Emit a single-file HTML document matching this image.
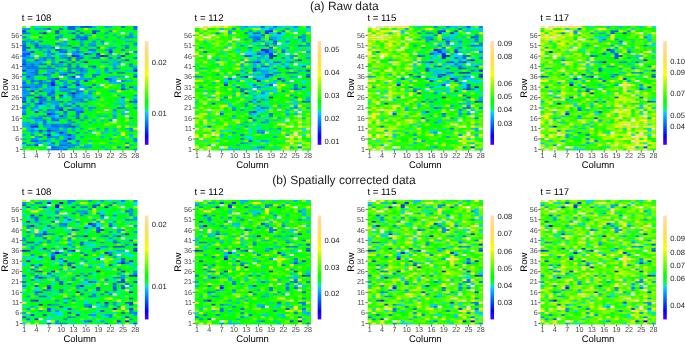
<!DOCTYPE html><html><head><meta charset="utf-8"><style>
html,body{margin:0;padding:0;background:#fff;width:685px;height:345px;overflow:hidden}
svg{display:block;font-family:"Liberation Sans",sans-serif;will-change:transform;text-rendering:geometricPrecision}
.tk{font-size:7.2px;fill:#4d4d4d}
.cl{font-size:7.6px;fill:#1a1a1a}
.at{font-size:9.5px;fill:#000}
.tt{font-size:9.6px;fill:#000}
.hd{font-size:12px;fill:#1a1a1a}
</style></head><body>
<svg width="685" height="345" viewBox="0 0 685 345">
<defs><linearGradient id="cb" x1="0" y1="1" x2="0" y2="0">
<stop offset="0.0000" stop-color="#4c00ff"/><stop offset="0.0083" stop-color="#4500ff"/><stop offset="0.0167" stop-color="#3d00ff"/><stop offset="0.0250" stop-color="#3600ff"/><stop offset="0.0333" stop-color="#2e00ff"/><stop offset="0.0417" stop-color="#2600ff"/><stop offset="0.0500" stop-color="#1f00ff"/><stop offset="0.0583" stop-color="#1700ff"/><stop offset="0.0667" stop-color="#0f00ff"/><stop offset="0.0750" stop-color="#0800ff"/><stop offset="0.0833" stop-color="#0000ff"/><stop offset="0.0917" stop-color="#0008ff"/><stop offset="0.1000" stop-color="#000fff"/><stop offset="0.1083" stop-color="#0017ff"/><stop offset="0.1167" stop-color="#001fff"/><stop offset="0.1250" stop-color="#0026ff"/><stop offset="0.1333" stop-color="#002eff"/><stop offset="0.1417" stop-color="#0036ff"/><stop offset="0.1500" stop-color="#003dff"/><stop offset="0.1583" stop-color="#0045ff"/><stop offset="0.1667" stop-color="#004cff"/><stop offset="0.1750" stop-color="#0054ff"/><stop offset="0.1833" stop-color="#005cff"/><stop offset="0.1917" stop-color="#0063ff"/><stop offset="0.2000" stop-color="#006bff"/><stop offset="0.2083" stop-color="#0073ff"/><stop offset="0.2167" stop-color="#007aff"/><stop offset="0.2250" stop-color="#0082ff"/><stop offset="0.2333" stop-color="#008aff"/><stop offset="0.2417" stop-color="#0091ff"/><stop offset="0.2500" stop-color="#0099ff"/><stop offset="0.2583" stop-color="#00a1ff"/><stop offset="0.2667" stop-color="#00a8ff"/><stop offset="0.2750" stop-color="#00b0ff"/><stop offset="0.2833" stop-color="#00b8ff"/><stop offset="0.2917" stop-color="#00bfff"/><stop offset="0.3000" stop-color="#00c7ff"/><stop offset="0.3083" stop-color="#00cfff"/><stop offset="0.3167" stop-color="#00d6ff"/><stop offset="0.3250" stop-color="#00deff"/><stop offset="0.3333" stop-color="#00ff4d"/><stop offset="0.3417" stop-color="#00ff45"/><stop offset="0.3500" stop-color="#00ff3d"/><stop offset="0.3583" stop-color="#00ff36"/><stop offset="0.3667" stop-color="#00ff2e"/><stop offset="0.3750" stop-color="#00ff26"/><stop offset="0.3833" stop-color="#00ff1f"/><stop offset="0.3917" stop-color="#00ff17"/><stop offset="0.4000" stop-color="#00ff0f"/><stop offset="0.4083" stop-color="#00ff08"/><stop offset="0.4167" stop-color="#00ff00"/><stop offset="0.4250" stop-color="#08ff00"/><stop offset="0.4333" stop-color="#0fff00"/><stop offset="0.4417" stop-color="#17ff00"/><stop offset="0.4500" stop-color="#1fff00"/><stop offset="0.4583" stop-color="#26ff00"/><stop offset="0.4667" stop-color="#2eff00"/><stop offset="0.4750" stop-color="#36ff00"/><stop offset="0.4833" stop-color="#3dff00"/><stop offset="0.4917" stop-color="#45ff00"/><stop offset="0.5000" stop-color="#4dff00"/><stop offset="0.5083" stop-color="#54ff00"/><stop offset="0.5167" stop-color="#5cff00"/><stop offset="0.5250" stop-color="#63ff00"/><stop offset="0.5333" stop-color="#6bff00"/><stop offset="0.5417" stop-color="#73ff00"/><stop offset="0.5500" stop-color="#7aff00"/><stop offset="0.5583" stop-color="#82ff00"/><stop offset="0.5667" stop-color="#8aff00"/><stop offset="0.5750" stop-color="#91ff00"/><stop offset="0.5833" stop-color="#99ff00"/><stop offset="0.5917" stop-color="#a1ff00"/><stop offset="0.6000" stop-color="#a8ff00"/><stop offset="0.6083" stop-color="#b0ff00"/><stop offset="0.6167" stop-color="#b8ff00"/><stop offset="0.6250" stop-color="#bfff00"/><stop offset="0.6333" stop-color="#c7ff00"/><stop offset="0.6417" stop-color="#cfff00"/><stop offset="0.6500" stop-color="#d6ff00"/><stop offset="0.6583" stop-color="#deff00"/><stop offset="0.6667" stop-color="#ffff00"/><stop offset="0.6750" stop-color="#fffc04"/><stop offset="0.6833" stop-color="#fffa09"/><stop offset="0.6917" stop-color="#fff80d"/><stop offset="0.7000" stop-color="#fff612"/><stop offset="0.7083" stop-color="#fff316"/><stop offset="0.7167" stop-color="#fff11b"/><stop offset="0.7250" stop-color="#ffef1f"/><stop offset="0.7333" stop-color="#ffed24"/><stop offset="0.7417" stop-color="#ffec28"/><stop offset="0.7500" stop-color="#ffea2d"/><stop offset="0.7583" stop-color="#ffe831"/><stop offset="0.7667" stop-color="#ffe736"/><stop offset="0.7750" stop-color="#ffe53a"/><stop offset="0.7833" stop-color="#ffe43e"/><stop offset="0.7917" stop-color="#ffe343"/><stop offset="0.8000" stop-color="#ffe247"/><stop offset="0.8083" stop-color="#ffe14c"/><stop offset="0.8167" stop-color="#ffe050"/><stop offset="0.8250" stop-color="#ffdf55"/><stop offset="0.8333" stop-color="#ffde59"/><stop offset="0.8417" stop-color="#ffdd5e"/><stop offset="0.8500" stop-color="#ffdc62"/><stop offset="0.8583" stop-color="#ffdc67"/><stop offset="0.8667" stop-color="#ffdc6b"/><stop offset="0.8750" stop-color="#ffdb70"/><stop offset="0.8833" stop-color="#ffdb74"/><stop offset="0.8917" stop-color="#ffdb78"/><stop offset="0.9000" stop-color="#ffdb7d"/><stop offset="0.9083" stop-color="#ffdb81"/><stop offset="0.9167" stop-color="#ffdb86"/><stop offset="0.9250" stop-color="#ffdb8a"/><stop offset="0.9333" stop-color="#ffdb8f"/><stop offset="0.9417" stop-color="#ffdb93"/><stop offset="0.9500" stop-color="#ffdc98"/><stop offset="0.9583" stop-color="#ffdc9c"/><stop offset="0.9667" stop-color="#ffdda1"/><stop offset="0.9750" stop-color="#ffdea5"/><stop offset="0.9833" stop-color="#ffdfaa"/><stop offset="0.9917" stop-color="#ffdfae"/><stop offset="1.0000" stop-color="#ffe0b2"/>
</linearGradient></defs>
<text class="hd" x="344.3" y="9.6" text-anchor="middle">(a) Raw data</text>
<svg x="22.15" y="26.0" width="115.2" height="124.45" viewBox="0 0 28 60" preserveAspectRatio="none"><rect width="28" height="60" fill="#00ff41"/><path fill="#3600ff" d="M7 28h1v1H7z"/><path fill="#1f00ff" d="M12 32h1v1H12zM4 37h1v1H4zM3 48h1v1H3z"/><path fill="#1300ff" d="M5 3h1v1H5zM15 17h1v1H15zM27 21h1v1H27zM12 24h1v1H12z"/><path fill="#000fff" d="M3 34h1v1H3z"/><path fill="#001bff" d="M12 6h1v1H12zM1 13h1v1H1zM12 14h1v1H12zM9 17h1v1H9zM1 24h1v1H1zM9 33h1v1H9zM4 34h1v1H4zM0 36h1v1H0zM9 40h1v1H9zM3 41h1v1H3zM6 42h1v1H6zM6 50h1v1H6zM9 51h1v1H9zM11 54h1v1H11z"/><path fill="#0026ff" d="M0 2h1v1H0zM8 2h1v1H8zM17 3h1v1H17zM1 10h1v1H1zM2 12h1v1H2zM21 12h1v1H21zM15 13h1v1H15zM18 13h1v1H18zM19 14h1v1H19zM24 14h1v1H24zM0 21h1v1H0zM5 23h1v1H5zM7 27h1v1H7zM13 28h1v1H13zM1 29h1v1H1zM10 29h1v1H10zM2 31h1v1H2zM9 43h1v1H9zM2 48h1v1H2zM12 48h1v1H12zM4 50h1v1H4zM6 52h1v1H6zM3 57h1v1H3z"/><path fill="#0032ff" d="M17 2h1v1H17zM12 3h1v1H12zM3 9h1v1H3zM13 14h1v1H13zM20 14h1v1H20zM0 18h1v1H0zM17 19h1v1H17zM10 23h1v1H10zM8 25h1v1H8zM20 25h1v1H20zM15 26h1v1H15zM24 30h1v1H24zM4 31h1v1H4zM7 34h1v1H7zM14 41h1v1H14zM13 44h1v1H13zM11 52h1v1H11z"/><path fill="#003dff" d="M8 3h1v1H8zM25 16h1v1H25zM26 29h1v1H26zM24 34h1v1H24zM27 36h1v1H27z"/><path fill="#0049ff" d="M27 24h1v1H27zM26 36h1v1H26zM25 58h1v1H25z"/><path fill="#0054ff" d="M15 0h1v1H15zM14 3h1v1H14zM15 5h1v1H15zM15 6h1v1H15zM7 10h1v1H7zM10 12h1v1H10zM11 15h1v1H11zM3 16h1v1H3zM12 17h1v1H12zM11 18h1v1H11zM2 19h1v1H2zM1 20h1v1H1zM3 21h1v1H3zM12 22h1v1H12zM3 23h1v1H3zM0 29h1v1H0zM3 29h1v1H3zM5 35h1v1H5zM2 36h1v1H2zM4 36h1v1H4zM9 36h1v1H9zM8 45h1v1H8zM11 45h1v1H11zM11 48h1v1H11zM10 55h1v1H10zM7 56h1v1H7zM7 58h1v1H7zM10 59h1v1H10z"/><path fill="#0060ff" d="M11 0h2v1H11zM14 0h1v1H14zM16 0h1v1H16zM11 1h2v1H11zM13 2h1v1H13zM18 2h1v1H18zM0 3h1v1H0zM13 4h1v1H13zM8 5h1v1H8zM14 6h1v1H14zM0 7h1v1H0zM2 7h1v1H2zM4 7h1v1H4zM0 9h1v1H0zM11 9h1v1H11zM0 10h1v1H0zM4 10h1v1H4zM25 10h1v1H25zM0 11h1v1H0zM8 11h1v1H8zM9 12h1v1H9zM13 12h1v1H13zM0 13h1v1H0zM0 14h1v1H0zM5 15h1v1H5zM11 16h1v1H11zM13 16h1v1H13zM7 18h1v1H7zM6 19h1v1H6zM5 20h1v1H5zM14 20h1v1H14zM3 22h1v1H3zM7 22h1v1H7zM11 22h1v1H11zM14 23h1v1H14zM17 23h1v1H17zM2 26h1v1H2zM7 26h1v1H7zM0 27h1v1H0zM16 29h1v1H16zM13 31h1v1H13zM12 33h1v1H12zM0 34h1v1H0zM12 34h1v1H12zM0 35h1v1H0zM4 35h1v1H4zM11 38h1v1H11zM13 38h1v1H13zM11 40h2v1H11zM10 41h1v1H10zM0 42h1v1H0zM7 42h1v1H7zM13 42h1v1H13zM3 44h2v1H3zM7 44h1v1H7zM5 45h1v1H5zM7 45h1v1H7zM5 46h1v1H5zM11 47h1v1H11zM8 48h1v1H8zM10 48h1v1H10zM13 51h1v1H13zM3 55h1v1H3zM13 55h1v1H13zM11 56h1v1H11zM9 57h1v1H9zM12 57h1v1H12zM8 58h1v1H8z"/><path fill="#006bff" d="M24 0h1v1H24zM27 0h1v1H27zM6 1h1v1H6zM9 1h1v1H9zM21 2h1v1H21zM13 5h2v1H13zM25 5h1v1H25zM19 7h1v1H19zM3 8h1v1H3zM8 8h1v1H8zM27 8h1v1H27zM17 9h1v1H17zM3 10h1v1H3zM12 10h2v1H12zM18 10h1v1H18zM9 11h1v1H9zM16 11h2v1H16zM21 11h1v1H21zM6 12h1v1H6zM7 13h1v1H7zM25 13h1v1H25zM7 15h1v1H7zM13 15h2v1H13zM17 15h1v1H17zM23 15h1v1H23zM0 16h1v1H0zM5 16h1v1H5zM0 17h1v1H0zM20 17h1v1H20zM2 18h1v1H2zM4 18h2v1H4zM1 19h1v1H1zM3 19h1v1H3zM8 19h1v1H8zM11 19h1v1H11zM13 19h1v1H13zM2 20h3v1H2zM6 20h2v1H6zM12 20h1v1H12zM11 21h1v1H11zM14 21h1v1H14zM2 22h1v1H2zM24 22h1v1H24zM0 23h1v1H0zM9 23h1v1H9zM13 23h1v1H13zM7 25h1v1H7zM4 26h1v1H4zM4 27h1v1H4zM6 27h1v1H6zM4 28h1v1H4zM17 28h1v1H17zM9 29h1v1H9zM11 30h1v1H11zM7 31h1v1H7zM6 32h2v1H6zM11 32h1v1H11zM16 32h1v1H16zM1 33h2v1H1zM6 33h1v1H6zM7 35h1v1H7zM14 35h1v1H14zM11 36h1v1H11zM3 37h1v1H3zM12 37h1v1H12zM8 38h1v1H8zM0 39h1v1H0zM8 39h2v1H8zM6 40h1v1H6zM13 41h1v1H13zM5 43h1v1H5zM13 43h1v1H13zM12 46h1v1H12zM2 47h1v1H2zM5 47h1v1H5zM7 47h2v1H7zM10 47h1v1H10zM7 48h1v1H7zM6 49h1v1H6zM7 50h1v1H7zM6 53h1v1H6zM2 55h1v1H2zM5 55h1v1H5zM1 57h1v1H1zM10 57h1v1H10zM11 58h1v1H11zM7 59h2v1H7z"/><path fill="#0077ff" d="M27 1h1v1H27zM1 3h1v1H1zM4 3h1v1H4zM0 5h1v1H0zM4 5h1v1H4zM17 7h1v1H17zM0 8h1v1H0zM24 11h1v1H24zM27 12h1v1H27zM18 14h1v1H18zM18 15h1v1H18zM21 15h1v1H21zM26 18h1v1H26zM0 19h1v1H0zM16 19h1v1H16zM11 20h1v1H11zM13 20h1v1H13zM22 20h1v1H22zM20 21h1v1H20zM23 22h1v1H23zM18 23h1v1H18zM11 24h1v1H11zM17 24h1v1H17zM21 25h1v1H21zM13 26h1v1H13zM24 26h1v1H24zM12 27h2v1H12zM12 30h1v1H12zM10 31h1v1H10zM14 31h1v1H14zM13 32h1v1H13zM5 34h1v1H5zM15 34h1v1H15zM18 34h1v1H18zM13 35h1v1H13zM14 36h2v1H14zM16 39h1v1H16zM23 39h1v1H23zM22 43h1v1H22zM15 44h1v1H15zM14 45h1v1H14zM3 47h1v1H3zM2 50h1v1H2zM4 53h1v1H4zM0 56h1v1H0zM23 58h1v1H23z"/><path fill="#0082ff" d="M20 3h1v1H20zM26 4h1v1H26zM26 5h1v1H26zM25 9h1v1H25zM22 10h1v1H22zM27 15h1v1H27zM23 17h1v1H23zM26 19h1v1H26zM20 20h1v1H20zM27 20h1v1H27zM21 22h1v1H21zM21 26h1v1H21zM24 28h1v1H24zM24 29h1v1H24zM16 35h1v1H16zM22 40h1v1H22zM21 45h1v1H21zM25 56h1v1H25z"/><path fill="#008eff" d="M15 4h1v1H15zM14 8h1v1H14zM14 9h1v1H14zM5 10h1v1H5zM10 11h1v1H10zM12 13h1v1H12zM16 13h1v1H16zM2 15h1v1H2zM10 15h1v1H10zM1 18h1v1H1zM10 19h1v1H10zM8 21h1v1H8zM13 21h1v1H13zM10 22h1v1H10zM6 23h1v1H6zM27 23h1v1H27zM6 24h1v1H6zM2 25h1v1H2zM3 26h1v1H3zM9 26h1v1H9zM5 27h1v1H5zM0 28h1v1H0zM3 28h1v1H3zM6 28h1v1H6zM11 28h1v1H11zM0 30h1v1H0zM7 30h1v1H7zM13 30h1v1H13zM0 31h2v1H0zM9 31h1v1H9zM0 32h1v1H0zM4 33h1v1H4zM27 33h1v1H27zM9 34h1v1H9zM2 35h1v1H2zM12 35h1v1H12zM27 35h1v1H27zM5 36h2v1H5zM8 36h1v1H8zM0 38h1v1H0zM3 38h1v1H3zM10 38h1v1H10zM24 39h1v1H24zM27 39h1v1H27zM4 40h1v1H4zM7 40h1v1H7zM0 41h1v1H0zM7 41h1v1H7zM10 42h1v1H10zM4 43h1v1H4zM6 43h1v1H6zM2 44h1v1H2zM26 44h1v1H26zM3 45h1v1H3zM9 47h1v1H9zM9 48h1v1H9zM8 49h1v1H8zM20 49h1v1H20zM26 49h1v1H26zM8 50h1v1H8zM26 50h1v1H26zM4 51h1v1H4zM6 51h1v1H6zM10 51h1v1H10zM2 52h1v1H2zM5 52h1v1H5zM7 53h2v1H7zM27 54h1v1H27zM27 55h1v1H27zM11 57h1v1H11zM9 58h1v1H9zM6 59h1v1H6zM9 59h1v1H9zM27 59h1v1H27z"/><path fill="#0099ff" d="M20 0h1v1H20zM0 1h1v1H0zM1 7h1v1H1zM10 7h1v1H10zM14 7h1v1H14zM16 8h1v1H16zM5 9h1v1H5zM16 9h1v1H16zM6 10h1v1H6zM15 10h1v1H15zM4 11h1v1H4zM13 11h1v1H13zM0 12h1v1H0zM12 12h1v1H12zM1 14h1v1H1zM6 14h1v1H6zM9 14h2v1H9zM1 15h1v1H1zM4 15h1v1H4zM6 15h1v1H6zM9 15h1v1H9zM4 16h1v1H4zM7 16h1v1H7zM1 17h1v1H1zM3 17h1v1H3zM10 17h1v1H10zM14 17h1v1H14zM19 17h1v1H19zM8 18h1v1H8zM13 18h1v1H13zM9 19h1v1H9zM0 20h1v1H0zM15 21h1v1H15zM1 22h1v1H1zM9 22h1v1H9zM14 22h1v1H14zM1 23h2v1H1zM2 24h1v1H2zM14 24h1v1H14zM6 25h1v1H6zM12 25h1v1H12zM15 25h2v1H15zM2 27h1v1H2zM10 27h1v1H10zM2 28h1v1H2zM10 28h1v1H10zM2 29h1v1H2zM4 29h1v1H4zM6 29h1v1H6zM15 29h1v1H15zM3 30h1v1H3zM5 30h1v1H5zM11 31h1v1H11zM1 32h1v1H1zM3 32h1v1H3zM0 33h1v1H0zM7 33h1v1H7zM13 34h1v1H13zM8 37h1v1H8zM2 39h1v1H2zM14 39h1v1H14zM8 40h1v1H8zM13 40h2v1H13zM10 43h1v1H10zM1 44h1v1H1zM4 45h1v1H4zM1 46h1v1H1zM5 48h2v1H5zM2 49h1v1H2zM7 49h1v1H7zM10 49h1v1H10zM14 49h1v1H14zM12 50h1v1H12zM10 52h1v1H10zM3 53h1v1H3zM11 53h2v1H11zM14 53h1v1H14zM2 54h2v1H2zM12 54h1v1H12zM9 55h1v1H9zM9 56h2v1H9zM2 57h1v1H2zM12 58h1v1H12zM15 58h1v1H15z"/><path fill="#00a4ff" d="M13 0h1v1H13zM17 0h1v1H17zM1 1h1v1H1zM3 1h1v1H3zM5 1h1v1H5zM26 3h1v1H26zM9 4h1v1H9zM22 4h1v1H22zM9 5h1v1H9zM23 5h1v1H23zM8 6h1v1H8zM13 6h1v1H13zM18 6h1v1H18zM2 8h1v1H2zM9 8h1v1H9zM17 8h1v1H17zM19 8h1v1H19zM4 9h1v1H4zM6 9h1v1H6zM9 9h2v1H9zM21 10h1v1H21zM6 11h1v1H6zM20 11h1v1H20zM1 12h1v1H1zM5 12h1v1H5zM14 12h1v1H14zM6 13h1v1H6zM13 13h1v1H13zM21 13h1v1H21zM14 14h1v1H14zM0 15h1v1H0zM16 15h1v1H16zM24 16h1v1H24zM2 17h1v1H2zM4 17h1v1H4zM7 17h1v1H7zM3 18h1v1H3zM9 18h1v1H9zM22 18h1v1H22zM22 19h1v1H22zM17 20h1v1H17zM23 20h1v1H23zM1 21h2v1H1zM6 21h2v1H6zM6 22h1v1H6zM15 22h1v1H15zM4 23h1v1H4zM23 24h2v1H23zM1 25h1v1H1zM11 25h1v1H11zM13 25h2v1H13zM0 26h1v1H0zM5 26h1v1H5zM10 26h1v1H10zM22 26h1v1H22zM1 28h1v1H1zM8 28h1v1H8zM7 29h1v1H7zM2 30h1v1H2zM6 30h1v1H6zM9 30h2v1H9zM5 31h2v1H5zM16 31h2v1H16zM14 32h1v1H14zM11 33h1v1H11zM13 33h1v1H13zM15 33h1v1H15zM14 34h1v1H14zM7 36h1v1H7zM12 36h2v1H12zM1 37h1v1H1zM5 37h1v1H5zM7 37h1v1H7zM10 37h1v1H10zM1 38h1v1H1zM6 38h1v1H6zM3 39h1v1H3zM12 39h2v1H12zM17 39h1v1H17zM2 40h1v1H2zM5 41h2v1H5zM8 42h1v1H8zM7 43h1v1H7zM12 43h1v1H12zM15 43h1v1H15zM8 44h3v1H8zM17 45h1v1H17zM11 46h1v1H11zM16 46h1v1H16zM0 47h2v1H0zM6 47h1v1H6zM1 48h1v1H1zM13 48h1v1H13zM12 49h1v1H12zM18 49h1v1H18zM1 50h1v1H1zM3 50h1v1H3zM5 50h1v1H5zM9 50h2v1H9zM16 50h1v1H16zM2 51h1v1H2zM8 51h1v1H8zM0 52h1v1H0zM9 52h1v1H9zM12 52h1v1H12zM10 53h1v1H10zM6 54h1v1H6zM8 54h1v1H8zM10 54h1v1H10zM4 55h1v1H4zM6 55h1v1H6zM3 56h2v1H3zM13 56h1v1H13zM6 57h2v1H6zM13 57h1v1H13zM10 58h1v1H10zM14 58h1v1H14z"/><path fill="#00b0ff" d="M21 0h1v1H21zM4 1h1v1H4zM11 3h1v1H11zM16 4h1v1H16zM20 5h1v1H20zM27 5h1v1H27zM1 6h1v1H1zM25 7h2v1H25zM10 8h1v1H10zM24 9h1v1H24zM27 9h1v1H27zM17 12h1v1H17zM23 14h1v1H23zM22 16h1v1H22zM21 18h1v1H21zM23 18h1v1H23zM27 19h1v1H27zM15 20h1v1H15zM18 21h1v1H18zM20 22h1v1H20zM22 24h1v1H22zM25 26h1v1H25zM23 27h1v1H23zM14 28h1v1H14zM13 29h2v1H13zM15 30h1v1H15zM25 30h1v1H25zM27 30h1v1H27zM21 31h2v1H21zM14 33h1v1H14zM23 33h1v1H23zM16 34h1v1H16zM15 38h1v1H15zM0 40h1v1H0zM16 40h1v1H16zM22 41h1v1H22zM24 42h1v1H24zM2 43h1v1H2zM19 43h2v1H19zM22 44h1v1H22zM0 46h1v1H0zM3 46h1v1H3zM13 47h1v1H13zM0 48h1v1H0zM1 49h1v1H1zM25 49h1v1H25zM20 50h1v1H20zM22 50h1v1H22zM15 51h1v1H15zM26 52h1v1H26zM19 53h1v1H19zM0 54h1v1H0zM21 54h1v1H21zM15 57h2v1H15zM26 57h1v1H26zM16 58h1v1H16zM19 58h1v1H19zM20 59h1v1H20z"/><path fill="#00bbff" d="M24 6h1v1H24zM22 7h1v1H22zM21 16h1v1H21zM22 17h1v1H22zM22 21h1v1H22zM25 21h2v1H25zM18 22h1v1H18zM21 24h1v1H21zM22 25h1v1H22zM26 26h1v1H26zM21 27h2v1H21zM18 29h1v1H18zM27 29h1v1H27zM16 33h1v1H16zM17 35h1v1H17zM23 37h2v1H23zM27 37h1v1H27zM24 38h1v1H24zM25 40h1v1H25zM22 42h1v1H22zM18 43h1v1H18zM19 45h1v1H19zM22 49h1v1H22zM19 51h1v1H19zM22 52h1v1H22zM16 55h1v1H16zM21 56h1v1H21z"/><path fill="#00c7ff" d="M27 34h1v1H27zM23 35h2v1H23zM24 36h1v1H24zM22 37h1v1H22zM24 41h1v1H24zM26 47h1v1H26zM20 51h1v1H20zM23 51h1v1H23zM26 53h1v1H26zM24 54h1v1H24z"/><path fill="#00d2ff" d="M5 38h1v1H5z"/><path fill="#00deff" d="M3 0h1v1H3zM10 0h1v1H10zM1 4h1v1H1zM3 7h1v1H3zM2 11h1v1H2zM11 11h1v1H11zM16 12h1v1H16zM5 13h1v1H5zM8 13h2v1H8zM2 14h1v1H2zM9 21h1v1H9zM5 22h1v1H5zM0 24h1v1H0zM8 30h1v1H8zM10 33h1v1H10zM10 34h1v1H10zM1 35h1v1H1zM3 36h1v1H3zM11 37h1v1H11zM4 38h1v1H4zM7 38h1v1H7zM3 40h1v1H3zM8 43h1v1H8zM2 45h1v1H2zM4 46h1v1H4zM6 46h1v1H6zM8 46h1v1H8zM3 49h1v1H3zM8 52h1v1H8zM6 56h1v1H6zM0 57h1v1H0z"/><path fill="#00ff49" d="M2 2h1v1H2zM10 2h1v1H10zM12 2h1v1H12zM23 2h1v1H23zM26 2h1v1H26zM23 3h1v1H23zM7 4h1v1H7zM1 5h1v1H1zM11 5h1v1H11zM21 6h1v1H21zM6 7h1v1H6zM1 8h1v1H1zM21 8h1v1H21zM13 9h1v1H13zM2 10h1v1H2zM26 11h1v1H26zM7 12h1v1H7zM11 12h1v1H11zM15 12h1v1H15zM24 12h1v1H24zM2 13h1v1H2zM14 13h1v1H14zM8 14h1v1H8zM27 14h1v1H27zM9 16h1v1H9zM5 17h1v1H5zM8 17h1v1H8zM14 18h1v1H14zM5 19h1v1H5zM24 19h1v1H24zM16 20h1v1H16zM16 23h1v1H16zM4 24h1v1H4zM7 24h1v1H7zM9 27h1v1H9zM9 35h1v1H9zM14 37h1v1H14zM4 39h1v1H4zM11 39h1v1H11zM2 41h1v1H2zM8 41h1v1H8zM2 42h1v1H2zM1 43h1v1H1zM14 43h1v1H14zM0 44h1v1H0zM6 44h1v1H6zM10 46h1v1H10zM4 47h1v1H4zM1 52h1v1H1zM1 55h1v1H1zM7 55h1v1H7zM11 55h1v1H11zM12 56h1v1H12zM13 58h1v1H13zM0 59h1v1H0z"/><path fill="#00ff3d" d="M4 0h1v1H4zM18 0h1v1H18zM22 0h1v1H22zM10 1h1v1H10zM13 1h1v1H13zM16 1h1v1H16zM3 2h1v1H3zM14 4h1v1H14zM10 5h1v1H10zM21 7h1v1H21zM19 9h1v1H19zM22 9h1v1H22zM3 11h1v1H3zM12 11h1v1H12zM3 13h1v1H3zM27 13h1v1H27zM22 14h1v1H22zM25 15h1v1H25zM15 18h1v1H15zM19 18h1v1H19zM25 18h1v1H25zM14 19h1v1H14zM21 19h1v1H21zM18 20h1v1H18zM21 20h1v1H21zM25 20h1v1H25zM12 21h1v1H12zM19 21h1v1H19zM21 21h1v1H21zM27 22h1v1H27zM12 23h1v1H12zM3 24h1v1H3zM10 24h1v1H10zM18 24h1v1H18zM10 25h1v1H10zM8 26h1v1H8zM14 27h1v1H14zM9 28h1v1H9zM18 28h1v1H18zM5 29h1v1H5zM11 29h1v1H11zM15 32h1v1H15zM6 34h1v1H6zM11 34h1v1H11zM17 34h1v1H17zM11 35h1v1H11zM15 35h1v1H15zM17 36h1v1H17zM9 38h1v1H9zM5 39h1v1H5zM4 42h1v1H4zM11 42h1v1H11zM18 44h1v1H18zM14 46h1v1H14zM16 47h1v1H16zM15 48h1v1H15zM4 49h1v1H4zM11 49h1v1H11zM13 50h1v1H13zM17 50h1v1H17zM7 51h1v1H7zM13 53h1v1H13zM18 53h1v1H18zM4 54h1v1H4zM13 54h1v1H13zM14 55h1v1H14zM8 57h1v1H8zM5 59h1v1H5z"/><path fill="#00ff32" d="M18 1h2v1H18zM25 2h1v1H25zM3 3h1v1H3zM6 3h1v1H6zM10 3h1v1H10zM13 3h1v1H13zM19 3h1v1H19zM22 3h1v1H22zM2 4h1v1H2zM11 4h2v1H11zM18 4h1v1H18zM21 4h1v1H21zM18 5h1v1H18zM2 6h1v1H2zM5 6h1v1H5zM25 6h1v1H25zM5 7h1v1H5zM11 7h1v1H11zM15 7h1v1H15zM18 7h1v1H18zM24 7h1v1H24zM7 8h1v1H7zM18 8h1v1H18zM25 8h1v1H25zM8 9h1v1H8zM23 9h1v1H23zM17 10h1v1H17zM26 10h2v1H26zM7 11h1v1H7zM22 11h1v1H22zM18 12h1v1H18zM20 12h1v1H20zM7 14h1v1H7zM15 14h1v1H15zM26 15h1v1H26zM2 16h1v1H2zM8 16h1v1H8zM15 16h1v1H15zM17 16h1v1H17zM17 18h2v1H17zM4 19h1v1H4zM19 20h1v1H19zM8 22h1v1H8zM16 22h2v1H16zM26 22h1v1H26zM15 24h1v1H15zM3 25h1v1H3zM12 26h1v1H12zM27 26h1v1H27zM12 29h1v1H12zM8 31h1v1H8zM8 32h1v1H8zM22 32h2v1H22zM5 33h1v1H5zM24 33h1v1H24zM20 34h1v1H20zM10 35h1v1H10zM16 38h2v1H16zM7 39h1v1H7zM18 39h1v1H18zM22 39h1v1H22zM10 40h1v1H10zM11 41h1v1H11zM27 41h1v1H27zM14 42h1v1H14zM20 42h1v1H20zM24 44h1v1H24zM6 45h1v1H6zM13 46h1v1H13zM27 46h1v1H27zM21 48h1v1H21zM13 49h1v1H13zM21 50h1v1H21zM3 51h1v1H3zM14 51h1v1H14zM21 51h1v1H21zM7 52h1v1H7zM16 52h1v1H16zM0 53h2v1H0zM20 53h1v1H20zM23 54h1v1H23zM12 55h1v1H12zM1 56h1v1H1zM14 56h1v1H14zM27 56h1v1H27zM2 58h1v1H2zM5 58h1v1H5zM11 59h1v1H11zM13 59h1v1H13z"/><path fill="#00ff26" d="M7 0h2v1H7zM8 1h1v1H8zM20 1h1v1H20zM24 2h1v1H24zM21 3h1v1H21zM24 4h1v1H24zM27 4h1v1H27zM12 5h1v1H12zM22 5h1v1H22zM0 6h1v1H0zM17 6h1v1H17zM13 7h1v1H13zM22 8h1v1H22zM23 10h1v1H23zM6 16h1v1H6zM19 16h1v1H19zM18 17h1v1H18zM24 17h1v1H24zM26 17h1v1H26zM6 18h1v1H6zM20 18h1v1H20zM18 19h1v1H18zM20 19h1v1H20zM26 20h1v1H26zM17 21h1v1H17zM24 21h1v1H24zM19 23h1v1H19zM25 25h1v1H25zM14 26h1v1H14zM18 26h3v1H18zM25 27h1v1H25zM5 28h1v1H5zM23 29h1v1H23zM19 30h1v1H19zM4 32h1v1H4zM21 32h1v1H21zM18 33h2v1H18zM25 33h1v1H25zM20 35h1v1H20zM1 36h1v1H1zM18 36h1v1H18zM20 36h1v1H20zM2 37h1v1H2zM26 37h1v1H26zM19 39h1v1H19zM9 41h1v1H9zM1 42h1v1H1zM3 42h1v1H3zM17 42h1v1H17zM26 42h1v1H26zM16 44h2v1H16zM0 45h1v1H0zM20 45h1v1H20zM7 46h1v1H7zM17 46h1v1H17zM18 47h1v1H18zM24 47h1v1H24zM27 47h1v1H27zM4 48h1v1H4zM18 50h1v1H18zM1 51h1v1H1zM16 51h1v1H16zM25 51h1v1H25zM3 52h1v1H3zM14 52h1v1H14zM17 52h1v1H17zM19 52h1v1H19zM25 52h1v1H25zM7 54h1v1H7zM26 54h1v1H26zM24 55h2v1H24zM5 56h1v1H5zM5 57h1v1H5zM18 57h1v1H18zM3 58h1v1H3zM21 58h1v1H21zM22 59h1v1H22z"/><path fill="#00ff1b" d="M5 0h1v1H5zM2 1h1v1H2zM7 1h1v1H7zM17 1h1v1H17zM25 1h2v1H25zM20 2h1v1H20zM27 3h1v1H27zM20 4h1v1H20zM6 6h1v1H6zM9 7h1v1H9zM16 7h1v1H16zM23 8h1v1H23zM1 9h1v1H1zM18 9h1v1H18zM3 12h1v1H3zM8 12h1v1H8zM19 12h1v1H19zM22 12h1v1H22zM8 15h1v1H8zM15 15h1v1H15zM20 15h1v1H20zM10 16h1v1H10zM16 16h1v1H16zM20 16h1v1H20zM26 16h1v1H26zM17 17h1v1H17zM8 20h1v1H8zM11 23h1v1H11zM20 24h1v1H20zM1 27h1v1H1zM19 27h1v1H19zM26 28h1v1H26zM8 29h1v1H8zM17 30h1v1H17zM23 30h1v1H23zM3 31h1v1H3zM5 32h1v1H5zM25 32h1v1H25zM17 33h1v1H17zM1 34h2v1H1zM6 35h1v1H6zM8 35h1v1H8zM22 36h1v1H22zM25 37h1v1H25zM20 38h2v1H20zM10 39h1v1H10zM5 40h1v1H5zM1 41h1v1H1zM4 41h1v1H4zM9 42h1v1H9zM21 42h1v1H21zM16 43h1v1H16zM12 44h1v1H12zM13 45h1v1H13zM18 46h1v1H18zM26 46h1v1H26zM25 47h1v1H25zM16 48h1v1H16zM18 48h1v1H18zM5 49h1v1H5zM21 49h1v1H21zM24 49h1v1H24zM0 50h1v1H0zM5 51h1v1H5zM12 51h1v1H12zM22 51h1v1H22zM15 53h1v1H15zM21 53h1v1H21zM8 55h1v1H8zM8 56h1v1H8zM17 57h1v1H17zM20 57h1v1H20zM23 57h1v1H23zM0 58h1v1H0zM18 58h1v1H18zM20 58h1v1H20zM24 59h1v1H24z"/><path fill="#00ff0f" d="M21 1h1v1H21zM4 2h2v1H4zM9 2h1v1H9zM27 2h1v1H27zM9 3h1v1H9zM16 3h1v1H16zM18 3h1v1H18zM8 4h1v1H8zM25 4h1v1H25zM4 6h1v1H4zM7 6h1v1H7zM20 6h1v1H20zM23 7h1v1H23zM5 8h2v1H5zM2 9h1v1H2zM7 9h1v1H7zM9 10h2v1H9zM20 10h1v1H20zM5 11h1v1H5zM19 11h1v1H19zM17 13h1v1H17zM4 14h1v1H4zM14 16h1v1H14zM16 18h1v1H16zM9 20h1v1H9zM4 21h1v1H4zM19 22h1v1H19zM25 22h1v1H25zM15 23h1v1H15zM0 25h1v1H0zM24 25h1v1H24zM16 26h1v1H16zM8 27h1v1H8zM11 27h1v1H11zM16 27h1v1H16zM12 28h1v1H12zM25 28h1v1H25zM1 30h1v1H1zM12 31h1v1H12zM19 32h2v1H19zM25 34h1v1H25zM26 35h1v1H26zM10 36h1v1H10zM23 36h1v1H23zM6 37h1v1H6zM9 37h1v1H9zM13 37h1v1H13zM19 37h1v1H19zM21 37h1v1H21zM12 38h1v1H12zM1 39h1v1H1zM25 39h1v1H25zM15 40h1v1H15zM12 42h1v1H12zM16 42h1v1H16zM25 42h1v1H25zM3 43h1v1H3zM27 43h1v1H27zM11 44h1v1H11zM14 44h1v1H14zM10 45h1v1H10zM20 46h1v1H20zM12 47h1v1H12zM14 47h2v1H14zM19 47h1v1H19zM22 48h1v1H22zM14 50h1v1H14zM24 50h1v1H24zM11 51h1v1H11zM13 52h1v1H13zM20 52h1v1H20zM23 52h1v1H23zM16 53h1v1H16zM24 53h1v1H24zM1 54h1v1H1zM9 54h1v1H9zM19 54h1v1H19zM17 55h1v1H17zM27 57h1v1H27zM4 59h1v1H4zM12 59h1v1H12zM26 59h1v1H26z"/><path fill="#00ff04" d="M2 0h1v1H2zM6 0h1v1H6zM14 1h1v1H14zM22 1h1v1H22zM2 3h1v1H2zM10 4h1v1H10zM19 4h1v1H19zM6 5h1v1H6zM3 6h1v1H3zM7 7h1v1H7zM12 7h1v1H12zM20 7h1v1H20zM27 7h1v1H27zM12 8h1v1H12zM15 8h1v1H15zM15 9h1v1H15zM15 11h1v1H15zM18 11h1v1H18zM10 13h1v1H10zM5 14h1v1H5zM16 14h1v1H16zM22 15h1v1H22zM1 16h1v1H1zM11 17h1v1H11zM16 17h1v1H16zM21 17h1v1H21zM12 18h1v1H12zM5 21h1v1H5zM10 21h1v1H10zM23 21h1v1H23zM13 22h1v1H13zM23 23h1v1H23zM8 24h1v1H8zM26 25h1v1H26zM17 27h1v1H17zM24 27h1v1H24zM15 28h1v1H15zM27 28h1v1H27zM19 29h1v1H19zM16 30h1v1H16zM22 30h1v1H22zM9 32h1v1H9zM26 32h1v1H26zM20 33h2v1H20zM22 34h1v1H22zM26 34h1v1H26zM21 35h1v1H21zM21 36h1v1H21zM0 37h1v1H0zM22 38h1v1H22zM26 39h1v1H26zM26 40h1v1H26zM12 41h1v1H12zM15 41h2v1H15zM23 41h1v1H23zM15 42h1v1H15zM18 42h1v1H18zM5 44h1v1H5zM12 45h1v1H12zM24 45h1v1H24zM27 45h1v1H27zM25 46h1v1H25zM17 47h1v1H17zM24 48h1v1H24zM27 50h1v1H27zM0 51h1v1H0zM15 52h1v1H15zM5 53h1v1H5zM9 53h1v1H9zM5 54h1v1H5zM15 55h1v1H15zM26 55h1v1H26zM22 56h1v1H22zM19 57h1v1H19zM17 59h1v1H17z"/><path fill="#08ff00" d="M9 0h1v1H9zM25 0h1v1H25zM14 2h1v1H14zM7 3h1v1H7zM15 3h1v1H15zM3 4h1v1H3zM6 4h1v1H6zM21 5h1v1H21zM16 6h1v1H16zM23 6h1v1H23zM11 8h1v1H11zM13 8h1v1H13zM12 9h1v1H12zM20 9h2v1H20zM14 10h1v1H14zM16 10h1v1H16zM4 12h1v1H4zM4 13h1v1H4zM20 13h1v1H20zM23 13h1v1H23zM26 13h1v1H26zM17 14h1v1H17zM26 14h1v1H26zM12 15h1v1H12zM18 16h1v1H18zM23 16h1v1H23zM10 18h1v1H10zM7 19h1v1H7zM25 19h1v1H25zM16 21h1v1H16zM0 22h1v1H0zM20 23h1v1H20zM25 23h1v1H25zM5 24h1v1H5zM19 24h1v1H19zM4 25h1v1H4zM17 25h2v1H17zM1 26h1v1H1zM6 26h1v1H6zM3 27h1v1H3zM16 28h1v1H16zM21 29h1v1H21zM18 30h1v1H18zM20 30h1v1H20zM19 31h2v1H19zM27 31h1v1H27zM10 32h1v1H10zM17 32h1v1H17zM26 33h1v1H26zM3 35h1v1H3zM22 35h1v1H22zM16 36h1v1H16zM15 37h2v1H15zM18 38h1v1H18zM27 38h1v1H27zM6 39h1v1H6zM20 39h1v1H20zM17 40h2v1H17zM17 41h1v1H17zM26 41h1v1H26zM5 42h1v1H5zM19 42h1v1H19zM0 43h1v1H0zM11 43h1v1H11zM21 44h1v1H21zM27 44h1v1H27zM1 45h1v1H1zM15 45h1v1H15zM2 46h1v1H2zM9 46h1v1H9zM19 46h1v1H19zM14 48h1v1H14zM15 49h1v1H15zM11 50h1v1H11zM26 51h1v1H26zM17 53h1v1H17zM0 55h1v1H0zM18 55h1v1H18zM22 57h1v1H22zM15 59h1v1H15zM21 59h1v1H21z"/><path fill="#13ff00" d="M19 0h1v1H19zM26 0h1v1H26zM24 1h1v1H24zM1 2h1v1H1zM7 2h1v1H7zM11 2h1v1H11zM15 2h2v1H15zM5 4h1v1H5zM16 5h1v1H16zM19 5h1v1H19zM24 5h1v1H24zM11 6h1v1H11zM19 6h1v1H19zM22 6h1v1H22zM26 6h2v1H26zM4 8h1v1H4zM24 8h1v1H24zM26 8h1v1H26zM26 9h1v1H26zM11 10h1v1H11zM24 10h1v1H24zM1 11h1v1H1zM14 11h1v1H14zM23 11h1v1H23zM25 11h1v1H25zM23 12h1v1H23zM25 12h1v1H25zM11 14h1v1H11zM21 14h1v1H21zM25 14h1v1H25zM13 17h1v1H13zM12 19h1v1H12zM4 22h1v1H4zM7 23h2v1H7zM21 23h1v1H21zM5 25h1v1H5zM9 25h1v1H9zM19 25h1v1H19zM11 26h1v1H11zM15 27h1v1H15zM26 27h1v1H26zM23 28h1v1H23zM25 29h1v1H25zM4 30h1v1H4zM21 30h1v1H21zM25 31h1v1H25zM24 32h1v1H24zM3 33h1v1H3zM8 33h1v1H8zM21 34h1v1H21zM23 34h1v1H23zM19 36h1v1H19zM25 36h1v1H25zM2 38h1v1H2zM14 38h1v1H14zM26 38h1v1H26zM15 39h1v1H15zM1 40h1v1H1zM23 40h1v1H23zM27 40h1v1H27zM27 42h1v1H27zM24 43h1v1H24zM26 43h1v1H26zM9 45h1v1H9zM26 45h1v1H26zM24 46h1v1H24zM22 47h1v1H22zM17 48h1v1H17zM20 48h1v1H20zM27 48h1v1H27zM9 49h1v1H9zM23 49h1v1H23zM25 50h1v1H25zM14 54h2v1H14zM22 54h1v1H22zM19 55h3v1H19zM2 56h1v1H2zM15 56h1v1H15zM1 58h1v1H1zM4 58h1v1H4zM17 58h1v1H17zM2 59h1v1H2zM18 59h1v1H18z"/><path fill="#1fff00" d="M23 0h1v1H23zM0 4h1v1H0zM23 4h1v1H23zM5 5h1v1H5zM7 5h1v1H7zM27 11h1v1H27zM25 17h1v1H25zM27 17h1v1H27zM27 18h1v1H27zM24 20h1v1H24zM22 22h1v1H22zM22 23h1v1H22zM24 23h1v1H24zM16 24h1v1H16zM26 24h1v1H26zM18 27h1v1H18zM26 30h1v1H26zM18 31h1v1H18zM24 31h1v1H24zM18 35h1v1H18zM21 39h1v1H21zM24 40h1v1H24zM21 43h1v1H21zM23 43h1v1H23zM20 44h1v1H20zM23 44h1v1H23zM15 46h1v1H15zM23 46h1v1H23zM23 47h1v1H23zM19 48h1v1H19zM15 50h1v1H15zM27 51h1v1H27zM21 52h1v1H21zM16 54h3v1H16zM20 54h1v1H20zM18 56h1v1H18zM20 56h1v1H20zM23 56h1v1H23zM21 57h1v1H21zM24 57h1v1H24zM24 58h1v1H24zM26 58h2v1H26zM14 59h1v1H14zM16 59h1v1H16zM23 59h1v1H23zM25 59h1v1H25z"/><path fill="#2aff00" d="M23 1h1v1H23zM25 3h1v1H25zM27 16h1v1H27zM23 19h1v1H23zM26 23h1v1H26zM23 25h1v1H23zM27 25h1v1H27zM20 27h1v1H20zM27 27h1v1H27zM20 28h1v1H20zM22 28h1v1H22zM17 29h1v1H17zM22 29h1v1H22zM19 34h1v1H19zM17 37h1v1H17zM20 37h1v1H20zM23 38h1v1H23zM19 40h1v1H19zM21 40h1v1H21zM19 41h1v1H19zM21 41h1v1H21zM23 42h1v1H23zM17 43h1v1H17zM16 45h1v1H16zM23 45h1v1H23zM17 49h1v1H17zM19 49h1v1H19zM19 50h1v1H19zM23 50h1v1H23zM27 52h1v1H27zM25 54h1v1H25zM23 55h1v1H23zM17 56h1v1H17zM24 56h1v1H24zM26 56h1v1H26zM19 59h1v1H19z"/><path fill="#36ff00" d="M26 31h1v1H26zM27 32h1v1H27zM20 41h1v1H20zM25 44h1v1H25zM18 45h1v1H18zM21 47h1v1H21zM26 48h1v1H26zM23 53h1v1H23zM27 53h1v1H27z"/><path fill="#4dff00" d="M19 2h1v1H19zM4 4h1v1H4zM4 52h1v1H4zM14 57h1v1H14z"/><path fill="#58ff00" d="M17 5h1v1H17zM24 15h1v1H24zM12 16h1v1H12zM10 20h1v1H10zM15 31h1v1H15zM2 32h1v1H2z"/><path fill="#63ff00" d="M8 7h1v1H8zM3 15h1v1H3zM19 15h1v1H19zM15 19h1v1H15zM17 26h1v1H17zM8 34h1v1H8zM22 55h1v1H22zM16 56h1v1H16zM3 59h1v1H3z"/><path fill="#6fff00" d="M2 5h1v1H2zM19 35h1v1H19zM18 37h1v1H18zM21 46h1v1H21zM0 49h1v1H0zM22 53h1v1H22zM25 53h1v1H25z"/><path fill="#7aff00" d="M0 0h1v1H0zM17 4h1v1H17zM3 5h1v1H3zM24 13h1v1H24zM6 17h1v1H6zM19 44h1v1H19zM16 49h1v1H16zM2 53h1v1H2zM19 56h1v1H19zM1 59h1v1H1z"/><path fill="#86ff00" d="M21 28h1v1H21zM19 38h1v1H19z"/><path fill="#91ff00" d="M25 38h1v1H25zM18 41h1v1H18zM18 51h1v1H18zM18 52h1v1H18zM22 58h1v1H22z"/><path fill="#9dff00" d="M22 33h1v1H22zM25 35h1v1H25z"/><path fill="#b4ff00" d="M15 1h1v1H15zM9 6h1v1H9z"/><path fill="#bfff00" d="M19 13h1v1H19zM19 19h1v1H19z"/><path fill="#cbff00" d="M25 45h1v1H25z"/><path fill="#d6ff00" d="M19 10h1v1H19zM18 32h1v1H18zM20 47h1v1H20z"/><path fill="#e2ff00" d="M22 2h1v1H22zM20 29h1v1H20zM22 46h1v1H22zM25 48h1v1H25zM24 51h1v1H24zM25 57h1v1H25z"/><path fill="#fffc04" d="M23 31h1v1H23zM24 52h1v1H24z"/><path fill="#ffe833" d="M27 49h1v1H27z"/><path fill="#ffe341" d="M23 48h1v1H23z"/><path fill="#ffffff" d="M1 0h1v1H1zM6 2h1v1H6zM24 3h1v1H24zM10 6h1v1H10zM20 8h1v1H20zM8 10h1v1H8zM26 12h1v1H26zM11 13h1v1H11zM22 13h1v1H22zM3 14h1v1H3zM24 18h1v1H24zM9 24h1v1H9zM13 24h1v1H13zM25 24h1v1H25zM23 26h1v1H23zM19 28h1v1H19zM14 30h1v1H14zM20 40h1v1H20zM25 41h1v1H25zM25 43h1v1H25zM22 45h1v1H22zM17 51h1v1H17zM4 57h1v1H4zM6 58h1v1H6z"/></svg>
<text class="tt" x="21.849999999999998" y="21.1">t = 108</text>
<text class="tk" x="19.35" y="151.86" text-anchor="end">1</text>
<text class="tk" x="19.35" y="141.49" text-anchor="end">6</text>
<text class="tk" x="19.35" y="131.12" text-anchor="end">11</text>
<text class="tk" x="19.35" y="120.75" text-anchor="end">16</text>
<text class="tk" x="19.35" y="110.38" text-anchor="end">21</text>
<text class="tk" x="19.35" y="100.01" text-anchor="end">26</text>
<text class="tk" x="19.35" y="89.64" text-anchor="end">31</text>
<text class="tk" x="19.35" y="79.27" text-anchor="end">36</text>
<text class="tk" x="19.35" y="68.90" text-anchor="end">41</text>
<text class="tk" x="19.35" y="58.53" text-anchor="end">46</text>
<text class="tk" x="19.35" y="48.15" text-anchor="end">51</text>
<text class="tk" x="19.35" y="37.78" text-anchor="end">56</text>
<text class="tk" x="24.21" y="157.80" text-anchor="middle">1</text>
<text class="tk" x="36.55" y="157.80" text-anchor="middle">4</text>
<text class="tk" x="48.89" y="157.80" text-anchor="middle">7</text>
<text class="tk" x="61.24" y="157.80" text-anchor="middle">10</text>
<text class="tk" x="73.58" y="157.80" text-anchor="middle">13</text>
<text class="tk" x="85.92" y="157.80" text-anchor="middle">16</text>
<text class="tk" x="98.26" y="157.80" text-anchor="middle">19</text>
<text class="tk" x="110.61" y="157.80" text-anchor="middle">22</text>
<text class="tk" x="122.95" y="157.80" text-anchor="middle">25</text>
<text class="tk" x="135.29" y="157.80" text-anchor="middle">28</text>
<path d="M19.95 149.41H22.15M19.95 139.04H22.15M19.95 128.67H22.15M19.95 118.30H22.15M19.95 107.93H22.15M19.95 97.56H22.15M19.95 87.19H22.15M19.95 76.82H22.15M19.95 66.45H22.15M19.95 56.08H22.15M19.95 45.70H22.15M19.95 35.33H22.15M24.21 150.45V152.65M36.55 150.45V152.65M48.89 150.45V152.65M61.24 150.45V152.65M73.58 150.45V152.65M85.92 150.45V152.65M98.26 150.45V152.65M110.61 150.45V152.65M122.95 150.45V152.65M135.29 150.45V152.65" stroke="#333" stroke-width="0.75" fill="none"/>
<text class="at" x="79.75" y="167.50" text-anchor="middle">Column</text>
<text class="at" x="0" y="0" text-anchor="middle" transform="translate(8.25,88.22) rotate(-90)">Row</text>
<rect x="144.90" y="40.90" width="3.6" height="103.90" fill="url(#cb)"/>
<text class="cl" x="151.85" y="65.45">0.02</text>
<text class="cl" x="151.85" y="116.00">0.01</text>
<svg x="194.92" y="26.0" width="115.2" height="124.45" viewBox="0 0 28 60" preserveAspectRatio="none"><rect width="28" height="60" fill="#00ff13"/><path fill="#4c00ff" d="M15 17h1v1H15z"/><path fill="#0004ff" d="M16 11h1v1H16z"/><path fill="#000fff" d="M12 24h1v1H12z"/><path fill="#001bff" d="M18 2h1v1H18zM20 3h1v1H20zM12 32h1v1H12zM18 34h1v1H18z"/><path fill="#0026ff" d="M17 2h1v1H17zM17 3h1v1H17zM17 12h1v1H17zM25 16h1v1H25zM20 25h1v1H20zM15 26h1v1H15zM7 28h1v1H7zM14 41h1v1H14z"/><path fill="#0032ff" d="M15 6h1v1H15zM19 7h1v1H19zM18 13h1v1H18zM18 14h1v1H18zM18 15h1v1H18zM14 21h1v1H14zM27 21h1v1H27zM18 23h1v1H18zM27 24h1v1H27zM26 29h1v1H26zM13 44h1v1H13z"/><path fill="#003dff" d="M15 13h1v1H15zM19 14h1v1H19zM14 20h1v1H14zM17 24h1v1H17zM24 30h1v1H24zM11 31h1v1H11z"/><path fill="#0049ff" d="M18 6h1v1H18zM17 11h1v1H17zM24 34h1v1H24zM13 36h1v1H13zM15 36h1v1H15zM26 36h1v1H26zM4 37h1v1H4z"/><path fill="#0054ff" d="M15 3h1v1H15zM16 4h1v1H16zM21 12h1v1H21zM12 14h2v1H12zM17 19h1v1H17zM26 19h1v1H26zM10 23h1v1H10zM18 28h1v1H18zM10 29h1v1H10zM6 42h1v1H6zM13 55h1v1H13z"/><path fill="#0060ff" d="M21 2h1v1H21zM12 3h1v1H12zM14 3h1v1H14zM25 5h1v1H25zM14 7h1v1H14zM17 9h1v1H17zM25 9h1v1H25zM18 10h1v1H18zM2 12h1v1H2zM14 17h1v1H14zM19 17h2v1H19zM23 17h1v1H23zM16 19h1v1H16zM22 20h1v1H22zM17 23h1v1H17zM27 23h1v1H27zM8 25h1v1H8zM14 25h1v1H14zM15 29h1v1H15zM11 30h1v1H11zM27 36h1v1H27zM16 39h1v1H16zM14 45h1v1H14z"/><path fill="#006bff" d="M16 0h1v1H16zM14 5h2v1H14zM19 8h1v1H19zM19 20h1v1H19zM24 22h1v1H24zM21 26h1v1H21zM14 28h1v1H14zM7 34h1v1H7zM18 42h1v1H18zM16 46h1v1H16zM3 48h1v1H3zM16 51h1v1H16zM11 52h1v1H11zM16 58h1v1H16z"/><path fill="#0077ff" d="M19 0h1v1H19zM13 2h1v1H13zM5 3h1v1H5zM12 6h1v1H12zM14 6h1v1H14zM13 10h1v1H13zM22 22h2v1H22zM11 24h1v1H11zM24 28h1v1H24zM21 31h1v1H21zM16 32h1v1H16zM18 43h1v1H18zM20 49h1v1H20zM11 54h1v1H11zM25 58h1v1H25z"/><path fill="#0082ff" d="M24 0h1v1H24zM13 5h1v1H13zM26 6h1v1H26zM22 7h1v1H22zM11 9h1v1H11zM21 11h1v1H21zM21 15h1v1H21zM13 17h1v1H13zM19 22h2v1H19zM0 24h1v1H0zM24 29h1v1H24zM12 30h1v1H12zM14 35h1v1H14zM16 35h1v1H16zM13 41h1v1H13zM15 43h1v1H15zM11 56h1v1H11z"/><path fill="#008eff" d="M9 1h1v1H9zM22 1h1v1H22zM26 4h1v1H26zM26 7h1v1H26zM27 8h1v1H27zM27 12h1v1H27zM27 15h1v1H27zM5 16h1v1H5zM12 22h1v1H12zM5 23h1v1H5zM1 24h1v1H1zM1 29h1v1H1zM23 33h1v1H23zM12 38h1v1H12zM15 38h1v1H15zM17 39h1v1H17zM9 40h1v1H9zM9 51h1v1H9zM15 51h1v1H15zM15 58h1v1H15z"/><path fill="#0099ff" d="M12 0h1v1H12zM27 0h1v1H27zM18 1h1v1H18zM26 5h1v1H26zM16 7h1v1H16zM26 9h2v1H26zM22 10h1v1H22zM18 11h1v1H18zM16 12h1v1H16zM18 12h1v1H18zM16 13h1v1H16zM23 14h2v1H23zM15 15h1v1H15zM23 15h1v1H23zM24 16h1v1H24zM12 17h1v1H12zM22 17h1v1H22zM21 18h1v1H21zM22 19h1v1H22zM12 20h1v1H12zM15 20h1v1H15zM23 20h1v1H23zM25 21h1v1H25zM7 27h1v1H7zM25 30h1v1H25zM12 37h1v1H12zM24 38h1v1H24zM9 39h1v1H9zM24 39h1v1H24zM13 42h1v1H13zM17 45h1v1H17zM12 46h1v1H12zM17 46h1v1H17zM12 48h1v1H12zM15 50h2v1H15zM19 53h1v1H19z"/><path fill="#00a4ff" d="M8 2h1v1H8zM8 3h1v1H8zM18 5h2v1H18zM19 6h1v1H19zM17 8h1v1H17zM1 10h1v1H1zM15 12h1v1H15zM17 13h1v1H17zM16 14h1v1H16zM11 16h1v1H11zM11 18h1v1H11zM11 21h1v1H11zM15 21h3v1H15zM16 22h1v1H16zM15 23h1v1H15zM23 24h1v1H23zM14 33h1v1H14zM27 35h1v1H27zM27 39h1v1H27zM11 40h1v1H11zM22 42h1v1H22zM9 43h1v1H9zM20 44h1v1H20zM11 47h1v1H11zM16 55h1v1H16zM12 56h1v1H12zM10 57h1v1H10z"/><path fill="#00b0ff" d="M15 2h1v1H15zM14 4h1v1H14zM16 5h1v1H16zM15 7h1v1H15zM15 9h2v1H15zM19 9h1v1H19zM19 12h1v1H19zM15 16h1v1H15zM17 16h1v1H17zM14 18h1v1H14zM16 18h1v1H16zM18 18h1v1H18zM11 19h1v1H11zM14 19h1v1H14zM1 20h1v1H1zM17 22h1v1H17zM16 23h1v1H16zM24 24h1v1H24zM15 25h1v1H15zM21 25h1v1H21zM10 26h1v1H10zM17 28h1v1H17zM14 29h1v1H14zM23 30h1v1H23zM4 31h1v1H4zM9 31h1v1H9zM14 31h1v1H14zM16 31h1v1H16zM27 34h1v1H27zM6 35h1v1H6zM20 38h1v1H20zM23 39h1v1H23zM22 40h1v1H22zM24 42h1v1H24zM26 44h1v1H26zM4 50h1v1H4zM22 52h1v1H22zM17 55h1v1H17zM3 57h1v1H3zM23 58h1v1H23z"/><path fill="#00bbff" d="M11 0h1v1H11zM6 1h1v1H6zM11 1h1v1H11zM18 3h1v1H18zM15 4h1v1H15zM18 8h1v1H18zM13 11h1v1H13zM16 15h1v1H16zM17 17h1v1H17zM5 18h1v1H5zM2 20h1v1H2zM18 21h1v1H18zM13 23h2v1H13zM19 23h1v1H19zM18 24h1v1H18zM16 25h1v1H16zM19 26h1v1H19zM4 27h1v1H4zM16 27h1v1H16zM22 27h1v1H22zM16 29h1v1H16zM13 30h1v1H13zM15 30h1v1H15zM17 31h2v1H17zM13 32h1v1H13zM9 33h1v1H9zM3 34h1v1H3zM23 35h1v1H23zM14 37h1v1H14zM14 39h1v1H14zM15 40h1v1H15zM19 45h1v1H19zM10 49h1v1H10zM18 49h1v1H18zM6 52h1v1H6zM9 59h2v1H9z"/><path fill="#00c7ff" d="M20 0h1v1H20zM13 4h1v1H13zM20 5h1v1H20zM20 6h1v1H20zM24 6h1v1H24zM2 7h1v1H2zM13 8h1v1H13zM7 10h1v1H7zM10 11h1v1H10zM14 13h1v1H14zM20 13h1v1H20zM5 15h1v1H5zM14 16h1v1H14zM27 18h1v1H27zM13 19h1v1H13zM18 19h1v1H18zM20 19h1v1H20zM25 19h1v1H25zM26 21h1v1H26zM15 24h2v1H15zM9 25h1v1H9zM18 27h2v1H18zM9 28h1v1H9zM17 29h1v1H17zM19 30h1v1H19zM2 31h1v1H2zM19 32h1v1H19zM4 34h1v1H4zM12 34h1v1H12zM14 34h1v1H14zM16 34h1v1H16zM17 35h1v1H17zM0 36h1v1H0zM24 36h1v1H24zM17 38h1v1H17zM15 39h1v1H15zM6 41h1v1H6zM14 42h1v1H14zM22 43h1v1H22zM9 44h1v1H9zM10 47h1v1H10zM6 53h1v1H6zM13 54h1v1H13zM14 58h1v1H14zM6 59h1v1H6zM8 59h1v1H8z"/><path fill="#00d2ff" d="M14 0h2v1H14zM18 0h1v1H18zM21 0h1v1H21zM23 0h1v1H23zM16 1h1v1H16zM19 1h1v1H19zM24 1h1v1H24zM27 1h1v1H27zM23 2h1v1H23zM13 3h1v1H13zM19 3h1v1H19zM20 4h1v1H20zM23 5h1v1H23zM21 6h1v1H21zM17 7h1v1H17zM8 8h1v1H8zM10 8h1v1H10zM22 8h1v1H22zM24 9h1v1H24zM21 10h1v1H21zM25 11h1v1H25zM27 11h1v1H27zM6 12h1v1H6zM13 12h1v1H13zM14 14h1v1H14zM27 14h1v1H27zM17 15h1v1H17zM22 16h1v1H22zM9 17h1v1H9zM19 18h1v1H19zM17 20h1v1H17zM24 20h1v1H24zM14 22h1v1H14zM7 23h1v1H7zM7 25h1v1H7zM17 25h1v1H17zM7 26h1v1H7zM13 27h1v1H13zM19 31h1v1H19zM2 33h1v1H2zM11 33h1v1H11zM7 36h1v1H7zM14 36h1v1H14zM17 36h1v1H17zM8 37h1v1H8zM22 37h3v1H22zM8 38h1v1H8zM16 40h1v1H16zM16 41h1v1H16zM22 41h1v1H22zM3 44h1v1H3zM16 44h1v1H16zM8 48h1v1H8zM15 48h1v1H15zM15 49h1v1H15zM6 50h1v1H6zM8 53h1v1H8zM5 55h1v1H5zM8 58h1v1H8zM19 58h1v1H19zM12 59h1v1H12zM14 59h2v1H14z"/><path fill="#00deff" d="M13 0h1v1H13zM17 1h1v1H17zM24 2h1v1H24zM27 2h1v1H27zM21 3h1v1H21zM19 4h1v1H19zM21 4h1v1H21zM22 6h1v1H22zM25 7h1v1H25zM14 8h1v1H14zM21 8h1v1H21zM12 9h1v1H12zM20 9h1v1H20zM10 12h1v1H10zM12 12h1v1H12zM22 12h1v1H22zM24 12h1v1H24zM7 13h1v1H7zM12 13h2v1H12zM13 15h1v1H13zM22 15h1v1H22zM7 16h1v1H7zM20 16h1v1H20zM18 17h1v1H18zM15 18h1v1H15zM22 18h1v1H22zM25 18h2v1H25zM21 19h1v1H21zM6 20h1v1H6zM16 20h1v1H16zM19 21h1v1H19zM11 22h1v1H11zM11 25h1v1H11zM12 26h1v1H12zM26 26h1v1H26zM26 27h1v1H26zM13 28h1v1H13zM19 29h1v1H19zM26 30h1v1H26zM17 32h1v1H17zM27 32h1v1H27zM15 33h3v1H15zM15 34h1v1H15zM18 39h1v1H18zM25 40h1v1H25zM3 41h1v1H3zM15 41h1v1H15zM24 41h1v1H24zM14 43h1v1H14zM17 43h1v1H17zM21 45h1v1H21zM4 46h1v1H4zM14 46h1v1H14zM13 47h1v1H13zM2 48h1v1H2zM13 49h1v1H13zM26 49h1v1H26zM7 50h2v1H7zM13 50h1v1H13zM20 50h1v1H20zM26 50h1v1H26zM13 51h1v1H13zM19 51h1v1H19zM26 52h1v1H26zM12 53h2v1H12zM2 55h1v1H2zM15 55h1v1H15zM17 56h1v1H17zM25 56h1v1H25zM13 57h1v1H13zM20 59h1v1H20z"/><path fill="#00ff49" d="M17 0h1v1H17zM20 1h1v1H20zM25 1h2v1H25zM14 2h1v1H14zM18 7h1v1H18zM3 8h1v1H3zM25 8h1v1H25zM3 9h1v1H3zM22 9h1v1H22zM14 10h1v1H14zM26 10h2v1H26zM9 11h1v1H9zM14 11h1v1H14zM21 13h1v1H21zM15 14h1v1H15zM21 14h2v1H21zM11 15h1v1H11zM25 15h1v1H25zM6 16h1v1H6zM16 16h1v1H16zM23 16h1v1H23zM3 17h2v1H3zM21 17h1v1H21zM20 18h1v1H20zM6 19h1v1H6zM8 19h1v1H8zM23 19h1v1H23zM4 20h1v1H4zM11 20h1v1H11zM21 21h1v1H21zM12 23h1v1H12zM24 23h1v1H24zM6 24h1v1H6zM20 24h3v1H20zM23 25h1v1H23zM25 25h1v1H25zM2 26h1v1H2zM25 26h1v1H25zM27 26h1v1H27zM12 28h1v1H12zM15 28h1v1H15zM16 30h1v1H16zM13 31h1v1H13zM26 31h1v1H26zM3 32h1v1H3zM14 32h1v1H14zM13 33h1v1H13zM20 33h1v1H20zM10 34h2v1H10zM13 34h1v1H13zM11 36h1v1H11zM15 37h1v1H15zM17 37h1v1H17zM0 39h1v1H0zM12 39h1v1H12zM17 40h1v1H17zM5 43h1v1H5zM4 44h1v1H4zM11 44h1v1H11zM17 44h1v1H17zM5 46h1v1H5zM18 46h1v1H18zM15 47h1v1H15zM26 47h1v1H26zM13 48h1v1H13zM14 49h1v1H14zM25 49h1v1H25zM20 51h1v1H20zM16 52h1v1H16zM14 54h1v1H14zM17 54h1v1H17zM24 54h1v1H24zM0 56h1v1H0zM15 56h1v1H15zM1 57h1v1H1zM15 57h1v1H15zM11 58h1v1H11z"/><path fill="#00ff3d" d="M12 1h1v1H12zM16 2h1v1H16zM23 4h1v1H23zM4 7h1v1H4zM11 8h1v1H11zM20 10h1v1H20zM25 10h1v1H25zM23 11h1v1H23zM9 12h1v1H9zM20 15h1v1H20zM3 16h2v1H3zM18 16h1v1H18zM1 17h1v1H1zM16 17h1v1H16zM24 17h1v1H24zM27 17h1v1H27zM13 18h1v1H13zM0 19h1v1H0zM18 20h1v1H18zM0 21h1v1H0zM3 21h1v1H3zM2 22h1v1H2zM15 22h1v1H15zM18 22h1v1H18zM2 23h1v1H2zM20 23h1v1H20zM14 24h1v1H14zM12 25h2v1H12zM18 25h1v1H18zM24 25h1v1H24zM16 26h1v1H16zM11 27h1v1H11zM17 27h1v1H17zM23 27h1v1H23zM27 28h1v1H27zM23 29h1v1H23zM21 33h1v1H21zM27 33h1v1H27zM17 34h1v1H17zM3 36h1v1H3zM19 36h1v1H19zM3 37h1v1H3zM5 37h1v1H5zM10 37h1v1H10zM26 41h1v1H26zM15 42h1v1H15zM17 42h1v1H17zM15 45h2v1H15zM16 47h1v1H16zM14 48h1v1H14zM16 48h2v1H16zM17 50h2v1H17zM11 51h1v1H11zM18 51h1v1H18zM13 52h1v1H13zM14 53h1v1H14zM18 53h1v1H18zM20 55h1v1H20zM16 57h1v1H16zM13 59h1v1H13zM17 59h1v1H17zM27 59h1v1H27z"/><path fill="#00ff32" d="M25 0h1v1H25zM11 2h1v1H11zM26 2h1v1H26zM16 3h1v1H16zM25 3h1v1H25zM9 4h1v1H9zM18 4h1v1H18zM25 4h1v1H25zM11 6h1v1H11zM16 6h1v1H16zM23 6h1v1H23zM25 6h1v1H25zM15 8h1v1H15zM14 9h1v1H14zM11 10h1v1H11zM16 10h1v1H16zM22 11h1v1H22zM1 12h1v1H1zM1 13h1v1H1zM1 15h1v1H1zM14 15h1v1H14zM13 16h1v1H13zM19 16h1v1H19zM26 16h1v1H26zM0 18h1v1H0zM13 21h1v1H13zM26 23h1v1H26zM18 26h1v1H18zM10 27h1v1H10zM14 27h1v1H14zM23 28h1v1H23zM9 29h1v1H9zM13 29h1v1H13zM18 29h1v1H18zM22 29h1v1H22zM9 30h1v1H9zM10 31h1v1H10zM22 31h1v1H22zM24 31h2v1H24zM15 32h1v1H15zM26 34h1v1H26zM24 35h1v1H24zM26 35h1v1H26zM25 36h1v1H25zM16 37h1v1H16zM19 37h1v1H19zM21 37h1v1H21zM10 38h1v1H10zM13 38h1v1H13zM13 40h1v1H13zM0 41h1v1H0zM10 42h1v1H10zM6 43h1v1H6zM15 46h1v1H15zM10 48h1v1H10zM17 49h1v1H17zM22 49h1v1H22zM23 51h1v1H23zM10 52h1v1H10zM9 54h1v1H9zM9 55h1v1H9zM14 55h1v1H14zM21 55h1v1H21zM21 56h1v1H21zM11 57h2v1H11zM18 58h1v1H18z"/><path fill="#00ff26" d="M22 0h1v1H22zM23 1h1v1H23zM0 2h1v1H0zM1 3h1v1H1zM22 3h1v1H22zM8 5h1v1H8zM27 5h1v1H27zM8 6h1v1H8zM13 6h1v1H13zM27 6h1v1H27zM27 7h1v1H27zM6 8h1v1H6zM23 8h1v1H23zM3 10h1v1H3zM15 10h1v1H15zM4 11h1v1H4zM23 12h1v1H23zM26 13h1v1H26zM26 14h1v1H26zM27 16h1v1H27zM13 20h1v1H13zM8 21h1v1H8zM9 22h1v1H9zM26 22h1v1H26zM25 23h1v1H25zM8 24h1v1H8zM10 24h1v1H10zM22 26h1v1H22zM24 26h1v1H24zM12 27h1v1H12zM15 27h1v1H15zM25 27h1v1H25zM11 28h1v1H11zM8 29h1v1H8zM11 29h2v1H11zM22 32h1v1H22zM24 32h1v1H24zM2 35h1v1H2zM8 35h2v1H8zM12 35h1v1H12zM12 36h1v1H12zM2 38h1v1H2zM22 38h1v1H22zM10 39h1v1H10zM20 39h1v1H20zM10 40h1v1H10zM12 40h1v1H12zM11 41h1v1H11zM11 42h1v1H11zM12 44h1v1H12zM14 44h2v1H14zM17 47h1v1H17zM14 50h1v1H14zM22 50h1v1H22zM8 54h1v1H8zM27 54h1v1H27zM8 55h1v1H8zM18 55h2v1H18zM14 56h1v1H14zM17 58h1v1H17zM11 59h1v1H11z"/><path fill="#00ff1b" d="M13 1h1v1H13zM20 7h2v1H20zM23 7h1v1H23zM12 8h1v1H12zM23 9h1v1H23zM10 10h1v1H10zM24 10h1v1H24zM19 11h1v1H19zM24 11h1v1H24zM10 13h1v1H10zM23 13h1v1H23zM25 13h1v1H25zM10 14h2v1H10zM26 15h1v1H26zM21 16h1v1H21zM8 18h1v1H8zM12 19h1v1H12zM21 22h1v1H21zM9 23h1v1H9zM26 24h1v1H26zM13 26h1v1H13zM16 28h1v1H16zM17 30h1v1H17zM27 30h1v1H27zM26 32h1v1H26zM15 35h1v1H15zM16 36h1v1H16zM18 36h1v1H18zM21 36h1v1H21zM25 37h1v1H25zM19 39h1v1H19zM20 42h1v1H20zM8 44h1v1H8zM3 45h1v1H3zM18 45h1v1H18zM1 46h1v1H1zM13 46h1v1H13zM9 49h1v1H9zM19 49h1v1H19zM1 52h1v1H1zM9 52h1v1H9zM12 52h1v1H12zM4 53h1v1H4zM9 53h2v1H9zM15 53h2v1H15zM26 53h1v1H26zM18 54h1v1H18zM26 54h1v1H26zM11 55h1v1H11zM13 56h1v1H13zM9 57h1v1H9zM19 57h1v1H19zM12 58h1v1H12z"/><path fill="#00ff0f" d="M4 1h1v1H4zM21 1h1v1H21zM20 2h1v1H20zM26 3h1v1H26zM12 5h1v1H12zM22 5h1v1H22zM2 8h1v1H2zM24 8h1v1H24zM10 9h1v1H10zM21 9h1v1H21zM8 12h1v1H8zM27 13h1v1H27zM20 14h1v1H20zM10 17h1v1H10zM25 17h2v1H25zM12 21h1v1H12zM25 22h1v1H25zM27 22h1v1H27zM4 23h1v1H4zM4 24h1v1H4zM6 26h1v1H6zM8 27h1v1H8zM21 27h1v1H21zM21 29h1v1H21zM27 29h1v1H27zM7 30h1v1H7zM18 30h1v1H18zM21 30h1v1H21zM7 31h1v1H7zM18 33h1v1H18zM26 33h1v1H26zM21 34h2v1H21zM10 35h1v1H10zM13 35h1v1H13zM9 36h1v1H9zM20 37h1v1H20zM16 38h1v1H16zM26 38h1v1H26zM7 39h1v1H7zM13 39h1v1H13zM7 40h1v1H7zM14 40h1v1H14zM19 40h1v1H19zM19 42h1v1H19zM13 43h1v1H13zM21 44h1v1H21zM12 45h1v1H12zM20 45h1v1H20zM18 47h1v1H18zM11 49h1v1H11zM16 49h1v1H16zM2 51h1v1H2zM10 51h1v1H10zM7 52h1v1H7zM18 52h1v1H18zM0 54h1v1H0zM15 54h2v1H15zM27 55h1v1H27zM9 56h1v1H9zM19 56h1v1H19zM17 57h1v1H17zM26 57h1v1H26zM13 58h1v1H13z"/><path fill="#00ff04" d="M3 1h1v1H3zM25 2h1v1H25zM4 3h1v1H4zM11 4h2v1H11zM27 4h1v1H27zM10 5h1v1H10zM21 5h1v1H21zM9 7h1v1H9zM24 7h1v1H24zM12 10h1v1H12zM26 11h1v1H26zM2 15h1v1H2zM4 15h1v1H4zM8 17h1v1H8zM4 19h1v1H4zM8 20h1v1H8zM20 20h1v1H20zM25 20h2v1H25zM20 21h1v1H20zM24 21h1v1H24zM7 22h1v1H7zM22 23h1v1H22zM5 25h1v1H5zM26 25h1v1H26zM20 26h1v1H20zM0 27h1v1H0zM2 27h1v1H2zM6 27h1v1H6zM24 27h1v1H24zM3 28h2v1H3zM25 29h1v1H25zM0 30h1v1H0zM3 31h1v1H3zM9 32h1v1H9zM7 33h1v1H7zM24 33h1v1H24zM7 35h1v1H7zM18 35h1v1H18zM4 36h1v1H4zM6 36h1v1H6zM6 37h1v1H6zM11 37h1v1H11zM18 37h1v1H18zM9 38h1v1H9zM21 38h1v1H21zM23 40h1v1H23zM12 41h1v1H12zM17 41h1v1H17zM16 42h1v1H16zM7 43h1v1H7zM10 44h1v1H10zM12 47h1v1H12zM20 48h1v1H20zM11 50h2v1H11zM11 53h1v1H11zM17 53h1v1H17zM7 54h1v1H7zM7 56h2v1H7zM20 56h1v1H20zM7 57h2v1H7zM7 59h1v1H7zM18 59h2v1H18z"/><path fill="#08ff00" d="M10 0h1v1H10zM0 1h1v1H0zM10 3h1v1H10zM22 4h1v1H22zM24 4h1v1H24zM12 7h1v1H12zM8 9h1v1H8zM3 12h1v1H3zM5 13h2v1H5zM5 14h1v1H5zM8 14h1v1H8zM4 18h1v1H4zM23 18h1v1H23zM3 19h1v1H3zM5 19h1v1H5zM10 19h1v1H10zM24 19h1v1H24zM3 20h1v1H3zM21 20h1v1H21zM27 20h1v1H27zM6 21h1v1H6zM10 21h1v1H10zM22 21h1v1H22zM1 22h1v1H1zM4 22h2v1H4zM11 23h1v1H11zM27 25h1v1H27zM8 26h1v1H8zM1 27h1v1H1zM1 28h1v1H1zM5 28h1v1H5zM6 29h2v1H6zM22 30h1v1H22zM0 31h1v1H0zM27 31h1v1H27zM11 32h1v1H11zM20 32h1v1H20zM6 33h1v1H6zM19 33h1v1H19zM25 33h1v1H25zM1 34h1v1H1zM9 34h1v1H9zM19 34h1v1H19zM22 35h1v1H22zM4 39h1v1H4zM21 39h1v1H21zM10 41h1v1H10zM20 41h1v1H20zM23 42h1v1H23zM12 43h1v1H12zM23 44h1v1H23zM7 45h1v1H7zM6 47h1v1H6zM18 48h1v1H18zM19 50h1v1H19zM8 51h1v1H8zM14 51h1v1H14zM17 52h1v1H17zM20 53h1v1H20zM6 56h1v1H6zM6 57h1v1H6zM10 58h1v1H10z"/><path fill="#13ff00" d="M2 2h1v1H2zM9 2h2v1H9zM8 4h1v1H8zM0 11h1v1H0zM11 11h2v1H11zM7 15h1v1H7zM9 15h1v1H9zM7 19h1v1H7zM7 21h1v1H7zM0 23h1v1H0zM3 23h1v1H3zM23 23h1v1H23zM10 25h1v1H10zM27 27h1v1H27zM25 28h2v1H25zM3 30h2v1H3zM1 31h1v1H1zM6 31h1v1H6zM4 32h1v1H4zM8 32h1v1H8zM1 33h1v1H1zM25 34h1v1H25zM20 35h1v1H20zM5 36h1v1H5zM8 36h1v1H8zM0 37h1v1H0zM7 37h1v1H7zM3 38h1v1H3zM11 38h1v1H11zM18 38h1v1H18zM7 41h1v1H7zM21 41h1v1H21zM27 41h1v1H27zM26 42h1v1H26zM3 43h1v1H3zM20 43h1v1H20zM23 43h1v1H23zM5 45h1v1H5zM8 45h1v1H8zM6 46h1v1H6zM11 46h1v1H11zM24 46h1v1H24zM7 48h1v1H7zM9 48h1v1H9zM11 48h1v1H11zM10 50h1v1H10zM19 52h1v1H19zM7 53h1v1H7zM10 54h1v1H10zM12 54h1v1H12zM10 55h1v1H10zM5 58h1v1H5zM20 58h1v1H20zM16 59h1v1H16z"/><path fill="#1fff00" d="M12 2h1v1H12zM6 6h1v1H6zM7 7h1v1H7zM4 9h1v1H4zM7 9h1v1H7zM2 10h1v1H2zM5 10h2v1H5zM4 12h2v1H4zM14 12h1v1H14zM2 14h1v1H2zM6 15h1v1H6zM10 15h1v1H10zM19 15h1v1H19zM8 16h1v1H8zM10 16h1v1H10zM2 18h1v1H2zM9 19h1v1H9zM9 21h1v1H9zM10 22h1v1H10zM2 24h1v1H2zM22 25h1v1H22zM3 26h1v1H3zM9 26h1v1H9zM3 27h1v1H3zM9 27h1v1H9zM2 29h1v1H2zM4 29h1v1H4zM1 30h1v1H1zM8 31h1v1H8zM23 32h1v1H23zM20 34h1v1H20zM23 34h1v1H23zM21 35h1v1H21zM20 36h1v1H20zM27 37h1v1H27zM27 38h1v1H27zM5 39h1v1H5zM1 40h1v1H1zM8 41h1v1H8zM19 41h1v1H19zM3 42h1v1H3zM21 43h1v1H21zM18 44h1v1H18zM23 45h1v1H23zM22 46h1v1H22zM19 47h1v1H19zM22 47h1v1H22zM0 48h1v1H0zM4 48h1v1H4zM23 49h1v1H23zM9 50h1v1H9zM3 51h1v1H3zM20 52h1v1H20zM21 53h1v1H21zM6 54h1v1H6zM19 54h1v1H19zM6 55h1v1H6zM10 56h1v1H10zM18 56h1v1H18zM24 56h1v1H24zM9 58h1v1H9z"/><path fill="#2aff00" d="M7 1h2v1H7zM6 3h1v1H6zM11 3h1v1H11zM6 5h1v1H6zM11 5h1v1H11zM0 7h1v1H0zM13 7h1v1H13zM1 8h1v1H1zM18 9h1v1H18zM6 11h1v1H6zM20 11h1v1H20zM7 12h1v1H7zM11 12h1v1H11zM2 13h1v1H2zM17 14h1v1H17zM2 16h1v1H2zM1 18h1v1H1zM9 18h1v1H9zM15 19h1v1H15zM0 20h1v1H0zM7 20h1v1H7zM8 23h1v1H8zM5 24h1v1H5zM19 24h1v1H19zM4 25h1v1H4zM6 25h1v1H6zM22 28h1v1H22zM6 30h1v1H6zM10 30h1v1H10zM21 32h1v1H21zM6 34h1v1H6zM0 35h1v1H0zM1 37h1v1H1zM2 39h1v1H2zM25 39h1v1H25zM0 42h1v1H0zM9 42h1v1H9zM26 43h2v1H26zM0 44h1v1H0zM2 44h1v1H2zM24 44h1v1H24zM11 45h1v1H11zM9 46h1v1H9zM19 46h1v1H19zM5 47h1v1H5zM8 47h1v1H8zM24 47h1v1H24zM8 49h1v1H8zM21 50h1v1H21zM0 51h1v1H0zM25 51h1v1H25zM22 54h1v1H22zM1 55h1v1H1zM3 55h1v1H3zM1 58h1v1H1zM4 58h1v1H4zM0 59h1v1H0zM23 59h1v1H23z"/><path fill="#36ff00" d="M9 0h1v1H9zM2 4h1v1H2zM5 4h1v1H5zM5 6h1v1H5zM7 6h1v1H7zM0 9h3v1H0zM17 10h1v1H17zM3 11h1v1H3zM7 14h1v1H7zM8 15h1v1H8zM0 16h1v1H0zM3 18h1v1H3zM0 25h1v1H0zM2 25h1v1H2zM5 27h1v1H5zM5 30h1v1H5zM0 33h1v1H0zM3 33h1v1H3zM23 36h1v1H23zM0 38h2v1H0zM22 39h1v1H22zM8 40h1v1H8zM21 40h1v1H21zM27 40h1v1H27zM2 41h1v1H2zM9 41h1v1H9zM2 43h1v1H2zM4 43h1v1H4zM8 43h1v1H8zM10 43h1v1H10zM19 43h1v1H19zM26 45h1v1H26zM8 46h1v1H8zM1 47h1v1H1zM1 49h1v1H1zM24 49h1v1H24zM1 50h1v1H1zM6 51h1v1H6zM22 51h1v1H22zM14 52h1v1H14zM1 53h1v1H1zM3 54h1v1H3zM21 54h1v1H21zM0 55h1v1H0zM4 55h1v1H4zM1 56h1v1H1zM3 56h1v1H3zM22 56h1v1H22zM2 57h1v1H2zM24 58h1v1H24zM26 59h1v1H26z"/><path fill="#41ff00" d="M5 1h1v1H5zM7 5h1v1H7zM11 7h1v1H11zM15 11h1v1H15zM0 15h1v1H0zM7 18h1v1H7zM19 19h1v1H19zM3 22h1v1H3zM6 23h1v1H6zM14 26h1v1H14zM8 28h1v1H8zM2 30h1v1H2zM1 32h1v1H1zM7 32h1v1H7zM8 33h1v1H8zM14 38h1v1H14zM8 39h1v1H8zM1 41h1v1H1zM7 42h1v1H7zM1 45h1v1H1zM20 46h2v1H20zM9 47h1v1H9zM24 48h1v1H24zM1 51h1v1H1zM26 51h2v1H26zM2 54h1v1H2zM5 57h1v1H5zM4 59h2v1H4z"/><path fill="#4dff00" d="M0 4h1v1H0zM6 4h1v1H6zM0 6h1v1H0zM1 7h1v1H1zM10 7h1v1H10zM26 8h1v1H26zM25 14h1v1H25zM0 17h1v1H0zM2 19h1v1H2zM1 21h2v1H1zM1 23h1v1H1zM19 25h1v1H19zM19 35h1v1H19zM13 37h1v1H13zM26 37h1v1H26zM3 39h1v1H3zM23 41h1v1H23zM4 42h1v1H4zM7 44h1v1H7zM3 46h1v1H3zM0 47h1v1H0zM3 47h1v1H3zM19 48h1v1H19zM7 49h1v1H7zM20 54h1v1H20zM14 57h1v1H14zM21 57h2v1H21zM24 59h1v1H24z"/><path fill="#58ff00" d="M26 0h1v1H26zM10 1h1v1H10zM3 3h1v1H3zM10 4h1v1H10zM4 5h1v1H4zM6 9h1v1H6zM9 9h1v1H9zM2 11h1v1H2zM20 12h1v1H20zM25 12h1v1H25zM9 13h1v1H9zM0 14h1v1H0zM4 14h1v1H4zM9 14h1v1H9zM12 15h1v1H12zM1 19h1v1H1zM5 20h1v1H5zM21 23h1v1H21zM3 24h1v1H3zM1 25h1v1H1zM3 25h1v1H3zM20 27h1v1H20zM0 28h1v1H0zM3 29h1v1H3zM0 32h1v1H0zM1 35h1v1H1zM4 38h2v1H4zM4 41h1v1H4zM8 42h1v1H8zM21 42h1v1H21zM5 44h2v1H5zM25 44h1v1H25zM1 48h1v1H1zM21 49h1v1H21zM0 50h1v1H0zM27 50h1v1H27zM7 51h1v1H7zM12 51h1v1H12zM8 52h1v1H8zM25 52h1v1H25zM7 55h1v1H7zM26 55h1v1H26zM2 56h1v1H2z"/><path fill="#63ff00" d="M1 2h1v1H1zM23 3h1v1H23zM24 5h1v1H24zM2 6h1v1H2zM9 10h1v1H9zM23 10h1v1H23zM1 16h1v1H1zM7 17h1v1H7zM6 22h1v1H6zM4 26h1v1H4zM6 28h1v1H6zM10 28h1v1H10zM20 30h1v1H20zM6 32h1v1H6zM25 32h1v1H25zM2 34h1v1H2zM4 35h1v1H4zM26 40h1v1H26zM18 41h1v1H18zM12 42h1v1H12zM25 42h1v1H25zM23 46h1v1H23zM26 46h1v1H26zM14 47h1v1H14zM23 47h1v1H23zM27 47h1v1H27zM5 48h1v1H5zM21 48h1v1H21zM4 49h1v1H4zM21 52h1v1H21zM4 54h1v1H4zM12 55h1v1H12zM16 56h1v1H16zM20 57h1v1H20zM21 58h1v1H21z"/><path fill="#6fff00" d="M17 6h1v1H17zM3 7h1v1H3zM6 7h1v1H6zM7 8h1v1H7zM9 8h1v1H9zM5 11h1v1H5zM8 11h1v1H8zM3 13h1v1H3zM8 13h1v1H8zM6 14h1v1H6zM4 21h1v1H4zM23 21h1v1H23zM20 28h1v1H20zM5 31h1v1H5zM12 31h1v1H12zM20 31h1v1H20zM5 33h1v1H5zM12 33h1v1H12zM26 39h1v1H26zM5 40h2v1H5zM16 43h1v1H16zM6 45h1v1H6zM27 45h1v1H27zM27 46h1v1H27zM25 47h1v1H25zM23 50h1v1H23zM15 52h1v1H15zM5 53h1v1H5zM2 59h1v1H2z"/><path fill="#7aff00" d="M17 4h1v1H17zM17 5h1v1H17zM0 8h1v1H0zM0 10h1v1H0zM0 12h1v1H0zM4 13h1v1H4zM2 28h1v1H2zM0 34h1v1H0zM5 34h1v1H5zM1 36h1v1H1zM10 36h1v1H10zM6 39h1v1H6zM11 39h1v1H11zM18 40h1v1H18zM22 44h1v1H22zM7 46h1v1H7zM24 50h1v1H24zM0 57h1v1H0z"/><path fill="#86ff00" d="M8 0h1v1H8zM1 1h1v1H1zM4 6h1v1H4zM5 7h1v1H5zM16 8h1v1H16zM5 9h1v1H5zM4 10h1v1H4zM19 13h1v1H19zM0 29h1v1H0zM9 37h1v1H9zM0 40h1v1H0zM27 42h1v1H27zM11 43h1v1H11zM19 44h1v1H19zM4 47h1v1H4zM6 48h1v1H6zM12 49h1v1H12zM5 50h1v1H5zM3 52h1v1H3zM3 53h1v1H3zM24 53h1v1H24zM5 54h1v1H5zM4 56h2v1H4zM23 57h1v1H23zM27 57h1v1H27zM2 58h1v1H2z"/><path fill="#91ff00" d="M3 2h3v1H3zM2 3h1v1H2zM1 5h1v1H1zM9 5h1v1H9zM3 6h1v1H3zM1 11h1v1H1zM17 18h1v1H17zM13 22h1v1H13zM17 26h1v1H17zM15 31h1v1H15zM2 36h1v1H2zM4 40h1v1H4zM5 41h1v1H5zM0 45h1v1H0zM10 45h1v1H10zM24 45h1v1H24zM2 47h1v1H2zM27 48h1v1H27zM5 49h2v1H5zM3 50h1v1H3zM5 51h1v1H5zM23 52h1v1H23zM25 54h1v1H25zM18 57h1v1H18z"/><path fill="#9dff00" d="M14 1h2v1H14zM7 4h1v1H7zM5 8h1v1H5zM13 9h1v1H13zM9 16h1v1H9zM9 20h1v1H9zM18 32h1v1H18zM22 36h1v1H22zM2 40h1v1H2zM24 43h1v1H24zM25 45h1v1H25zM2 49h1v1H2zM2 50h1v1H2zM24 57h1v1H24zM26 58h2v1H26zM21 59h1v1H21z"/><path fill="#a8ff00" d="M19 2h1v1H19zM7 3h1v1H7zM4 8h1v1H4zM12 18h1v1H12zM1 39h1v1H1zM1 42h1v1H1zM9 45h1v1H9zM26 48h1v1H26zM27 53h1v1H27zM23 55h2v1H23z"/><path fill="#b4ff00" d="M6 0h1v1H6zM24 15h1v1H24zM27 19h1v1H27zM8 22h1v1H8zM8 30h1v1H8zM23 38h1v1H23zM1 43h1v1H1zM1 44h1v1H1zM27 44h1v1H27zM4 45h1v1H4zM0 46h1v1H0zM25 55h1v1H25zM27 56h1v1H27z"/><path fill="#bfff00" d="M22 2h1v1H22zM3 4h1v1H3zM0 5h1v1H0zM11 26h1v1H11zM20 29h1v1H20zM11 35h1v1H11zM24 40h1v1H24zM13 45h1v1H13zM3 49h1v1H3zM0 52h1v1H0zM2 53h1v1H2zM23 54h1v1H23zM26 56h1v1H26zM22 59h1v1H22z"/><path fill="#cbff00" d="M24 13h1v1H24zM5 17h2v1H5zM0 26h1v1H0zM10 32h1v1H10zM10 33h1v1H10zM25 50h1v1H25z"/><path fill="#d6ff00" d="M4 0h1v1H4zM27 3h1v1H27zM5 5h1v1H5zM11 17h1v1H11zM5 29h1v1H5z"/><path fill="#e2ff00" d="M6 18h1v1H6zM1 26h1v1H1zM22 33h1v1H22zM3 35h1v1H3zM19 38h1v1H19z"/><path fill="#fffc04" d="M0 3h1v1H0zM1 6h1v1H1zM2 17h1v1H2zM21 28h1v1H21zM23 31h1v1H23zM5 32h1v1H5zM25 35h1v1H25zM6 38h2v1H6zM10 46h1v1H10zM7 47h1v1H7z"/><path fill="#fff90b" d="M10 20h1v1H10zM22 48h1v1H22z"/><path fill="#fff612" d="M10 18h1v1H10z"/><path fill="#fff219" d="M19 10h1v1H19zM7 11h1v1H7zM8 34h1v1H8z"/><path fill="#ffef1f" d="M8 7h1v1H8z"/><path fill="#ffed26" d="M7 0h1v1H7zM7 2h1v1H7zM0 13h1v1H0zM2 45h1v1H2zM21 51h1v1H21zM5 52h1v1H5zM3 58h1v1H3z"/><path fill="#ffea2d" d="M12 16h1v1H12zM7 24h1v1H7zM5 26h1v1H5zM25 38h1v1H25z"/><path fill="#ffe833" d="M2 42h1v1H2zM25 48h1v1H25zM27 52h1v1H27zM0 53h1v1H0z"/><path fill="#ffe53a" d="M2 37h1v1H2zM4 51h1v1H4zM7 58h1v1H7z"/><path fill="#ffe341" d="M2 0h1v1H2zM5 0h1v1H5zM5 21h1v1H5zM2 46h1v1H2zM20 47h1v1H20zM22 58h1v1H22z"/><path fill="#ffe247" d="M0 22h1v1H0zM25 46h1v1H25z"/><path fill="#ffe04e" d="M22 55h1v1H22z"/><path fill="#ffdf55" d="M5 35h1v1H5zM0 43h1v1H0zM23 56h1v1H23zM0 58h1v1H0z"/><path fill="#ffdd5b" d="M2 52h1v1H2z"/><path fill="#ffdc62" d="M4 33h1v1H4zM23 53h1v1H23z"/><path fill="#ffdc69" d="M1 14h1v1H1zM2 32h1v1H2zM5 42h1v1H5z"/><path fill="#ffdb70" d="M2 1h1v1H2zM9 3h1v1H9z"/><path fill="#ffdb84" d="M3 40h1v1H3z"/><path fill="#ffdb8a" d="M3 59h1v1H3z"/><path fill="#ffdc98" d="M1 4h1v1H1z"/><path fill="#ffdea5" d="M22 53h1v1H22zM25 53h1v1H25z"/><path fill="#ffdfac" d="M0 0h1v1H0zM3 0h1v1H3zM4 4h1v1H4zM2 5h2v1H2zM9 6h1v1H9zM3 15h1v1H3zM21 47h1v1H21zM23 48h1v1H23zM0 49h1v1H0zM27 49h1v1H27zM24 51h1v1H24zM4 52h1v1H4zM24 52h1v1H24zM1 54h1v1H1zM25 57h1v1H25zM1 59h1v1H1zM25 59h1v1H25z"/><path fill="#ffffff" d="M1 0h1v1H1zM6 2h1v1H6zM24 3h1v1H24zM10 6h1v1H10zM20 8h1v1H20zM8 10h1v1H8zM26 12h1v1H26zM11 13h1v1H11zM22 13h1v1H22zM3 14h1v1H3zM24 18h1v1H24zM9 24h1v1H9zM13 24h1v1H13zM25 24h1v1H25zM23 26h1v1H23zM19 28h1v1H19zM14 30h1v1H14zM20 40h1v1H20zM25 41h1v1H25zM25 43h1v1H25zM22 45h1v1H22zM17 51h1v1H17zM4 57h1v1H4zM6 58h1v1H6z"/></svg>
<text class="tt" x="194.61999999999998" y="21.1">t = 112</text>
<text class="tk" x="192.12" y="151.86" text-anchor="end">1</text>
<text class="tk" x="192.12" y="141.49" text-anchor="end">6</text>
<text class="tk" x="192.12" y="131.12" text-anchor="end">11</text>
<text class="tk" x="192.12" y="120.75" text-anchor="end">16</text>
<text class="tk" x="192.12" y="110.38" text-anchor="end">21</text>
<text class="tk" x="192.12" y="100.01" text-anchor="end">26</text>
<text class="tk" x="192.12" y="89.64" text-anchor="end">31</text>
<text class="tk" x="192.12" y="79.27" text-anchor="end">36</text>
<text class="tk" x="192.12" y="68.90" text-anchor="end">41</text>
<text class="tk" x="192.12" y="58.53" text-anchor="end">46</text>
<text class="tk" x="192.12" y="48.15" text-anchor="end">51</text>
<text class="tk" x="192.12" y="37.78" text-anchor="end">56</text>
<text class="tk" x="196.98" y="157.80" text-anchor="middle">1</text>
<text class="tk" x="209.32" y="157.80" text-anchor="middle">4</text>
<text class="tk" x="221.66" y="157.80" text-anchor="middle">7</text>
<text class="tk" x="234.01" y="157.80" text-anchor="middle">10</text>
<text class="tk" x="246.35" y="157.80" text-anchor="middle">13</text>
<text class="tk" x="258.69" y="157.80" text-anchor="middle">16</text>
<text class="tk" x="271.03" y="157.80" text-anchor="middle">19</text>
<text class="tk" x="283.38" y="157.80" text-anchor="middle">22</text>
<text class="tk" x="295.72" y="157.80" text-anchor="middle">25</text>
<text class="tk" x="308.06" y="157.80" text-anchor="middle">28</text>
<path d="M192.72 149.41H194.92M192.72 139.04H194.92M192.72 128.67H194.92M192.72 118.30H194.92M192.72 107.93H194.92M192.72 97.56H194.92M192.72 87.19H194.92M192.72 76.82H194.92M192.72 66.45H194.92M192.72 56.08H194.92M192.72 45.70H194.92M192.72 35.33H194.92M196.98 150.45V152.65M209.32 150.45V152.65M221.66 150.45V152.65M234.01 150.45V152.65M246.35 150.45V152.65M258.69 150.45V152.65M271.03 150.45V152.65M283.38 150.45V152.65M295.72 150.45V152.65M308.06 150.45V152.65" stroke="#333" stroke-width="0.75" fill="none"/>
<text class="at" x="252.52" y="167.50" text-anchor="middle">Column</text>
<text class="at" x="0" y="0" text-anchor="middle" transform="translate(181.02,88.22) rotate(-90)">Row</text>
<rect x="317.67" y="40.90" width="3.6" height="103.90" fill="url(#cb)"/>
<text class="cl" x="324.62" y="52.15">0.05</text>
<text class="cl" x="324.62" y="75.15">0.04</text>
<text class="cl" x="324.62" y="97.95">0.03</text>
<text class="cl" x="324.62" y="120.95">0.02</text>
<text class="cl" x="324.62" y="143.95">0.01</text>
<svg x="367.69" y="26.0" width="115.2" height="124.45" viewBox="0 0 28 60" preserveAspectRatio="none"><rect width="28" height="60" fill="#14ff00"/><path fill="#4c00ff" d="M15 17h1v1H15z"/><path fill="#1f00ff" d="M20 25h1v1H20z"/><path fill="#0800ff" d="M25 16h1v1H25zM27 24h1v1H27z"/><path fill="#0004ff" d="M20 3h1v1H20zM16 11h1v1H16zM27 21h1v1H27zM26 29h1v1H26zM24 30h1v1H24zM18 34h1v1H18z"/><path fill="#001bff" d="M18 23h1v1H18zM24 34h1v1H24z"/><path fill="#0026ff" d="M18 2h1v1H18zM19 7h1v1H19zM17 12h1v1H17zM21 12h1v1H21zM18 13h1v1H18zM18 14h2v1H18zM18 15h1v1H18zM23 17h1v1H23zM22 20h1v1H22zM12 24h1v1H12zM12 32h1v1H12zM26 36h1v1H26z"/><path fill="#0032ff" d="M20 17h1v1H20zM26 19h1v1H26zM22 22h1v1H22zM24 22h1v1H24zM27 23h1v1H27zM21 26h1v1H21zM7 28h1v1H7z"/><path fill="#003dff" d="M17 2h1v1H17zM21 2h1v1H21zM17 3h1v1H17zM25 5h1v1H25zM25 9h1v1H25zM14 21h1v1H14zM23 22h1v1H23zM17 24h1v1H17zM15 26h1v1H15zM21 31h1v1H21zM25 58h1v1H25z"/><path fill="#0049ff" d="M15 6h1v1H15zM15 13h1v1H15zM14 20h1v1H14zM18 28h1v1H18zM24 28h1v1H24zM27 36h1v1H27zM4 37h1v1H4zM14 41h1v1H14zM6 42h1v1H6z"/><path fill="#0054ff" d="M21 11h1v1H21zM21 15h1v1H21zM19 17h1v1H19zM17 19h1v1H17zM19 20h1v1H19zM24 29h1v1H24zM13 44h1v1H13z"/><path fill="#0060ff" d="M24 0h1v1H24zM18 6h1v1H18zM22 7h1v1H22zM17 11h1v1H17zM22 17h1v1H22zM22 19h1v1H22zM23 20h1v1H23zM20 22h1v1H20zM10 23h1v1H10zM17 23h1v1H17zM11 31h1v1H11zM23 33h1v1H23zM15 36h1v1H15zM3 48h1v1H3z"/><path fill="#006bff" d="M22 1h1v1H22zM26 6h1v1H26zM19 8h1v1H19zM18 10h1v1H18zM22 10h1v1H22zM27 12h1v1H27zM12 14h2v1H12zM23 14h1v1H23zM23 15h1v1H23zM21 18h1v1H21zM16 19h1v1H16zM25 21h1v1H25zM19 22h1v1H19zM8 25h1v1H8zM10 29h1v1H10zM13 36h1v1H13zM20 49h1v1H20z"/><path fill="#0077ff" d="M16 4h1v1H16zM26 4h1v1H26zM26 5h1v1H26zM26 7h1v1H26zM27 8h1v1H27zM17 9h1v1H17zM26 9h1v1H26zM24 14h1v1H24zM27 15h1v1H27zM24 16h1v1H24zM14 17h1v1H14zM23 24h1v1H23zM21 25h1v1H21zM7 34h1v1H7zM24 38h1v1H24zM16 39h1v1H16zM24 39h1v1H24zM18 42h1v1H18zM26 44h1v1H26z"/><path fill="#0082ff" d="M19 0h1v1H19zM27 0h1v1H27zM14 3h2v1H14zM27 9h1v1H27zM2 12h1v1H2zM24 24h1v1H24zM14 25h1v1H14zM22 27h1v1H22zM15 29h1v1H15zM11 30h1v1H11zM23 30h1v1H23zM25 30h1v1H25zM18 43h1v1H18z"/><path fill="#008eff" d="M16 0h1v1H16zM12 3h1v1H12zM14 7h1v1H14zM11 24h1v1H11zM16 32h1v1H16zM23 39h1v1H23zM27 39h1v1H27zM22 40h1v1H22zM22 42h1v1H22zM24 42h1v1H24zM16 51h1v1H16zM22 52h1v1H22zM23 58h1v1H23z"/><path fill="#0099ff" d="M14 5h2v1H14zM14 6h1v1H14zM11 9h1v1H11zM13 17h1v1H13zM0 24h1v1H0zM14 28h1v1H14zM1 29h1v1H1zM16 35h1v1H16zM23 35h1v1H23zM27 35h1v1H27zM20 38h1v1H20zM20 44h1v1H20zM14 45h1v1H14zM16 46h1v1H16zM11 52h1v1H11zM13 55h1v1H13zM16 58h1v1H16z"/><path fill="#00a4ff" d="M13 2h1v1H13zM12 6h1v1H12zM13 10h1v1H13zM22 16h1v1H22zM12 30h1v1H12zM27 34h1v1H27zM17 39h1v1H17zM19 53h1v1H19zM11 54h1v1H11z"/><path fill="#00b0ff" d="M9 1h1v1H9zM5 3h1v1H5zM13 5h1v1H13zM19 5h1v1H19zM19 6h1v1H19zM18 11h1v1H18zM16 12h1v1H16zM18 12h2v1H18zM16 13h1v1H16zM5 16h1v1H5zM20 19h2v1H20zM25 19h1v1H25zM24 20h1v1H24zM12 22h1v1H12zM5 23h1v1H5zM19 23h1v1H19zM1 24h1v1H1zM19 26h1v1H19zM14 35h1v1H14zM24 36h1v1H24zM22 37h1v1H22zM9 40h1v1H9zM15 43h1v1H15zM22 43h1v1H22zM26 49h1v1H26zM4 50h1v1H4zM26 50h1v1H26zM9 51h1v1H9zM11 56h1v1H11zM3 57h1v1H3z"/><path fill="#00bbff" d="M21 0h1v1H21zM23 0h1v1H23zM18 1h1v1H18zM24 1h1v1H24zM23 5h1v1H23zM24 6h1v1H24zM22 8h1v1H22zM19 9h1v1H19zM24 9h1v1H24zM21 10h1v1H21zM22 12h1v1H22zM20 13h1v1H20zM15 15h1v1H15zM22 15h1v1H22zM12 17h1v1H12zM18 18h1v1H18zM22 18h1v1H22zM27 18h1v1H27zM12 20h1v1H12zM15 20h1v1H15zM16 21h2v1H16zM26 21h1v1H26zM16 22h1v1H16zM21 24h2v1H21zM23 25h1v1H23zM7 27h1v1H7zM23 37h2v1H23zM12 38h1v1H12zM15 38h1v1H15zM9 39h1v1H9zM13 41h1v1H13zM22 41h1v1H22zM26 47h1v1H26zM26 52h1v1H26zM25 56h1v1H25z"/><path fill="#00c7ff" d="M12 0h1v1H12zM20 0h1v1H20zM27 1h1v1H27zM8 2h1v1H8zM23 2h2v1H23zM27 2h1v1H27zM18 5h1v1H18zM20 5h1v1H20zM20 6h3v1H20zM16 7h1v1H16zM25 7h1v1H25zM17 8h1v1H17zM25 11h1v1H25zM27 11h1v1H27zM15 12h1v1H15zM24 12h1v1H24zM17 13h1v1H17zM16 14h1v1H16zM27 14h1v1H27zM11 16h1v1H11zM17 16h1v1H17zM21 17h1v1H21zM11 18h1v1H11zM23 19h1v1H23zM11 21h1v1H11zM15 21h1v1H15zM18 21h1v1H18zM21 21h1v1H21zM17 22h1v1H17zM15 23h2v1H15zM18 24h1v1H18zM18 27h2v1H18zM17 28h1v1H17zM19 30h1v1H19zM16 31h1v1H16zM18 31h1v1H18zM19 32h1v1H19zM12 37h1v1H12zM25 40h1v1H25zM24 41h1v1H24zM9 43h1v1H9zM17 45h1v1H17zM17 46h1v1H17zM12 48h1v1H12zM25 49h1v1H25zM16 50h1v1H16zM15 51h1v1H15zM6 52h1v1H6zM24 54h1v1H24zM15 58h1v1H15zM27 59h1v1H27z"/><path fill="#00d2ff" d="M8 3h1v1H8zM21 3h1v1H21zM20 4h2v1H20zM21 8h1v1H21zM20 9h1v1H20zM22 9h1v1H22zM21 13h1v1H21zM21 14h2v1H21zM20 16h1v1H20zM23 16h1v1H23zM16 18h1v1H16zM19 18h1v1H19zM25 18h2v1H25zM11 19h1v1H11zM18 19h1v1H18zM19 21h1v1H19zM24 23h1v1H24zM20 24h1v1H20zM24 25h2v1H24zM10 26h1v1H10zM25 26h2v1H25zM4 27h1v1H4zM23 27h1v1H23zM26 27h1v1H26zM22 29h2v1H22zM26 30h1v1H26zM4 31h1v1H4zM19 31h1v1H19zM3 34h1v1H3zM6 35h1v1H6zM11 40h1v1H11zM6 41h1v1H6zM13 42h1v1H13zM19 45h1v1H19zM21 45h1v1H21zM12 46h1v1H12zM11 47h1v1H11zM15 50h1v1H15zM6 53h1v1H6zM5 55h1v1H5zM10 57h1v1H10zM6 59h1v1H6z"/><path fill="#00deff" d="M25 1h2v1H25zM18 3h1v1H18zM18 8h1v1H18zM25 8h1v1H25zM15 9h2v1H15zM1 10h1v1H1zM26 10h2v1H26zM23 11h1v1H23zM16 15h1v1H16zM20 15h1v1H20zM25 15h1v1H25zM15 16h1v1H15zM17 17h1v1H17zM24 17h1v1H24zM14 18h1v1H14zM20 18h1v1H20zM14 19h1v1H14zM1 20h1v1H1zM20 23h1v1H20zM15 25h2v1H15zM27 26h1v1H27zM16 27h1v1H16zM23 28h1v1H23zM16 29h2v1H16zM19 29h1v1H19zM2 31h1v1H2zM9 31h1v1H9zM14 31h1v1H14zM17 31h1v1H17zM22 31h1v1H22zM26 31h1v1H26zM27 32h1v1H27zM14 33h1v1H14zM20 33h2v1H20zM4 34h1v1H4zM0 36h1v1H0zM26 41h1v1H26zM3 44h1v1H3zM10 49h1v1H10zM18 49h1v1H18zM6 50h1v1H6zM2 55h1v1H2z"/><path fill="#00ff49" d="M11 1h1v1H11zM19 1h2v1H19zM15 2h1v1H15zM19 3h1v1H19zM14 4h1v1H14zM23 4h1v1H23zM16 5h1v1H16zM15 7h1v1H15zM25 10h1v1H25zM10 11h1v1H10zM13 11h1v1H13zM22 11h1v1H22zM17 15h1v1H17zM27 17h1v1H27zM5 18h1v1H5zM2 20h1v1H2zM17 20h1v1H17zM14 23h1v1H14zM16 24h1v1H16zM9 25h1v1H9zM17 25h1v1H17zM22 26h1v1H22zM9 28h1v1H9zM14 29h1v1H14zM15 30h1v1H15zM22 32h1v1H22zM2 33h1v1H2zM9 33h1v1H9zM17 35h1v1H17zM17 38h1v1H17zM3 41h1v1H3zM9 44h1v1H9zM4 46h1v1H4zM2 48h1v1H2zM20 50h1v1H20zM23 51h1v1H23zM16 55h2v1H16zM0 56h1v1H0zM12 56h1v1H12zM1 57h1v1H1zM19 58h1v1H19zM8 59h3v1H8zM20 59h1v1H20z"/><path fill="#00ff3d" d="M11 0h1v1H11zM18 0h1v1H18zM22 0h1v1H22zM25 0h1v1H25zM6 1h1v1H6zM22 3h1v1H22zM25 3h1v1H25zM15 4h1v1H15zM19 4h1v1H19zM25 4h1v1H25zM23 6h1v1H23zM17 7h1v1H17zM20 10h1v1H20zM23 12h1v1H23zM14 13h1v1H14zM14 16h1v1H14zM21 16h1v1H21zM26 16h1v1H26zM9 17h1v1H9zM18 17h1v1H18zM13 19h1v1H13zM21 22h1v1H21zM13 23h1v1H13zM25 23h2v1H25zM15 24h1v1H15zM24 26h1v1H24zM25 27h1v1H25zM27 28h1v1H27zM13 30h1v1H13zM24 31h2v1H24zM13 32h1v1H13zM17 32h1v1H17zM17 33h1v1H17zM27 33h1v1H27zM16 34h1v1H16zM24 35h1v1H24zM7 36h1v1H7zM17 36h1v1H17zM25 36h1v1H25zM14 37h1v1H14zM21 37h1v1H21zM8 38h1v1H8zM22 38h1v1H22zM0 39h1v1H0zM14 39h1v1H14zM18 39h1v1H18zM15 40h1v1H15zM5 43h1v1H5zM4 44h1v1H4zM5 46h1v1H5zM10 47h1v1H10zM8 48h1v1H8zM22 49h1v1H22zM19 51h2v1H19zM8 53h1v1H8zM26 53h1v1H26zM27 54h1v1H27zM21 55h1v1H21zM21 56h1v1H21z"/><path fill="#00ff32" d="M23 1h1v1H23zM26 2h1v1H26zM25 6h1v1H25zM10 8h1v1H10zM13 8h1v1H13zM23 8h1v1H23zM23 9h1v1H23zM7 10h1v1H7zM10 12h1v1H10zM13 12h1v1H13zM23 13h1v1H23zM14 14h1v1H14zM26 14h1v1H26zM5 15h1v1H5zM18 16h2v1H18zM27 16h1v1H27zM15 18h1v1H15zM16 20h1v1H16zM18 20h1v1H18zM14 22h1v1H14zM18 22h1v1H18zM26 22h1v1H26zM7 23h1v1H7zM26 24h1v1H26zM7 25h1v1H7zM18 25h1v1H18zM7 26h1v1H7zM21 27h1v1H21zM24 32h1v1H24zM12 34h1v1H12zM14 34h1v1H14zM26 34h1v1H26zM19 36h1v1H19zM8 37h1v1H8zM15 39h1v1H15zM16 41h1v1H16zM7 50h2v1H7zM22 50h1v1H22zM26 54h1v1H26zM20 55h1v1H20zM8 58h1v1H8z"/><path fill="#00ff26" d="M15 0h1v1H15zM16 1h2v1H16zM13 4h1v1H13zM27 5h1v1H27zM27 6h1v1H27zM2 7h1v1H2zM18 7h1v1H18zM21 7h1v1H21zM23 7h1v1H23zM27 7h1v1H27zM8 8h1v1H8zM24 10h1v1H24zM9 11h1v1H9zM24 11h1v1H24zM6 12h1v1H6zM12 13h2v1H12zM25 13h2v1H25zM26 15h1v1H26zM16 16h1v1H16zM8 19h1v1H8zM6 20h1v1H6zM25 22h1v1H25zM27 22h1v1H27zM22 23h1v1H22zM2 26h1v1H2zM18 26h1v1H18zM13 27h1v1H13zM17 27h1v1H17zM21 29h1v1H21zM16 30h1v1H16zM21 30h1v1H21zM3 32h1v1H3zM11 33h1v1H11zM15 33h2v1H15zM15 34h1v1H15zM21 34h2v1H21zM26 35h1v1H26zM3 36h1v1H3zM14 36h1v1H14zM21 36h1v1H21zM3 37h1v1H3zM5 37h1v1H5zM17 37h1v1H17zM19 37h1v1H19zM16 40h1v1H16zM14 42h1v1H14zM17 43h1v1H17zM16 44h1v1H16zM27 55h1v1H27zM26 57h1v1H26z"/><path fill="#00ff1b" d="M14 0h1v1H14zM17 0h1v1H17zM21 1h1v1H21zM13 3h1v1H13zM22 5h1v1H22zM20 7h1v1H20zM14 8h1v1H14zM24 8h1v1H24zM12 9h1v1H12zM21 9h1v1H21zM19 11h1v1H19zM12 12h1v1H12zM7 13h1v1H7zM27 13h1v1H27zM15 14h1v1H15zM20 14h1v1H20zM11 15h1v1H11zM13 15h1v1H13zM7 16h1v1H7zM16 17h1v1H16zM25 17h2v1H25zM4 20h1v1H4zM11 20h1v1H11zM20 20h2v1H20zM25 20h1v1H25zM20 21h1v1H20zM22 21h1v1H22zM24 21h1v1H24zM11 22h1v1H11zM6 24h1v1H6zM11 25h1v1H11zM12 26h1v1H12zM16 26h1v1H16zM20 26h1v1H20zM24 27h1v1H24zM15 28h1v1H15zM18 29h1v1H18zM27 29h1v1H27zM27 30h1v1H27zM26 32h1v1H26zM17 34h1v1H17zM25 37h1v1H25zM20 39h1v1H20zM17 40h1v1H17zM0 41h1v1H0zM15 41h1v1H15zM18 46h1v1H18zM15 48h1v1H15zM15 49h1v1H15zM14 58h1v1H14zM15 59h1v1H15z"/><path fill="#00ff0f" d="M13 0h1v1H13zM20 2h1v1H20zM26 3h1v1H26zM18 4h1v1H18zM22 4h1v1H22zM21 5h1v1H21zM24 7h1v1H24zM3 9h1v1H3zM14 10h1v1H14zM14 11h1v1H14zM26 11h1v1H26zM9 12h1v1H9zM3 17h2v1H3zM13 18h1v1H13zM23 18h1v1H23zM6 19h1v1H6zM24 19h1v1H24zM26 20h1v1H26zM3 21h1v1H3zM15 22h1v1H15zM2 23h1v1H2zM12 23h1v1H12zM23 23h1v1H23zM14 24h1v1H14zM22 25h1v1H22zM26 25h1v1H26zM12 28h2v1H12zM22 30h1v1H22zM14 32h1v1H14zM13 33h1v1H13zM26 33h1v1H26zM10 34h2v1H10zM13 34h1v1H13zM11 36h1v1H11zM15 37h1v1H15zM20 37h1v1H20zM26 38h1v1H26zM12 39h1v1H12zM23 40h1v1H23zM17 42h1v1H17zM6 43h1v1H6zM11 44h1v1H11zM17 44h1v1H17zM21 44h1v1H21zM4 53h1v1H4zM12 53h1v1H12zM13 54h1v1H13zM17 54h1v1H17zM17 56h1v1H17zM12 59h1v1H12z"/><path fill="#00ff04" d="M12 1h1v1H12zM14 2h1v1H14zM16 2h1v1H16zM27 4h1v1H27zM16 6h1v1H16zM3 8h1v1H3zM11 8h1v1H11zM16 10h1v1H16zM14 15h1v1H14zM6 16h1v1H6zM13 16h1v1H13zM1 17h1v1H1zM0 19h1v1H0zM27 20h1v1H27zM0 21h1v1H0zM13 21h1v1H13zM2 22h1v1H2zM12 25h2v1H12zM27 25h1v1H27zM11 27h1v1H11zM15 27h1v1H15zM9 29h1v1H9zM25 29h1v1H25zM18 30h1v1H18zM13 31h1v1H13zM15 32h1v1H15zM20 32h1v1H20zM24 33h1v1H24zM2 35h1v1H2zM22 35h1v1H22zM18 36h1v1H18zM10 37h1v1H10zM16 37h1v1H16zM2 38h1v1H2zM21 38h1v1H21zM19 39h1v1H19zM20 42h1v1H20zM23 42h1v1H23zM14 43h1v1H14zM3 45h1v1H3zM1 46h1v1H1zM14 46h1v1H14zM13 47h1v1H13zM16 47h1v1H16zM16 48h2v1H16zM13 49h1v1H13zM18 50h1v1H18zM18 51h1v1H18zM1 52h1v1H1zM16 52h1v1H16zM13 53h1v1H13zM18 53h1v1H18zM15 55h1v1H15zM19 55h1v1H19zM11 58h1v1H11zM14 59h1v1H14z"/><path fill="#08ff00" d="M25 2h1v1H25zM16 3h1v1H16zM9 4h1v1H9zM24 4h1v1H24zM11 6h1v1H11zM4 7h1v1H4zM15 8h1v1H15zM11 10h1v1H11zM15 10h1v1H15zM1 12h1v1H1zM10 14h1v1H10zM1 15h1v1H1zM3 16h2v1H3zM0 18h1v1H0zM8 24h1v1H8zM10 27h1v1H10zM14 27h1v1H14zM16 28h1v1H16zM22 28h1v1H22zM9 30h1v1H9zM17 30h1v1H17zM10 31h1v1H10zM18 33h1v1H18zM25 33h1v1H25zM19 34h1v1H19zM21 39h1v1H21zM19 40h1v1H19zM27 41h1v1H27zM10 42h1v1H10zM15 42h1v1H15zM26 42h1v1H26zM23 43h1v1H23zM23 44h1v1H23zM16 45h1v1H16zM20 45h1v1H20zM24 46h1v1H24zM15 47h1v1H15zM10 48h1v1H10zM13 48h1v1H13zM14 49h1v1H14zM19 49h1v1H19zM13 50h1v1H13zM17 50h1v1H17zM2 51h1v1H2zM11 51h1v1H11zM13 51h1v1H13zM10 52h1v1H10zM0 54h1v1H0zM8 54h2v1H8zM14 54h1v1H14zM8 55h2v1H8zM15 56h1v1H15zM20 56h1v1H20zM13 57h1v1H13zM15 57h1v1H15zM18 58h1v1H18zM17 59h1v1H17z"/><path fill="#13ff00" d="M11 2h1v1H11zM8 5h1v1H8zM8 6h1v1H8zM14 9h1v1H14zM1 13h1v1H1zM13 20h1v1H13zM8 21h1v1H8zM9 22h1v1H9zM10 24h1v1H10zM27 27h1v1H27zM25 28h2v1H25zM8 29h1v1H8zM12 29h2v1H12zM27 31h1v1H27zM21 32h1v1H21zM23 32h1v1H23zM19 33h1v1H19zM8 35h2v1H8zM15 35h1v1H15zM18 35h1v1H18zM20 35h1v1H20zM16 36h1v1H16zM18 37h1v1H18zM10 38h1v1H10zM10 39h1v1H10zM10 40h1v1H10zM21 41h1v1H21zM19 42h1v1H19zM27 43h1v1H27zM8 44h1v1H8zM15 45h1v1H15zM15 46h1v1H15zM17 47h1v1H17zM14 48h1v1H14zM9 49h1v1H9zM17 49h1v1H17zM23 49h1v1H23zM25 51h1v1H25zM7 52h1v1H7zM13 52h1v1H13zM18 55h1v1H18zM19 56h1v1H19zM24 56h1v1H24zM16 57h1v1H16zM19 57h1v1H19z"/><path fill="#1fff00" d="M1 3h1v1H1zM6 8h1v1H6zM10 9h1v1H10zM10 10h1v1H10zM4 11h1v1H4zM10 13h1v1H10zM11 14h1v1H11zM19 15h1v1H19zM10 17h1v1H10zM8 18h1v1H8zM12 19h1v1H12zM9 23h1v1H9zM13 26h1v1H13zM12 27h1v1H12zM11 28h1v1H11zM11 29h1v1H11zM7 30h1v1H7zM20 34h1v1H20zM23 34h1v1H23zM25 34h1v1H25zM12 35h1v1H12zM21 35h1v1H21zM12 36h1v1H12zM20 36h1v1H20zM13 38h1v1H13zM27 38h1v1H27zM7 39h1v1H7zM25 39h1v1H25zM7 40h1v1H7zM12 40h2v1H12zM11 41h1v1H11zM20 41h1v1H20zM11 42h1v1H11zM7 43h1v1H7zM26 43h1v1H26zM12 44h1v1H12zM15 44h1v1H15zM18 45h1v1H18zM23 45h1v1H23zM26 45h1v1H26zM22 46h1v1H22zM18 47h1v1H18zM20 48h1v1H20zM9 52h1v1H9zM9 53h2v1H9zM14 53h1v1H14zM20 53h1v1H20zM18 54h1v1H18zM22 54h1v1H22zM7 56h1v1H7zM9 57h1v1H9zM11 57h2v1H11zM17 58h1v1H17zM11 59h1v1H11zM13 59h1v1H13zM19 59h1v1H19zM26 59h1v1H26z"/><path fill="#2aff00" d="M0 2h1v1H0zM13 6h1v1H13zM12 8h1v1H12zM3 10h1v1H3zM20 11h1v1H20zM12 21h1v1H12zM4 23h1v1H4zM4 24h1v1H4zM19 24h1v1H19zM8 27h1v1H8zM7 31h1v1H7zM1 34h1v1H1zM13 35h1v1H13zM4 36h1v1H4zM6 36h1v1H6zM9 36h1v1H9zM6 37h1v1H6zM27 37h1v1H27zM16 38h1v1H16zM4 39h1v1H4zM27 40h1v1H27zM17 41h1v1H17zM20 43h2v1H20zM14 44h1v1H14zM24 44h1v1H24zM7 45h1v1H7zM6 47h1v1H6zM22 47h1v1H22zM24 47h1v1H24zM19 50h1v1H19zM18 52h1v1H18zM21 53h1v1H21zM7 54h1v1H7zM14 55h1v1H14zM6 56h1v1H6zM8 56h1v1H8zM6 57h3v1H6zM20 58h1v1H20zM24 58h1v1H24zM7 59h1v1H7zM23 59h1v1H23z"/><path fill="#36ff00" d="M13 1h1v1H13zM8 12h1v1H8zM7 22h1v1H7zM21 23h1v1H21zM5 25h1v1H5zM6 26h1v1H6zM0 27h1v1H0zM2 27h1v1H2zM1 28h1v1H1zM3 28h2v1H3zM0 30h1v1H0zM0 31h1v1H0zM3 31h1v1H3zM7 33h1v1H7zM7 35h1v1H7zM23 36h1v1H23zM0 37h1v1H0zM9 38h1v1H9zM18 38h1v1H18zM22 39h1v1H22zM21 40h1v1H21zM3 43h1v1H3zM10 44h1v1H10zM5 45h1v1H5zM6 46h1v1H6zM4 48h1v1H4zM24 48h1v1H24zM16 49h1v1H16zM24 49h1v1H24zM14 50h1v1H14zM21 50h1v1H21zM3 51h1v1H3zM10 51h1v1H10zM22 51h1v1H22zM26 51h2v1H26zM19 52h2v1H19zM16 53h1v1H16zM11 55h1v1H11zM9 56h1v1H9zM14 56h1v1H14zM22 56h1v1H22zM17 57h1v1H17zM5 58h1v1H5zM18 59h1v1H18z"/><path fill="#41ff00" d="M4 1h1v1H4zM10 5h1v1H10zM12 5h1v1H12zM9 7h1v1H9zM2 8h1v1H2zM8 9h1v1H8zM12 10h1v1H12zM8 14h1v1H8zM25 14h1v1H25zM4 15h1v1H4zM8 17h1v1H8zM4 19h1v1H4zM19 19h1v1H19zM8 20h1v1H8zM1 22h1v1H1zM4 22h1v1H4zM1 27h1v1H1zM6 27h1v1H6zM7 29h1v1H7zM3 30h1v1H3zM1 31h1v1H1zM4 32h1v1H4zM9 32h1v1H9zM1 33h1v1H1zM6 33h1v1H6zM10 35h1v1H10zM5 36h1v1H5zM3 38h1v1H3zM13 39h1v1H13zM1 40h1v1H1zM14 40h1v1H14zM7 41h1v1H7zM19 41h1v1H19zM3 42h1v1H3zM16 42h1v1H16zM25 44h1v1H25zM12 45h1v1H12zM13 46h1v1H13zM0 48h1v1H0zM7 48h1v1H7zM18 48h1v1H18zM11 49h1v1H11zM0 51h1v1H0zM8 51h1v1H8zM12 52h1v1H12zM7 53h1v1H7zM15 53h1v1H15zM6 54h1v1H6zM16 54h1v1H16zM21 54h1v1H21zM1 55h1v1H1zM3 55h1v1H3zM6 55h1v1H6zM13 56h1v1H13zM1 58h1v1H1zM4 58h1v1H4zM12 58h1v1H12zM0 59h1v1H0zM24 59h1v1H24z"/><path fill="#4dff00" d="M10 0h1v1H10zM3 1h1v1H3zM4 3h1v1H4zM10 3h1v1H10zM11 4h2v1H11zM18 9h1v1H18zM20 12h1v1H20zM25 12h1v1H25zM6 13h1v1H6zM17 14h1v1H17zM2 15h1v1H2zM4 18h1v1H4zM3 19h1v1H3zM10 19h1v1H10zM15 19h1v1H15zM3 20h1v1H3zM6 21h1v1H6zM10 21h1v1H10zM23 21h1v1H23zM5 22h1v1H5zM11 23h1v1H11zM19 25h1v1H19zM8 26h1v1H8zM20 27h1v1H20zM5 28h1v1H5zM6 29h1v1H6zM4 30h1v1H4zM11 32h1v1H11zM0 35h1v1H0zM1 37h1v1H1zM7 37h1v1H7zM11 37h1v1H11zM5 39h1v1H5zM12 41h1v1H12zM23 41h1v1H23zM0 42h1v1H0zM13 43h1v1H13zM0 44h1v1H0zM2 44h1v1H2zM8 45h1v1H8zM26 46h1v1H26zM12 47h1v1H12zM19 47h1v1H19zM27 47h1v1H27zM11 50h1v1H11zM27 50h1v1H27zM17 52h1v1H17zM25 52h1v1H25zM1 53h1v1H1zM17 53h1v1H17zM15 54h1v1H15zM19 54h1v1H19zM0 55h1v1H0zM26 55h1v1H26zM1 56h1v1H1zM2 57h1v1H2zM21 57h2v1H21z"/><path fill="#58ff00" d="M0 1h1v1H0zM10 2h1v1H10zM8 4h1v1H8zM12 7h1v1H12zM26 8h1v1H26zM17 10h1v1H17zM23 10h1v1H23zM11 11h2v1H11zM3 12h1v1H3zM14 12h1v1H14zM5 14h1v1H5zM7 15h1v1H7zM9 15h1v1H9zM5 19h1v1H5zM0 23h1v1H0zM3 23h1v1H3zM2 29h1v1H2zM1 30h1v1H1zM6 31h1v1H6zM9 34h1v1H9zM8 36h1v1H8zM26 37h1v1H26zM2 39h1v1H2zM10 41h1v1H10zM25 42h1v1H25zM2 43h1v1H2zM4 43h1v1H4zM12 43h1v1H12zM18 44h1v1H18zM27 45h1v1H27zM19 46h1v1H19zM21 46h1v1H21zM23 46h1v1H23zM27 46h1v1H27zM1 47h1v1H1zM5 47h1v1H5zM25 47h1v1H25zM9 48h1v1H9zM1 49h1v1H1zM1 50h1v1H1zM10 50h1v1H10zM12 50h1v1H12zM11 53h1v1H11zM2 54h2v1H2zM4 55h1v1H4zM3 56h1v1H3zM10 58h1v1H10zM13 58h1v1H13z"/><path fill="#63ff00" d="M2 2h1v1H2zM9 2h1v1H9zM23 3h1v1H23zM24 5h1v1H24zM0 11h1v1H0zM5 13h1v1H5zM10 15h1v1H10zM10 16h1v1H10zM2 18h1v1H2zM7 19h1v1H7zM9 19h1v1H9zM7 21h1v1H7zM10 22h1v1H10zM10 25h1v1H10zM3 26h1v1H3zM9 26h1v1H9zM3 27h1v1H3zM9 27h1v1H9zM4 29h1v1H4zM20 30h1v1H20zM8 32h1v1H8zM0 33h1v1H0zM19 35h1v1H19zM0 38h2v1H0zM11 38h1v1H11zM26 40h1v1H26zM2 41h1v1H2zM8 41h1v1H8zM21 42h1v1H21zM19 43h1v1H19zM1 45h1v1H1zM20 46h1v1H20zM8 47h1v1H8zM23 47h1v1H23zM8 49h1v1H8zM21 49h1v1H21zM9 50h1v1H9zM1 51h1v1H1zM6 51h1v1H6zM14 51h1v1H14zM20 54h1v1H20zM10 55h1v1H10zM18 56h1v1H18zM9 58h1v1H9zM4 59h1v1H4z"/><path fill="#6fff00" d="M26 0h1v1H26zM7 7h1v1H7zM7 9h1v1H7zM2 10h1v1H2zM6 10h1v1H6zM15 11h1v1H15zM5 12h1v1H5zM11 12h1v1H11zM2 14h1v1H2zM8 16h1v1H8zM9 21h1v1H9zM2 24h1v1H2zM14 26h1v1H14zM20 28h1v1H20zM8 31h1v1H8zM20 31h1v1H20zM3 33h1v1H3zM6 34h1v1H6zM26 39h1v1H26zM1 41h1v1H1zM3 46h1v1H3zM8 46h1v1H8zM11 46h1v1H11zM11 48h1v1H11zM23 50h2v1H23zM21 52h1v1H21zM10 54h1v1H10zM12 54h1v1H12zM5 57h1v1H5zM21 58h1v1H21zM5 59h1v1H5zM16 59h1v1H16z"/><path fill="#7aff00" d="M12 2h1v1H12zM11 3h1v1H11zM6 6h1v1H6zM4 9h1v1H4zM5 10h1v1H5zM6 11h1v1H6zM4 12h1v1H4zM7 12h1v1H7zM2 13h1v1H2zM6 15h1v1H6zM1 18h1v1H1zM9 18h1v1H9zM0 20h1v1H0zM7 20h1v1H7zM8 23h1v1H8zM4 25h1v1H4zM6 25h1v1H6zM6 30h1v1H6zM10 30h1v1H10zM8 40h1v1H8zM4 42h1v1H4zM7 42h1v1H7zM9 42h1v1H9zM27 42h1v1H27zM8 43h1v1H8zM24 45h1v1H24zM9 46h1v1H9zM0 47h1v1H0zM3 47h1v1H3zM19 48h1v1H19zM21 48h1v1H21zM27 48h1v1H27zM0 50h1v1H0zM24 53h1v1H24zM2 56h1v1H2zM10 56h1v1H10zM27 57h1v1H27z"/><path fill="#86ff00" d="M7 1h2v1H7zM6 3h1v1H6zM6 5h1v1H6zM11 5h1v1H11zM0 7h1v1H0zM13 7h1v1H13zM1 8h1v1H1zM3 11h1v1H3zM2 16h1v1H2zM5 24h1v1H5zM0 25h1v1H0zM5 27h1v1H5zM2 30h1v1H2zM5 30h1v1H5zM1 32h1v1H1zM25 32h1v1H25zM14 38h1v1H14zM3 39h1v1H3zM9 41h1v1H9zM10 43h1v1H10zM22 44h1v1H22zM11 45h1v1H11zM25 45h1v1H25zM1 48h1v1H1zM26 48h1v1H26zM25 54h1v1H25zM20 57h1v1H20zM23 57h1v1H23zM26 58h2v1H26z"/><path fill="#91ff00" d="M5 6h1v1H5zM7 6h1v1H7zM0 9h3v1H0zM19 13h1v1H19zM7 14h1v1H7zM8 15h1v1H8zM3 18h1v1H3zM2 25h1v1H2zM1 35h1v1H1zM8 39h1v1H8zM4 41h1v1H4zM24 43h1v1H24zM5 44h3v1H5zM27 44h1v1H27zM9 47h1v1H9zM4 49h1v1H4zM7 49h1v1H7zM7 51h1v1H7zM23 52h1v1H23zM27 53h1v1H27zM4 54h1v1H4zM7 55h1v1H7zM24 57h1v1H24zM2 59h1v1H2z"/><path fill="#9dff00" d="M5 1h1v1H5zM2 4h1v1H2zM5 4h1v1H5zM7 5h1v1H7zM11 7h1v1H11zM0 15h1v1H0zM24 15h1v1H24zM0 16h1v1H0zM6 23h1v1H6zM8 28h1v1H8zM7 32h1v1H7zM8 33h1v1H8zM22 36h1v1H22zM13 37h1v1H13zM4 38h1v1H4zM18 41h1v1H18zM5 48h1v1H5zM8 52h1v1H8zM5 53h1v1H5zM24 55h1v1H24zM0 57h1v1H0z"/><path fill="#a8ff00" d="M0 4h1v1H0zM17 6h1v1H17zM1 7h1v1H1zM10 7h1v1H10zM12 15h1v1H12zM7 18h1v1H7zM17 18h1v1H17zM27 19h1v1H27zM3 22h1v1H3zM17 26h1v1H17zM0 28h1v1H0zM0 32h1v1H0zM2 34h1v1H2zM5 38h1v1H5zM8 42h1v1H8zM6 45h1v1H6zM14 52h1v1H14zM23 55h1v1H23zM25 55h1v1H25zM27 56h1v1H27zM21 59h1v1H21z"/><path fill="#b4ff00" d="M22 2h1v1H22zM6 4h1v1H6zM10 4h1v1H10zM17 4h1v1H17zM17 5h1v1H17zM0 6h1v1H0zM9 9h1v1H9zM9 14h1v1H9zM1 21h2v1H1zM1 23h1v1H1zM3 29h1v1H3zM18 32h1v1H18zM18 40h1v1H18zM4 47h1v1H4zM25 50h1v1H25zM3 52h1v1H3zM3 53h1v1H3zM4 56h2v1H4zM26 56h1v1H26zM2 58h1v1H2zM22 59h1v1H22z"/><path fill="#bfff00" d="M10 1h1v1H10zM1 2h1v1H1zM19 2h1v1H19zM3 3h1v1H3zM4 5h1v1H4zM16 8h1v1H16zM6 9h1v1H6zM2 11h1v1H2zM9 13h1v1H9zM24 13h1v1H24zM0 17h1v1H0zM2 19h1v1H2zM3 24h1v1H3zM1 25h1v1H1zM3 25h1v1H3zM10 28h1v1H10zM20 29h1v1H20zM12 31h1v1H12zM15 31h1v1H15zM12 33h1v1H12zM4 35h1v1H4zM5 40h2v1H5zM24 40h1v1H24zM16 43h1v1H16zM19 44h1v1H19zM7 46h1v1H7zM6 48h1v1H6zM5 50h1v1H5zM5 54h1v1H5zM23 54h1v1H23z"/><path fill="#cbff00" d="M9 10h1v1H9zM0 14h1v1H0zM5 20h1v1H5zM13 22h1v1H13zM6 28h1v1H6zM6 32h1v1H6zM5 33h1v1H5zM0 34h1v1H0zM1 36h1v1H1zM23 38h1v1H23zM0 40h1v1H0zM12 42h1v1H12zM0 45h1v1H0zM2 47h1v1H2zM5 49h1v1H5zM3 50h1v1H3zM5 51h1v1H5zM12 51h1v1H12zM14 57h1v1H14z"/><path fill="#d6ff00" d="M2 6h1v1H2zM3 7h1v1H3zM6 7h1v1H6zM9 8h1v1H9zM8 13h1v1H8zM4 14h1v1H4zM1 19h1v1H1zM6 22h1v1H6zM4 26h1v1H4zM21 28h1v1H21zM5 31h1v1H5zM6 39h1v1H6zM14 47h1v1H14zM6 49h1v1H6zM2 50h1v1H2zM12 55h1v1H12zM16 56h1v1H16z"/><path fill="#e2ff00" d="M7 8h1v1H7zM5 11h1v1H5zM8 11h1v1H8zM7 17h1v1H7zM2 28h1v1H2zM5 34h1v1H5zM10 36h1v1H10zM4 40h1v1H4zM5 41h1v1H5zM2 49h1v1H2zM15 52h1v1H15z"/><path fill="#fffc04" d="M1 1h1v1H1zM0 8h1v1H0zM3 13h1v1H3zM1 16h1v1H1zM4 21h1v1H4zM0 29h1v1H0zM2 36h1v1H2zM11 39h1v1H11zM2 40h1v1H2zM18 57h1v1H18z"/><path fill="#fff90b" d="M15 1h1v1H15zM27 3h1v1H27zM4 6h1v1H4zM5 7h1v1H5zM13 9h1v1H13zM0 10h1v1H0zM0 12h1v1H0zM6 14h1v1H6zM22 33h1v1H22zM9 37h1v1H9zM1 39h1v1H1zM1 42h1v1H1zM11 43h1v1H11zM4 45h1v1H4zM12 49h1v1H12zM0 52h1v1H0zM2 53h1v1H2z"/><path fill="#fff612" d="M14 1h1v1H14zM3 2h3v1H3zM2 3h1v1H2zM1 5h1v1H1zM9 5h1v1H9zM3 6h1v1H3zM5 9h1v1H5zM4 10h1v1H4zM4 13h1v1H4zM12 18h1v1H12zM23 31h1v1H23zM1 43h1v1H1zM1 44h1v1H1zM10 45h1v1H10zM0 46h1v1H0zM22 48h1v1H22zM3 49h1v1H3z"/><path fill="#fff219" d="M7 4h1v1H7zM19 38h1v1H19z"/><path fill="#ffef1f" d="M5 8h1v1H5zM19 10h1v1H19zM1 11h1v1H1zM9 20h1v1H9zM9 45h1v1H9zM25 48h1v1H25zM27 52h1v1H27z"/><path fill="#ffed26" d="M7 3h1v1H7zM4 8h1v1H4zM9 16h1v1H9zM11 26h1v1H11zM11 35h1v1H11z"/><path fill="#ffea2d" d="M6 0h1v1H6zM25 35h1v1H25zM25 46h1v1H25z"/><path fill="#ffe833" d="M9 0h1v1H9zM3 4h1v1H3zM0 5h1v1H0zM8 30h1v1H8zM13 45h1v1H13zM21 51h1v1H21z"/><path fill="#ffe53a" d="M8 22h1v1H8zM10 32h1v1H10zM10 33h1v1H10z"/><path fill="#ffe341" d="M25 38h1v1H25zM7 47h1v1H7zM22 58h1v1H22z"/><path fill="#ffe247" d="M5 5h1v1H5zM11 17h1v1H11zM3 35h1v1H3zM22 55h1v1H22z"/><path fill="#ffe04e" d="M4 0h1v1H4zM0 3h1v1H0zM0 26h1v1H0zM23 56h1v1H23z"/><path fill="#ffdf55" d="M1 6h1v1H1zM6 38h2v1H6zM23 53h1v1H23zM3 58h1v1H3z"/><path fill="#ffdd5b" d="M5 29h1v1H5zM10 46h1v1H10zM5 52h1v1H5z"/><path fill="#ffdc62" d="M6 17h1v1H6zM1 26h1v1H1zM5 32h1v1H5zM2 45h1v1H2zM20 47h1v1H20zM0 53h1v1H0z"/><path fill="#ffdc69" d="M5 17h1v1H5zM10 20h1v1H10z"/><path fill="#ffdb70" d="M10 18h1v1H10z"/><path fill="#ffdb76" d="M8 0h1v1H8zM12 16h1v1H12zM6 18h1v1H6zM4 51h1v1H4zM7 58h1v1H7z"/><path fill="#ffdb7d" d="M8 34h1v1H8zM2 42h1v1H2z"/><path fill="#ffdb84" d="M8 7h1v1H8zM2 17h1v1H2zM0 58h1v1H0z"/><path fill="#ffdb8a" d="M7 0h1v1H7zM7 2h1v1H7zM7 11h1v1H7zM2 46h1v1H2zM25 53h1v1H25z"/><path fill="#ffdc98" d="M2 37h1v1H2zM2 52h1v1H2z"/><path fill="#ffdd9e" d="M25 59h1v1H25z"/><path fill="#ffdea5" d="M2 0h1v1H2zM0 43h1v1H0zM22 53h1v1H22z"/><path fill="#ffdfac" d="M0 0h1v1H0zM3 0h1v1H3zM5 0h1v1H5zM2 1h1v1H2zM9 3h1v1H9zM1 4h1v1H1zM4 4h1v1H4zM2 5h2v1H2zM9 6h1v1H9zM0 13h1v1H0zM1 14h1v1H1zM3 15h1v1H3zM5 21h1v1H5zM0 22h1v1H0zM7 24h1v1H7zM5 26h1v1H5zM2 32h1v1H2zM4 33h1v1H4zM5 35h1v1H5zM3 40h1v1H3zM5 42h1v1H5zM21 47h1v1H21zM23 48h1v1H23zM0 49h1v1H0zM27 49h1v1H27zM24 51h1v1H24zM4 52h1v1H4zM24 52h1v1H24zM1 54h1v1H1zM25 57h1v1H25zM1 59h1v1H1zM3 59h1v1H3z"/><path fill="#ffffff" d="M1 0h1v1H1zM6 2h1v1H6zM24 3h1v1H24zM10 6h1v1H10zM20 8h1v1H20zM8 10h1v1H8zM26 12h1v1H26zM11 13h1v1H11zM22 13h1v1H22zM3 14h1v1H3zM24 18h1v1H24zM9 24h1v1H9zM13 24h1v1H13zM25 24h1v1H25zM23 26h1v1H23zM19 28h1v1H19zM14 30h1v1H14zM20 40h1v1H20zM25 41h1v1H25zM25 43h1v1H25zM22 45h1v1H22zM17 51h1v1H17zM4 57h1v1H4zM6 58h1v1H6z"/></svg>
<text class="tt" x="367.39" y="21.1">t = 115</text>
<text class="tk" x="364.89" y="151.86" text-anchor="end">1</text>
<text class="tk" x="364.89" y="141.49" text-anchor="end">6</text>
<text class="tk" x="364.89" y="131.12" text-anchor="end">11</text>
<text class="tk" x="364.89" y="120.75" text-anchor="end">16</text>
<text class="tk" x="364.89" y="110.38" text-anchor="end">21</text>
<text class="tk" x="364.89" y="100.01" text-anchor="end">26</text>
<text class="tk" x="364.89" y="89.64" text-anchor="end">31</text>
<text class="tk" x="364.89" y="79.27" text-anchor="end">36</text>
<text class="tk" x="364.89" y="68.90" text-anchor="end">41</text>
<text class="tk" x="364.89" y="58.53" text-anchor="end">46</text>
<text class="tk" x="364.89" y="48.15" text-anchor="end">51</text>
<text class="tk" x="364.89" y="37.78" text-anchor="end">56</text>
<text class="tk" x="369.75" y="157.80" text-anchor="middle">1</text>
<text class="tk" x="382.09" y="157.80" text-anchor="middle">4</text>
<text class="tk" x="394.43" y="157.80" text-anchor="middle">7</text>
<text class="tk" x="406.78" y="157.80" text-anchor="middle">10</text>
<text class="tk" x="419.12" y="157.80" text-anchor="middle">13</text>
<text class="tk" x="431.46" y="157.80" text-anchor="middle">16</text>
<text class="tk" x="443.80" y="157.80" text-anchor="middle">19</text>
<text class="tk" x="456.15" y="157.80" text-anchor="middle">22</text>
<text class="tk" x="468.49" y="157.80" text-anchor="middle">25</text>
<text class="tk" x="480.83" y="157.80" text-anchor="middle">28</text>
<path d="M365.49 149.41H367.69M365.49 139.04H367.69M365.49 128.67H367.69M365.49 118.30H367.69M365.49 107.93H367.69M365.49 97.56H367.69M365.49 87.19H367.69M365.49 76.82H367.69M365.49 66.45H367.69M365.49 56.08H367.69M365.49 45.70H367.69M365.49 35.33H367.69M369.75 150.45V152.65M382.09 150.45V152.65M394.43 150.45V152.65M406.78 150.45V152.65M419.12 150.45V152.65M431.46 150.45V152.65M443.80 150.45V152.65M456.15 150.45V152.65M468.49 150.45V152.65M480.83 150.45V152.65" stroke="#333" stroke-width="0.75" fill="none"/>
<text class="at" x="425.29" y="167.50" text-anchor="middle">Column</text>
<text class="at" x="0" y="0" text-anchor="middle" transform="translate(353.79,88.22) rotate(-90)">Row</text>
<rect x="490.44" y="40.90" width="3.6" height="103.90" fill="url(#cb)"/>
<text class="cl" x="497.39" y="45.55">0.09</text>
<text class="cl" x="497.39" y="58.85">0.08</text>
<text class="cl" x="497.39" y="85.55">0.06</text>
<text class="cl" x="497.39" y="98.85">0.05</text>
<text class="cl" x="497.39" y="112.25">0.04</text>
<text class="cl" x="497.39" y="125.55">0.03</text>
<svg x="540.46" y="26.0" width="115.2" height="124.45" viewBox="0 0 28 60" preserveAspectRatio="none"><rect width="28" height="60" fill="#40ff00"/><path fill="#4c00ff" d="M15 17h1v1H15z"/><path fill="#1300ff" d="M7 28h1v1H7z"/><path fill="#0800ff" d="M6 42h1v1H6z"/><path fill="#0004ff" d="M12 24h1v1H12zM4 37h1v1H4z"/><path fill="#000fff" d="M12 32h1v1H12z"/><path fill="#001bff" d="M16 11h1v1H16z"/><path fill="#0026ff" d="M3 48h1v1H3z"/><path fill="#0032ff" d="M20 3h1v1H20zM25 16h1v1H25zM10 23h1v1H10zM27 24h1v1H27zM10 29h1v1H10z"/><path fill="#003dff" d="M2 12h1v1H2zM27 21h1v1H27zM8 25h1v1H8zM20 25h1v1H20zM26 29h1v1H26zM11 31h1v1H11zM7 34h1v1H7z"/><path fill="#0049ff" d="M13 44h1v1H13zM25 58h1v1H25z"/><path fill="#0054ff" d="M18 2h1v1H18zM17 12h1v1H17zM18 13h1v1H18zM18 14h1v1H18zM18 15h1v1H18zM14 21h1v1H14zM0 24h1v1H0zM15 26h1v1H15zM24 30h1v1H24zM26 36h1v1H26zM14 41h1v1H14z"/><path fill="#0060ff" d="M17 2h1v1H17zM17 3h1v1H17zM19 7h1v1H19zM19 14h1v1H19zM14 20h1v1H14zM18 34h1v1H18zM24 34h1v1H24z"/><path fill="#006bff" d="M5 3h1v1H5zM15 13h1v1H15zM12 14h1v1H12zM18 23h1v1H18zM1 29h1v1H1zM11 30h1v1H11zM13 36h1v1H13z"/><path fill="#0077ff" d="M9 1h1v1H9zM15 6h1v1H15zM21 12h1v1H21zM23 17h1v1H23zM26 19h1v1H26zM5 23h1v1H5zM27 23h1v1H27zM1 24h1v1H1zM27 36h1v1H27zM9 40h1v1H9zM11 52h1v1H11z"/><path fill="#0082ff" d="M25 5h1v1H25zM17 11h1v1H17zM13 14h1v1H13zM5 16h1v1H5zM20 17h1v1H20zM22 20h1v1H22zM24 22h1v1H24zM11 24h1v1H11zM17 24h1v1H17zM9 39h1v1H9zM4 50h1v1H4zM9 51h1v1H9zM13 55h1v1H13z"/><path fill="#008eff" d="M21 2h1v1H21zM12 3h1v1H12zM18 6h1v1H18zM25 9h1v1H25zM17 19h1v1H17zM22 22h1v1H22zM7 27h1v1H7zM15 36h1v1H15zM9 43h1v1H9zM11 54h1v1H11zM3 57h1v1H3z"/><path fill="#0099ff" d="M8 2h1v1H8zM8 3h1v1H8zM11 9h1v1H11zM14 17h1v1H14zM19 17h1v1H19zM16 19h1v1H16zM23 22h1v1H23zM14 25h1v1H14zM21 26h1v1H21zM18 28h1v1H18zM24 28h1v1H24zM26 44h1v1H26zM11 56h1v1H11z"/><path fill="#00a4ff" d="M16 4h1v1H16zM17 9h1v1H17zM1 10h1v1H1zM18 10h1v1H18zM21 15h1v1H21zM1 20h1v1H1zM19 20h1v1H19zM17 23h1v1H17zM12 30h1v1H12zM4 31h1v1H4zM6 35h1v1H6zM6 41h1v1H6zM14 45h1v1H14zM6 52h1v1H6zM6 53h1v1H6z"/><path fill="#00b0ff" d="M14 3h2v1H14zM12 6h1v1H12zM14 7h1v1H14zM19 8h1v1H19zM21 11h1v1H21zM12 22h1v1H12zM4 27h1v1H4zM14 28h1v1H14zM15 29h1v1H15zM24 29h1v1H24zM9 31h1v1H9zM21 31h1v1H21zM3 34h2v1H3zM3 44h1v1H3zM6 50h1v1H6zM5 55h1v1H5zM6 59h1v1H6z"/><path fill="#00bbff" d="M16 0h1v1H16zM19 0h1v1H19zM24 0h1v1H24zM26 6h1v1H26zM22 7h1v1H22zM13 17h1v1H13zM5 18h1v1H5zM22 19h1v1H22zM2 20h1v1H2zM11 21h1v1H11zM10 26h1v1H10zM2 31h1v1H2zM0 36h1v1H0zM12 38h1v1H12zM11 40h1v1H11zM9 44h1v1H9zM11 47h1v1H11zM12 48h1v1H12zM10 57h1v1H10zM23 58h1v1H23z"/><path fill="#00c7ff" d="M6 1h1v1H6zM22 1h1v1H22zM13 2h1v1H13zM26 4h1v1H26zM14 5h2v1H14zM26 7h1v1H26zM27 8h1v1H27zM13 10h1v1H13zM22 10h1v1H22zM27 12h1v1H27zM23 14h2v1H23zM23 15h1v1H23zM27 15h1v1H27zM11 16h1v1H11zM12 17h1v1H12zM22 17h1v1H22zM11 18h1v1H11zM21 18h1v1H21zM12 20h1v1H12zM23 20h1v1H23zM25 21h1v1H25zM19 22h2v1H19zM2 33h1v1H2zM9 33h1v1H9zM12 37h1v1H12zM24 38h1v1H24zM16 39h1v1H16zM24 39h1v1H24zM27 39h1v1H27zM3 41h1v1H3zM13 41h1v1H13zM5 43h1v1H5zM4 44h1v1H4zM4 46h2v1H4zM12 46h1v1H12zM2 48h1v1H2zM8 48h1v1H8zM10 49h1v1H10zM20 49h1v1H20zM2 55h1v1H2zM9 59h1v1H9z"/><path fill="#00d2ff" d="M26 5h1v1H26zM14 6h1v1H14zM2 7h1v1H2zM26 9h2v1H26zM5 15h1v1H5zM24 16h1v1H24zM11 19h1v1H11zM9 25h1v1H9zM9 28h1v1H9zM25 30h1v1H25zM23 33h1v1H23zM14 35h1v1H14zM7 36h1v1H7zM8 37h1v1H8zM8 38h1v1H8zM10 47h1v1H10zM26 49h1v1H26zM7 50h1v1H7zM26 50h1v1H26zM16 51h1v1H16zM8 53h1v1H8zM0 56h1v1H0zM16 58h1v1H16zM8 59h1v1H8zM10 59h1v1H10z"/><path fill="#00deff" d="M12 0h1v1H12zM27 0h1v1H27zM13 5h1v1H13zM7 10h1v1H7zM10 11h1v1H10zM6 12h1v1H6zM9 17h1v1H9zM7 23h1v1H7zM23 24h1v1H23zM16 32h1v1H16zM27 35h1v1H27zM0 39h1v1H0zM13 42h1v1H13zM24 42h1v1H24zM16 46h1v1H16zM26 47h1v1H26zM22 52h1v1H22zM26 52h1v1H26zM12 56h1v1H12zM25 56h1v1H25zM1 57h1v1H1zM8 58h1v1H8z"/><path fill="#00ff49" d="M11 1h1v1H11zM8 8h1v1H8zM10 8h1v1H10zM18 11h1v1H18zM16 12h1v1H16zM16 13h1v1H16zM15 15h1v1H15zM6 20h1v1H6zM24 24h1v1H24zM7 25h1v1H7zM21 25h1v1H21zM2 26h1v1H2zM7 26h1v1H7zM3 32h1v1H3zM16 35h1v1H16zM5 37h1v1H5zM18 42h1v1H18zM15 43h1v1H15zM8 50h1v1H8zM27 59h1v1H27z"/><path fill="#00ff3d" d="M11 0h1v1H11zM18 1h1v1H18zM19 6h1v1H19zM3 9h1v1H3zM9 11h1v1H9zM10 12h1v1H10zM18 12h1v1H18zM7 13h1v1H7zM7 16h1v1H7zM3 17h1v1H3zM8 19h1v1H8zM4 20h1v1H4zM15 20h1v1H15zM15 21h1v1H15zM15 23h1v1H15zM23 30h1v1H23zM27 34h1v1H27zM3 36h1v1H3zM3 37h1v1H3zM15 38h1v1H15zM23 39h1v1H23zM22 42h1v1H22zM6 43h1v1H6zM18 43h1v1H18zM25 49h1v1H25zM15 51h1v1H15zM24 54h1v1H24zM15 58h1v1H15z"/><path fill="#00ff32" d="M19 5h1v1H19zM16 7h1v1H16zM15 12h1v1H15zM19 12h1v1H19zM17 13h1v1H17zM16 14h1v1H16zM4 17h1v1H4zM0 19h1v1H0zM0 21h1v1H0zM3 21h1v1H3zM16 21h1v1H16zM16 22h1v1H16zM2 23h1v1H2zM6 24h1v1H6zM22 27h1v1H22zM22 40h1v1H22zM0 41h1v1H0zM15 50h1v1H15zM19 53h1v1H19z"/><path fill="#00ff26" d="M18 5h1v1H18zM3 8h1v1H3zM17 8h1v1H17zM19 9h1v1H19zM9 12h1v1H9zM3 16h1v1H3zM6 16h1v1H6zM17 16h1v1H17zM22 16h1v1H22zM1 17h1v1H1zM0 18h1v1H0zM14 18h1v1H14zM18 18h1v1H18zM6 19h1v1H6zM14 19h1v1H14zM17 21h1v1H17zM2 22h1v1H2zM13 23h2v1H13zM16 23h1v1H16zM13 30h1v1H13zM14 31h1v1H14zM13 32h1v1H13zM11 33h1v1H11zM14 33h1v1H14zM10 34h1v1H10zM12 34h1v1H12zM23 35h1v1H23zM24 36h1v1H24zM17 39h1v1H17zM20 44h1v1H20z"/><path fill="#00ff1b" d="M23 0h1v1H23zM24 6h1v1H24zM4 7h1v1H4zM15 9h2v1H15zM13 11h1v1H13zM1 12h1v1H1zM1 13h1v1H1zM20 13h1v1H20zM1 15h1v1H1zM16 15h1v1H16zM4 16h1v1H4zM15 16h1v1H15zM16 18h1v1H16zM27 18h1v1H27zM13 19h1v1H13zM20 19h1v1H20zM25 19h1v1H25zM24 20h1v1H24zM26 21h1v1H26zM11 22h1v1H11zM17 22h1v1H17zM19 23h1v1H19zM11 25h1v1H11zM15 25h1v1H15zM9 29h1v1H9zM14 29h1v1H14zM2 35h1v1H2zM10 37h1v1H10zM24 37h1v1H24zM2 38h1v1H2zM20 38h1v1H20zM25 40h1v1H25zM24 41h1v1H24zM22 43h1v1H22zM11 44h1v1H11zM3 45h1v1H3zM1 46h1v1H1zM16 50h1v1H16zM4 53h1v1H4zM27 54h1v1H27z"/><path fill="#00ff0f" d="M20 0h2v1H20zM24 1h1v1H24zM18 3h1v1H18zM9 4h1v1H9zM16 5h1v1H16zM20 5h1v1H20zM23 5h1v1H23zM20 6h1v1H20zM15 7h1v1H15zM18 8h1v1H18zM22 8h1v1H22zM24 9h1v1H24zM21 10h1v1H21zM25 11h1v1H25zM22 12h1v1H22zM11 15h1v1H11zM22 15h1v1H22zM17 17h1v1H17zM21 19h1v1H21zM11 20h1v1H11zM18 21h1v1H18zM12 26h1v1H12zM19 26h1v1H19zM13 27h1v1H13zM9 30h1v1H9zM10 31h1v1H10zM16 31h1v1H16zM11 34h1v1H11zM8 35h1v1H8zM11 36h1v1H11zM14 37h1v1H14zM23 37h1v1H23zM14 39h1v1H14zM26 41h1v1H26zM10 42h1v1H10zM8 44h1v1H8zM10 48h1v1H10zM1 52h1v1H1zM12 53h1v1H12zM26 53h1v1H26zM8 54h1v1H8zM13 54h1v1H13zM26 54h1v1H26zM12 59h1v1H12z"/><path fill="#00ff04" d="M27 1h1v1H27zM15 2h1v1H15zM23 2h2v1H23zM27 2h1v1H27zM1 3h1v1H1zM14 4h2v1H14zM20 4h2v1H20zM8 5h1v1H8zM8 6h1v1H8zM21 6h2v1H21zM25 7h1v1H25zM6 8h1v1H6zM13 8h1v1H13zM12 9h1v1H12zM4 11h1v1H4zM27 11h1v1H27zM12 12h1v1H12zM24 12h1v1H24zM12 13h1v1H12zM14 13h1v1H14zM27 14h1v1H27zM17 15h1v1H17zM14 16h1v1H14zM21 17h1v1H21zM22 18h1v1H22zM26 18h1v1H26zM18 19h1v1H18zM8 21h1v1H8zM9 22h1v1H9zM14 22h1v1H14zM12 23h1v1H12zM8 24h1v1H8zM15 24h2v1H15zM18 24h1v1H18zM16 25h1v1H16zM25 25h1v1H25zM26 26h1v1H26zM10 27h1v1H10zM16 27h1v1H16zM26 27h1v1H26zM17 28h1v1H17zM8 29h1v1H8zM16 29h1v1H16zM15 30h1v1H15zM26 30h1v1H26zM27 32h1v1H27zM9 35h1v1H9zM22 37h1v1H22zM10 38h1v1H10zM10 39h1v1H10zM12 39h1v1H12zM7 40h1v1H7zM10 40h1v1H10zM22 41h1v1H22zM14 42h1v1H14zM7 43h1v1H7zM17 46h1v1H17zM9 49h1v1H9zM2 51h1v1H2zM11 51h1v1H11zM10 52h1v1H10zM0 54h1v1H0zM9 54h1v1H9zM8 55h2v1H8zM16 55h1v1H16zM27 55h1v1H27zM26 57h1v1H26zM11 58h1v1H11zM14 58h1v1H14z"/><path fill="#08ff00" d="M0 2h1v1H0zM19 3h1v1H19zM21 3h1v1H21zM13 4h1v1H13zM17 7h1v1H17zM11 8h1v1H11zM21 8h1v1H21zM20 9h1v1H20zM22 9h1v1H22zM3 10h1v1H3zM13 12h1v1H13zM21 13h1v1H21zM14 14h1v1H14zM21 14h2v1H21zM20 16h1v1H20zM23 16h1v1H23zM8 18h1v1H8zM15 18h1v1H15zM19 18h1v1H19zM25 18h1v1H25zM23 19h1v1H23zM17 20h1v1H17zM21 24h2v1H21zM12 25h1v1H12zM23 25h1v1H23zM25 26h1v1H25zM11 27h1v1H11zM18 27h2v1H18zM12 28h2v1H12zM19 30h1v1H19zM18 31h1v1H18zM26 31h1v1H26zM14 34h1v1H14zM7 39h1v1H7zM15 40h1v1H15zM17 45h1v1H17zM13 47h1v1H13zM23 51h1v1H23zM7 52h1v1H7z"/><path fill="#13ff00" d="M18 0h1v1H18zM19 1h2v1H19zM25 1h2v1H25zM19 4h1v1H19zM25 8h1v1H25zM11 10h1v1H11zM26 10h2v1H26zM23 11h1v1H23zM13 13h1v1H13zM10 14h1v1H10zM13 15h1v1H13zM20 15h1v1H20zM25 15h1v1H25zM18 17h1v1H18zM24 17h1v1H24zM20 18h1v1H20zM16 20h1v1H16zM19 21h1v1H19zM21 21h1v1H21zM9 23h1v1H9zM24 23h1v1H24zM10 24h1v1H10zM13 25h1v1H13zM24 25h1v1H24zM27 26h1v1H27zM23 27h1v1H23zM17 29h1v1H17zM7 30h1v1H7zM7 31h1v1H7zM17 31h1v1H17zM19 32h1v1H19zM4 36h1v1H4zM6 36h1v1H6zM9 36h1v1H9zM14 36h1v1H14zM6 37h1v1H6zM4 39h1v1H4zM15 39h1v1H15zM5 45h1v1H5zM7 45h1v1H7zM19 45h1v1H19zM6 46h1v1H6zM6 47h1v1H6zM13 49h1v1H13zM13 50h1v1H13zM13 51h1v1H13zM9 52h1v1H9zM9 53h1v1H9zM13 53h1v1H13zM17 55h1v1H17zM7 56h1v1H7zM9 57h1v1H9zM13 57h1v1H13zM14 59h1v1H14zM20 59h1v1H20z"/><path fill="#1fff00" d="M14 0h2v1H14zM4 1h1v1H4zM12 1h1v1H12zM16 1h2v1H16zM11 2h1v1H11zM13 3h1v1H13zM23 4h1v1H23zM11 6h1v1H11zM18 7h1v1H18zM2 8h1v1H2zM14 8h1v1H14zM10 9h1v1H10zM10 10h1v1H10zM20 10h1v1H20zM25 10h1v1H25zM10 13h1v1H10zM15 14h1v1H15zM16 16h1v1H16zM18 16h1v1H18zM10 17h1v1H10zM27 17h1v1H27zM13 18h1v1H13zM13 21h1v1H13zM4 23h1v1H4zM4 24h1v1H4zM14 24h1v1H14zM20 24h1v1H20zM17 25h1v1H17zM6 26h1v1H6zM0 27h1v1H0zM8 27h1v1H8zM3 28h2v1H3zM11 28h1v1H11zM27 28h1v1H27zM11 29h1v1H11zM23 29h1v1H23zM0 30h1v1H0zM3 31h1v1H3zM13 31h1v1H13zM19 31h1v1H19zM9 32h1v1H9zM7 33h1v1H7zM13 33h1v1H13zM27 33h1v1H27zM13 34h1v1H13zM16 34h1v1H16zM7 35h1v1H7zM25 36h1v1H25zM9 38h1v1H9zM11 41h1v1H11zM11 42h1v1H11zM10 44h1v1H10zM21 45h1v1H21zM14 46h1v1H14zM13 48h1v1H13zM15 49h1v1H15zM22 49h1v1H22zM20 50h1v1H20zM10 53h1v1H10zM7 54h1v1H7zM21 55h1v1H21zM6 56h1v1H6zM21 56h1v1H21zM6 57h2v1H6zM11 57h1v1H11zM19 58h1v1H19zM7 59h1v1H7zM11 59h1v1H11zM15 59h1v1H15z"/><path fill="#2aff00" d="M13 0h1v1H13zM17 0h1v1H17zM25 0h1v1H25zM3 1h1v1H3zM4 3h1v1H4zM25 3h1v1H25zM25 4h1v1H25zM14 10h1v1H14zM14 11h1v1H14zM22 11h1v1H22zM8 12h1v1H8zM2 15h1v1H2zM4 15h1v1H4zM13 16h1v1H13zM19 16h1v1H19zM26 16h1v1H26zM16 17h1v1H16zM4 19h1v1H4zM3 20h1v1H3zM18 20h1v1H18zM1 22h1v1H1zM7 22h1v1H7zM15 22h1v1H15zM20 23h1v1H20zM26 23h1v1H26zM5 25h1v1H5zM2 27h1v1H2zM6 27h1v1H6zM12 27h1v1H12zM1 28h1v1H1zM15 28h1v1H15zM23 28h1v1H23zM12 29h2v1H12zM19 29h1v1H19zM22 29h1v1H22zM0 31h1v1H0zM25 31h1v1H25zM6 33h1v1H6zM15 33h1v1H15zM1 34h1v1H1zM15 34h1v1H15zM26 34h1v1H26zM10 35h1v1H10zM17 35h1v1H17zM5 36h1v1H5zM0 37h1v1H0zM17 38h1v1H17zM7 41h1v1H7zM15 41h1v1H15zM3 43h1v1H3zM14 43h1v1H14zM12 44h1v1H12zM8 45h1v1H8zM4 48h1v1H4zM7 48h1v1H7zM15 48h1v1H15zM14 49h1v1H14zM18 49h1v1H18zM8 51h1v1H8zM10 51h1v1H10zM13 52h1v1H13zM14 54h1v1H14zM8 56h2v1H8zM8 57h1v1H8zM12 57h1v1H12zM5 58h1v1H5zM13 59h1v1H13z"/><path fill="#36ff00" d="M23 1h1v1H23zM26 2h1v1H26zM22 3h1v1H22zM18 4h1v1H18zM23 6h1v1H23zM25 6h1v1H25zM9 7h1v1H9zM8 9h1v1H8zM16 10h1v1H16zM23 12h1v1H23zM8 14h1v1H8zM11 14h1v1H11zM26 14h1v1H26zM14 15h1v1H14zM21 16h1v1H21zM27 16h1v1H27zM8 17h1v1H8zM4 18h1v1H4zM3 19h1v1H3zM12 19h1v1H12zM8 20h1v1H8zM13 20h1v1H13zM4 22h2v1H4zM18 22h1v1H18zM25 23h1v1H25zM1 27h1v1H1zM14 27h1v1H14zM25 27h1v1H25zM5 28h1v1H5zM6 29h2v1H6zM3 30h1v1H3zM16 30h1v1H16zM1 31h1v1H1zM22 31h1v1H22zM24 31h1v1H24zM4 32h1v1H4zM14 32h1v1H14zM17 32h1v1H17zM16 33h1v1H16zM20 33h1v1H20zM9 34h1v1H9zM12 35h1v1H12zM24 35h1v1H24zM26 35h1v1H26zM8 36h1v1H8zM12 36h1v1H12zM17 36h1v1H17zM7 37h1v1H7zM3 38h1v1H3zM12 40h2v1H12zM16 40h1v1H16zM16 41h1v1H16zM3 42h1v1H3zM0 48h1v1H0zM22 50h1v1H22zM3 51h1v1H3zM19 51h2v1H19zM7 53h1v1H7zM6 54h1v1H6zM6 55h1v1H6zM11 55h1v1H11zM15 55h1v1H15zM20 55h1v1H20z"/><path fill="#41ff00" d="M22 0h1v1H22zM0 1h1v1H0zM14 2h1v1H14zM16 2h1v1H16zM10 5h1v1H10zM27 5h1v1H27zM16 6h1v1H16zM27 6h1v1H27zM27 7h1v1H27zM23 8h1v1H23zM23 9h1v1H23zM24 10h1v1H24zM19 11h1v1H19zM3 12h1v1H3zM6 13h1v1H6zM23 13h1v1H23zM26 13h1v1H26zM5 14h1v1H5zM20 14h1v1H20zM26 15h1v1H26zM5 19h1v1H5zM10 19h1v1H10zM6 21h1v1H6zM12 21h1v1H12zM26 22h1v1H26zM0 23h1v1H0zM3 23h1v1H3zM26 24h1v1H26zM18 25h1v1H18zM8 26h1v1H8zM13 26h1v1H13zM16 26h1v1H16zM22 26h1v1H22zM24 26h1v1H24zM4 30h1v1H4zM6 31h1v1H6zM22 32h1v1H22zM24 32h1v1H24zM1 33h1v1H1zM17 33h1v1H17zM21 33h1v1H21zM15 37h1v1H15zM25 37h1v1H25zM13 38h1v1H13zM26 38h1v1H26zM5 39h1v1H5zM1 40h1v1H1zM8 41h1v1H8zM10 41h1v1H10zM0 42h1v1H0zM16 44h1v1H16zM5 47h1v1H5zM9 48h1v1H9zM14 48h1v1H14zM11 49h1v1H11zM0 51h1v1H0zM14 53h1v1H14zM1 55h1v1H1zM3 55h1v1H3zM15 56h1v1H15zM15 57h1v1H15zM4 58h1v1H4zM0 59h1v1H0z"/><path fill="#4dff00" d="M10 0h1v1H10zM2 2h1v1H2zM10 3h1v1H10zM16 3h1v1H16zM8 4h1v1H8zM20 7h2v1H20zM23 7h1v1H23zM12 8h1v1H12zM15 8h1v1H15zM14 9h1v1H14zM15 10h1v1H15zM0 11h1v1H0zM24 11h1v1H24zM5 13h1v1H5zM25 13h1v1H25zM2 14h1v1H2zM7 15h1v1H7zM9 15h1v1H9zM2 18h1v1H2zM10 21h1v1H10zM21 22h1v1H21zM27 22h1v1H27zM11 23h1v1H11zM15 27h1v1H15zM17 27h1v1H17zM2 29h1v1H2zM1 30h1v1H1zM27 30h1v1H27zM8 32h1v1H8zM11 32h1v1H11zM26 32h1v1H26zM6 34h1v1H6zM0 35h1v1H0zM1 37h1v1H1zM11 37h1v1H11zM21 37h1v1H21zM22 38h1v1H22zM18 39h1v1H18zM2 43h1v1H2zM4 43h1v1H4zM8 43h1v1H8zM0 44h1v1H0zM2 44h1v1H2zM12 45h1v1H12zM8 46h1v1H8zM8 47h1v1H8zM15 47h1v1H15zM8 49h1v1H8zM9 50h3v1H9zM12 52h1v1H12zM14 55h1v1H14zM2 57h1v1H2zM1 58h1v1H1zM12 58h1v1H12z"/><path fill="#58ff00" d="M9 2h2v1H9zM20 2h1v1H20zM26 3h1v1H26zM11 4h1v1H11zM24 8h1v1H24zM21 9h1v1H21zM2 10h1v1H2zM27 13h1v1H27zM25 17h2v1H25zM7 19h1v1H7zM9 19h1v1H9zM25 20h1v1H25zM7 21h1v1H7zM10 22h1v1H10zM25 22h1v1H25zM2 24h1v1H2zM10 25h1v1H10zM3 26h1v1H3zM9 26h1v1H9zM18 26h1v1H18zM3 27h1v1H3zM9 27h1v1H9zM4 29h1v1H4zM27 29h1v1H27zM8 31h1v1H8zM15 32h1v1H15zM26 33h1v1H26zM19 36h1v1H19zM17 37h1v1H17zM11 38h1v1H11zM2 39h1v1H2zM8 40h1v1H8zM2 41h1v1H2zM12 41h1v1H12zM27 41h1v1H27zM7 42h1v1H7zM9 42h1v1H9zM15 42h1v1H15zM26 42h1v1H26zM17 43h1v1H17zM15 45h1v1H15zM9 46h1v1H9zM13 46h1v1H13zM1 47h1v1H1zM12 47h1v1H12zM1 49h1v1H1zM1 50h1v1H1zM6 51h1v1H6zM25 51h1v1H25zM16 52h1v1H16zM1 53h1v1H1zM11 53h1v1H11zM3 54h1v1H3zM0 55h1v1H0zM4 55h1v1H4zM1 56h1v1H1zM3 56h1v1H3zM13 56h1v1H13zM17 56h1v1H17zM24 56h1v1H24zM9 58h2v1H9zM4 59h1v1H4zM26 59h1v1H26z"/><path fill="#63ff00" d="M21 1h1v1H21zM12 5h1v1H12zM21 5h2v1H21zM13 6h1v1H13zM7 7h1v1H7zM24 7h1v1H24zM4 9h1v1H4zM7 9h1v1H7zM5 10h2v1H5zM12 10h1v1H12zM26 11h1v1H26zM4 12h2v1H4zM7 12h1v1H7zM2 13h1v1H2zM6 15h1v1H6zM10 15h1v1H10zM2 16h1v1H2zM8 16h1v1H8zM10 16h1v1H10zM1 18h1v1H1zM0 20h1v1H0zM20 20h1v1H20zM26 20h1v1H26zM9 21h1v1H9zM24 21h1v1H24zM22 23h1v1H22zM4 25h1v1H4zM6 25h1v1H6zM26 25h1v1H26zM21 27h1v1H21zM24 27h1v1H24zM6 30h1v1H6zM10 30h1v1H10zM0 33h1v1H0zM3 33h1v1H3zM13 35h1v1H13zM19 37h1v1H19zM0 38h2v1H0zM13 39h1v1H13zM17 40h1v1H17zM9 41h1v1H9zM4 42h1v1H4zM10 43h1v1H10zM12 43h2v1H12zM26 43h2v1H26zM7 44h1v1H7zM14 44h1v1H14zM1 45h1v1H1zM3 46h1v1H3zM11 46h1v1H11zM15 46h1v1H15zM24 46h1v1H24zM16 47h1v1H16zM16 48h1v1H16zM12 50h1v1H12zM14 50h1v1H14zM2 54h1v1H2zM10 54h1v1H10zM17 54h1v1H17zM10 55h1v1H10zM14 56h1v1H14zM5 57h1v1H5zM16 57h1v1H16zM5 59h1v1H5z"/><path fill="#6fff00" d="M25 2h1v1H25zM6 3h1v1H6zM12 4h1v1H12zM22 4h1v1H22zM27 4h1v1H27zM6 5h1v1H6zM6 6h1v1H6zM0 7h1v1H0zM1 8h1v1H1zM6 11h1v1H6zM11 11h1v1H11zM3 18h1v1H3zM9 18h1v1H9zM23 18h1v1H23zM24 19h1v1H24zM7 20h1v1H7zM21 20h1v1H21zM27 20h1v1H27zM20 21h1v1H20zM8 23h1v1H8zM5 24h1v1H5zM0 25h1v1H0zM2 25h1v1H2zM27 25h1v1H27zM5 27h1v1H5zM16 28h1v1H16zM18 29h1v1H18zM25 29h1v1H25zM5 30h1v1H5zM17 34h1v1H17zM22 34h1v1H22zM21 36h1v1H21zM16 37h1v1H16zM8 39h1v1H8zM20 39h1v1H20zM23 40h1v1H23zM1 41h1v1H1zM4 41h1v1H4zM23 42h1v1H23zM5 44h2v1H5zM17 44h1v1H17zM16 45h1v1H16zM26 45h1v1H26zM18 46h1v1H18zM3 47h1v1H3zM9 47h1v1H9zM11 48h1v1H11zM7 49h1v1H7zM1 51h1v1H1zM26 51h1v1H26zM19 55h1v1H19zM13 58h1v1H13zM24 58h1v1H24z"/><path fill="#7aff00" d="M7 1h2v1H7zM13 1h1v1H13zM24 4h1v1H24zM12 7h1v1H12zM0 9h2v1H0zM3 11h1v1H3zM12 11h1v1H12zM7 14h1v1H7zM0 15h1v1H0zM19 15h1v1H19zM0 16h1v1H0zM22 21h1v1H22zM8 28h1v1H8zM21 29h1v1H21zM2 30h1v1H2zM21 30h1v1H21zM27 31h1v1H27zM1 32h1v1H1zM7 32h1v1H7zM8 33h1v1H8zM24 33h2v1H24zM21 34h1v1H21zM15 35h1v1H15zM4 38h2v1H4zM27 38h1v1H27zM3 39h1v1H3zM14 40h1v1H14zM8 42h1v1H8zM17 42h1v1H17zM23 43h1v1H23zM15 44h1v1H15zM21 44h1v1H21zM23 44h1v1H23zM6 45h1v1H6zM11 45h1v1H11zM0 47h1v1H0zM5 48h1v1H5zM17 48h1v1H17zM4 49h1v1H4zM23 49h1v1H23zM0 50h1v1H0zM17 50h2v1H17zM7 51h1v1H7zM18 51h1v1H18zM27 51h1v1H27zM18 53h1v1H18zM2 56h1v1H2zM10 56h1v1H10zM20 56h1v1H20zM18 58h1v1H18zM17 59h1v1H17zM23 59h1v1H23z"/><path fill="#86ff00" d="M2 4h1v1H2zM5 4h1v1H5zM5 6h1v1H5zM7 6h1v1H7zM2 9h1v1H2zM11 12h1v1H11zM8 15h1v1H8zM15 19h1v1H15zM1 21h2v1H1zM3 22h1v1H3zM6 23h1v1H6zM23 23h1v1H23zM20 26h1v1H20zM27 27h1v1H27zM0 28h1v1H0zM26 28h1v1H26zM17 30h1v1H17zM1 35h1v1H1zM20 37h1v1H20zM25 39h1v1H25zM27 40h1v1H27zM20 42h1v1H20zM24 44h1v1H24zM23 45h1v1H23zM24 47h1v1H24zM1 48h1v1H1zM19 49h1v1H19zM24 49h1v1H24zM8 52h1v1H8zM5 53h1v1H5zM15 53h1v1H15zM4 54h1v1H4zM12 54h1v1H12zM22 54h1v1H22zM7 55h1v1H7zM26 55h1v1H26zM19 57h1v1H19z"/><path fill="#91ff00" d="M5 1h1v1H5zM11 3h1v1H11zM7 5h1v1H7zM11 5h1v1H11zM18 9h1v1H18zM20 11h1v1H20zM14 12h1v1H14zM17 14h1v1H17zM0 17h1v1H0zM7 18h1v1H7zM2 19h1v1H2zM1 23h1v1H1zM1 25h1v1H1zM22 25h1v1H22zM25 28h1v1H25zM3 29h1v1H3zM18 30h1v1H18zM22 30h1v1H22zM0 32h1v1H0zM2 34h1v1H2zM25 34h1v1H25zM27 37h1v1H27zM19 39h1v1H19zM5 40h2v1H5zM20 45h1v1H20zM7 46h1v1H7zM24 48h1v1H24zM17 49h1v1H17zM27 50h1v1H27zM25 52h1v1H25zM18 55h1v1H18zM19 56h1v1H19zM2 59h1v1H2zM24 59h1v1H24z"/><path fill="#9dff00" d="M12 2h1v1H12zM0 4h1v1H0zM0 6h1v1H0zM1 7h1v1H1zM10 7h1v1H10zM17 10h1v1H17zM2 11h1v1H2zM0 14h1v1H0zM1 19h1v1H1zM3 24h1v1H3zM3 25h1v1H3zM6 32h1v1H6zM4 35h1v1H4zM22 35h1v1H22zM16 36h1v1H16zM18 36h1v1H18zM21 38h1v1H21zM6 39h1v1H6zM25 44h1v1H25zM22 46h1v1H22zM26 46h1v1H26zM4 47h1v1H4zM17 47h1v1H17zM22 47h1v1H22zM27 47h1v1H27zM6 48h1v1H6zM20 48h1v1H20zM5 50h1v1H5zM14 51h1v1H14zM20 53h2v1H20zM18 54h1v1H18zM22 56h1v1H22zM17 58h1v1H17zM20 58h1v1H20zM19 59h1v1H19z"/><path fill="#a8ff00" d="M6 4h1v1H6zM11 7h1v1H11zM6 9h1v1H6zM9 9h1v1H9zM9 13h1v1H9zM9 14h1v1H9zM5 20h1v1H5zM14 26h1v1H14zM6 28h1v1H6zM5 31h1v1H5zM5 33h1v1H5zM21 39h1v1H21zM19 40h1v1H19zM27 45h1v1H27zM27 46h1v1H27zM5 49h2v1H5zM5 51h1v1H5zM3 52h1v1H3zM3 53h1v1H3zM16 53h1v1H16zM5 54h1v1H5zM15 54h2v1H15zM4 56h2v1H4zM0 57h1v1H0z"/><path fill="#b4ff00" d="M10 1h1v1H10zM3 3h1v1H3zM10 4h1v1H10zM4 5h1v1H4zM9 10h1v1H9zM15 11h1v1H15zM4 14h1v1H4zM1 16h1v1H1zM6 22h1v1H6zM4 26h1v1H4zM2 28h1v1H2zM10 28h1v1H10zM20 32h1v1H20zM23 32h1v1H23zM18 33h1v1H18zM0 34h1v1H0zM5 34h1v1H5zM1 36h1v1H1zM16 38h1v1H16zM4 40h1v1H4zM5 41h1v1H5zM21 41h1v1H21zM19 42h1v1H19zM18 45h1v1H18zM2 47h1v1H2zM25 47h1v1H25zM16 49h1v1H16zM21 50h1v1H21zM22 51h1v1H22zM18 52h1v1H18zM20 52h1v1H20zM22 57h1v1H22zM27 57h1v1H27zM2 58h1v1H2z"/><path fill="#bfff00" d="M1 2h1v1H1zM2 6h1v1H2zM13 7h1v1H13zM3 13h1v1H3zM8 13h1v1H8zM25 14h1v1H25zM7 17h1v1H7zM19 19h1v1H19zM4 21h1v1H4zM19 24h1v1H19zM22 28h1v1H22zM0 29h1v1H0zM19 33h1v1H19zM19 34h1v1H19zM23 34h1v1H23zM10 36h1v1H10zM9 37h1v1H9zM0 40h1v1H0zM20 41h1v1H20zM25 42h1v1H25zM21 43h1v1H21zM0 45h1v1H0zM18 47h1v1H18zM3 50h1v1H3zM19 50h1v1H19zM21 54h1v1H21zM17 57h1v1H17zM18 59h1v1H18z"/><path fill="#cbff00" d="M3 7h1v1H3zM6 7h1v1H6zM7 8h1v1H7zM9 8h1v1H9zM0 10h1v1H0zM5 11h1v1H5zM8 11h1v1H8zM0 12h1v1H0zM20 12h1v1H20zM6 14h1v1H6zM12 15h1v1H12zM18 35h1v1H18zM20 35h1v1H20zM2 36h1v1H2zM18 37h1v1H18zM26 37h1v1H26zM2 40h1v1H2zM26 40h1v1H26zM20 43h1v1H20zM4 45h1v1H4zM27 48h1v1H27zM2 49h1v1H2zM2 50h1v1H2zM19 52h1v1H19zM25 54h1v1H25zM21 57h1v1H21zM26 58h2v1H26z"/><path fill="#d6ff00" d="M0 8h1v1H0zM26 8h1v1H26zM25 12h1v1H25zM4 13h1v1H4zM12 31h1v1H12zM21 32h1v1H21zM20 34h1v1H20zM21 35h1v1H21zM23 36h1v1H23zM13 37h1v1H13zM26 39h1v1H26zM17 41h1v1H17zM16 42h1v1H16zM9 45h2v1H9zM24 50h1v1H24zM24 53h1v1H24zM27 53h1v1H27z"/><path fill="#e2ff00" d="M26 0h1v1H26zM1 1h1v1H1zM4 6h1v1H4zM17 6h1v1H17zM5 7h1v1H5zM5 9h1v1H5zM4 10h1v1H4zM23 10h1v1H23zM12 33h1v1H12zM20 36h1v1H20zM14 38h1v1H14zM1 39h1v1H1zM11 39h1v1H11zM22 39h1v1H22zM23 41h1v1H23zM1 42h1v1H1zM12 42h1v1H12zM27 42h1v1H27zM23 46h1v1H23zM23 47h1v1H23zM26 48h1v1H26zM3 49h1v1H3zM23 50h1v1H23zM12 51h1v1H12zM17 53h1v1H17zM19 54h1v1H19zM27 56h1v1H27z"/><path fill="#fffc04" d="M3 2h3v1H3zM2 3h1v1H2zM23 3h1v1H23zM1 5h1v1H1zM9 5h1v1H9zM24 5h1v1H24zM3 6h1v1H3zM1 11h1v1H1zM19 13h1v1H19zM13 22h1v1H13zM21 23h1v1H21zM19 25h1v1H19zM18 38h1v1H18zM21 40h1v1H21zM1 43h1v1H1zM11 43h1v1H11zM1 44h1v1H1zM25 45h1v1H25zM0 46h1v1H0zM0 52h1v1H0zM14 52h1v1H14zM17 52h1v1H17zM2 53h1v1H2zM12 55h1v1H12zM25 55h1v1H25zM26 56h1v1H26zM23 57h2v1H23z"/><path fill="#fff90b" d="M7 4h1v1H7zM17 4h1v1H17zM17 5h1v1H17zM5 8h1v1H5zM23 21h1v1H23zM19 41h1v1H19zM27 44h1v1H27zM21 46h1v1H21zM19 47h1v1H19zM18 48h1v1H18zM21 49h1v1H21zM21 52h1v1H21zM20 54h1v1H20zM24 55h1v1H24zM21 58h1v1H21zM16 59h1v1H16z"/><path fill="#fff612" d="M4 8h1v1H4zM16 8h1v1H16zM17 18h1v1H17zM9 20h1v1H9zM8 30h1v1H8zM24 45h1v1H24zM23 52h1v1H23z"/><path fill="#fff219" d="M7 3h1v1H7zM9 16h1v1H9zM20 27h1v1H20zM19 46h1v1H19zM7 47h1v1H7zM12 49h1v1H12zM25 50h1v1H25zM18 56h1v1H18zM14 57h1v1H14z"/><path fill="#ffef1f" d="M3 4h1v1H3zM0 5h1v1H0zM12 18h1v1H12zM0 26h1v1H0zM25 32h1v1H25zM6 38h2v1H6zM24 43h1v1H24zM18 44h1v1H18zM20 46h1v1H20zM21 48h1v1H21zM23 55h1v1H23zM20 57h1v1H20z"/><path fill="#ffed26" d="M6 0h1v1H6zM19 2h1v1H19zM8 22h1v1H8zM11 26h1v1H11zM10 32h1v1H10zM10 33h1v1H10zM3 35h1v1H3zM11 35h1v1H11zM14 47h1v1H14z"/><path fill="#ffea2d" d="M9 0h1v1H9zM13 9h1v1H13zM24 15h1v1H24zM1 26h1v1H1zM5 29h1v1H5zM21 42h1v1H21zM23 54h1v1H23z"/><path fill="#ffe833" d="M5 5h1v1H5zM27 19h1v1H27zM17 26h1v1H17zM20 28h1v1H20zM20 30h1v1H20zM5 32h1v1H5zM19 43h1v1H19zM22 44h1v1H22zM21 59h2v1H21z"/><path fill="#ffe53a" d="M15 1h1v1H15zM5 17h1v1H5zM15 31h1v1H15zM19 35h1v1H19zM19 48h1v1H19zM5 52h1v1H5z"/><path fill="#ffe341" d="M14 1h1v1H14zM0 3h1v1H0zM1 6h1v1H1zM24 13h1v1H24zM2 17h1v1H2zM6 17h1v1H6zM20 31h1v1H20zM10 46h1v1H10z"/><path fill="#ffe247" d="M4 0h1v1H4zM11 17h1v1H11zM2 45h1v1H2zM3 58h1v1H3z"/><path fill="#ffe04e" d="M22 2h1v1H22zM6 18h1v1H6zM8 34h1v1H8zM24 40h1v1H24zM15 52h1v1H15z"/><path fill="#ffdf55" d="M27 3h1v1H27zM13 45h1v1H13zM4 51h1v1H4zM27 52h1v1H27zM0 53h1v1H0z"/><path fill="#ffdd5b" d="M10 20h1v1H10zM2 42h1v1H2zM16 56h1v1H16z"/><path fill="#ffdc62" d="M19 10h1v1H19zM10 18h1v1H10zM7 58h1v1H7z"/><path fill="#ffdc69" d="M8 0h1v1H8zM8 7h1v1H8zM7 11h1v1H7zM0 13h1v1H0zM22 36h1v1H22zM2 37h1v1H2zM23 38h1v1H23zM18 41h1v1H18zM16 43h1v1H16zM2 46h1v1H2zM25 48h1v1H25z"/><path fill="#ffdb70" d="M7 2h1v1H7z"/><path fill="#ffdb76" d="M7 0h1v1H7zM18 32h1v1H18z"/><path fill="#ffdb7d" d="M12 16h1v1H12zM5 26h1v1H5zM20 29h1v1H20zM5 42h1v1H5zM19 44h1v1H19zM0 58h1v1H0z"/><path fill="#ffdb84" d="M7 24h1v1H7zM5 35h1v1H5zM18 40h1v1H18zM0 43h1v1H0zM25 46h1v1H25zM2 52h1v1H2z"/><path fill="#ffdb91" d="M2 0h1v1H2zM0 22h1v1H0zM22 48h1v1H22z"/><path fill="#ffdc98" d="M5 0h1v1H5zM21 28h1v1H21zM25 35h1v1H25zM18 57h1v1H18z"/><path fill="#ffdd9e" d="M5 21h1v1H5zM4 33h1v1H4z"/><path fill="#ffdea5" d="M23 31h1v1H23z"/><path fill="#ffdfac" d="M0 0h1v1H0zM3 0h1v1H3zM2 1h1v1H2zM9 3h1v1H9zM1 4h1v1H1zM4 4h1v1H4zM2 5h2v1H2zM9 6h1v1H9zM1 14h1v1H1zM3 15h1v1H3zM2 32h1v1H2zM22 33h1v1H22zM19 38h1v1H19zM25 38h1v1H25zM3 40h1v1H3zM20 47h2v1H20zM23 48h1v1H23zM0 49h1v1H0zM27 49h1v1H27zM21 51h1v1H21zM24 51h1v1H24zM4 52h1v1H4zM24 52h1v1H24zM22 53h2v1H22zM25 53h1v1H25zM1 54h1v1H1zM22 55h1v1H22zM23 56h1v1H23zM25 57h1v1H25zM22 58h1v1H22zM1 59h1v1H1zM3 59h1v1H3zM25 59h1v1H25z"/><path fill="#ffffff" d="M1 0h1v1H1zM6 2h1v1H6zM24 3h1v1H24zM10 6h1v1H10zM20 8h1v1H20zM8 10h1v1H8zM26 12h1v1H26zM11 13h1v1H11zM22 13h1v1H22zM3 14h1v1H3zM24 18h1v1H24zM9 24h1v1H9zM13 24h1v1H13zM25 24h1v1H25zM23 26h1v1H23zM19 28h1v1H19zM14 30h1v1H14zM20 40h1v1H20zM25 41h1v1H25zM25 43h1v1H25zM22 45h1v1H22zM17 51h1v1H17zM4 57h1v1H4zM6 58h1v1H6z"/></svg>
<text class="tt" x="540.1600000000001" y="21.1">t = 117</text>
<text class="tk" x="537.66" y="151.86" text-anchor="end">1</text>
<text class="tk" x="537.66" y="141.49" text-anchor="end">6</text>
<text class="tk" x="537.66" y="131.12" text-anchor="end">11</text>
<text class="tk" x="537.66" y="120.75" text-anchor="end">16</text>
<text class="tk" x="537.66" y="110.38" text-anchor="end">21</text>
<text class="tk" x="537.66" y="100.01" text-anchor="end">26</text>
<text class="tk" x="537.66" y="89.64" text-anchor="end">31</text>
<text class="tk" x="537.66" y="79.27" text-anchor="end">36</text>
<text class="tk" x="537.66" y="68.90" text-anchor="end">41</text>
<text class="tk" x="537.66" y="58.53" text-anchor="end">46</text>
<text class="tk" x="537.66" y="48.15" text-anchor="end">51</text>
<text class="tk" x="537.66" y="37.78" text-anchor="end">56</text>
<text class="tk" x="542.52" y="157.80" text-anchor="middle">1</text>
<text class="tk" x="554.86" y="157.80" text-anchor="middle">4</text>
<text class="tk" x="567.20" y="157.80" text-anchor="middle">7</text>
<text class="tk" x="579.55" y="157.80" text-anchor="middle">10</text>
<text class="tk" x="591.89" y="157.80" text-anchor="middle">13</text>
<text class="tk" x="604.23" y="157.80" text-anchor="middle">16</text>
<text class="tk" x="616.57" y="157.80" text-anchor="middle">19</text>
<text class="tk" x="628.92" y="157.80" text-anchor="middle">22</text>
<text class="tk" x="641.26" y="157.80" text-anchor="middle">25</text>
<text class="tk" x="653.60" y="157.80" text-anchor="middle">28</text>
<path d="M538.26 149.41H540.46M538.26 139.04H540.46M538.26 128.67H540.46M538.26 118.30H540.46M538.26 107.93H540.46M538.26 97.56H540.46M538.26 87.19H540.46M538.26 76.82H540.46M538.26 66.45H540.46M538.26 56.08H540.46M538.26 45.70H540.46M538.26 35.33H540.46M542.52 150.45V152.65M554.86 150.45V152.65M567.20 150.45V152.65M579.55 150.45V152.65M591.89 150.45V152.65M604.23 150.45V152.65M616.57 150.45V152.65M628.92 150.45V152.65M641.26 150.45V152.65M653.60 150.45V152.65" stroke="#333" stroke-width="0.75" fill="none"/>
<text class="at" x="598.06" y="167.50" text-anchor="middle">Column</text>
<text class="at" x="0" y="0" text-anchor="middle" transform="translate(526.56,88.22) rotate(-90)">Row</text>
<rect x="663.21" y="40.90" width="3.6" height="103.90" fill="url(#cb)"/>
<text class="cl" x="670.16" y="63.55">0.10</text>
<text class="cl" x="670.16" y="74.55">0.09</text>
<text class="cl" x="670.16" y="96.15">0.07</text>
<text class="cl" x="670.16" y="117.95">0.05</text>
<text class="cl" x="670.16" y="128.95">0.04</text>
<text class="hd" x="343.9" y="184.3" text-anchor="middle">(b) Spatially corrected data</text>
<svg x="22.15" y="200.0" width="115.2" height="124.45" viewBox="0 0 28 60" preserveAspectRatio="none"><rect width="28" height="60" fill="#00ff35"/><path fill="#4c00ff" d="M5 3h1v1H5zM2 12h1v1H2zM15 17h1v1H15zM7 28h1v1H7zM4 37h1v1H4zM6 42h1v1H6zM3 48h1v1H3z"/><path fill="#4100ff" d="M25 58h1v1H25z"/><path fill="#0800ff" d="M9 1h1v1H9zM0 24h1v1H0zM12 24h1v1H12zM8 25h1v1H8zM20 25h1v1H20zM12 32h1v1H12zM7 34h1v1H7zM18 34h1v1H18zM24 34h1v1H24zM26 36h1v1H26z"/><path fill="#0004ff" d="M8 2h1v1H8zM8 3h1v1H8zM1 10h1v1H1zM25 16h1v1H25zM10 23h1v1H10zM27 24h1v1H27zM1 29h1v1H1zM26 29h1v1H26zM24 30h1v1H24z"/><path fill="#000fff" d="M6 1h1v1H6zM20 3h1v1H20zM2 7h1v1H2zM16 11h1v1H16zM5 16h1v1H5zM27 21h1v1H27zM1 24h1v1H1zM10 29h1v1H10zM13 44h1v1H13zM26 44h1v1H26zM20 49h1v1H20zM4 50h1v1H4zM3 57h1v1H3zM23 58h1v1H23z"/><path fill="#001bff" d="M5 23h1v1H5zM11 31h1v1H11zM27 36h1v1H27zM14 41h1v1H14zM22 52h1v1H22z"/><path fill="#003dff" d="M18 2h1v1H18zM12 3h1v1H12zM11 9h1v1H11zM12 14h1v1H12zM23 17h1v1H23zM26 19h1v1H26zM1 20h1v1H1zM22 20h1v1H22zM18 23h1v1H18zM27 23h1v1H27zM15 26h1v1H15zM21 26h1v1H21zM7 27h1v1H7zM11 30h1v1H11zM4 31h1v1H4zM21 31h1v1H21zM3 34h1v1H3zM0 36h1v1H0zM24 38h1v1H24zM24 39h1v1H24zM9 40h1v1H9zM18 42h1v1H18zM22 42h1v1H22zM24 42h1v1H24zM3 44h1v1H3zM2 48h1v1H2zM26 49h1v1H26zM26 50h1v1H26zM16 51h1v1H16zM6 52h1v1H6zM11 52h1v1H11zM26 52h1v1H26zM19 53h1v1H19zM2 55h1v1H2zM13 55h1v1H13zM25 56h1v1H25zM16 58h1v1H16z"/><path fill="#0049ff" d="M25 5h1v1H25zM15 6h1v1H15zM19 7h1v1H19zM3 9h1v1H3zM7 10h1v1H7zM17 12h1v1H17zM21 12h1v1H21zM18 15h1v1H18zM5 18h1v1H5zM2 20h1v1H2zM14 21h1v1H14zM22 22h1v1H22zM24 22h1v1H24zM4 27h1v1H4zM24 28h1v1H24zM2 31h1v1H2zM4 34h1v1H4zM6 35h1v1H6zM13 36h1v1H13zM15 36h1v1H15zM27 39h1v1H27zM3 41h1v1H3zM6 41h1v1H6zM18 43h1v1H18zM20 44h1v1H20zM26 47h1v1H26zM9 51h1v1H9zM6 53h1v1H6zM24 54h1v1H24zM5 55h1v1H5zM0 56h1v1H0zM1 57h1v1H1zM6 59h1v1H6z"/><path fill="#0054ff" d="M0 2h1v1H0zM17 2h1v1H17zM21 2h1v1H21zM1 3h1v1H1zM17 3h1v1H17zM12 6h1v1H12zM4 7h1v1H4zM3 8h1v1H3zM8 8h1v1H8zM25 9h1v1H25zM6 12h1v1H6zM15 13h1v1H15zM18 13h1v1H18zM18 14h2v1H18zM20 17h1v1H20zM14 20h1v1H14zM23 22h1v1H23zM11 24h1v1H11zM18 28h1v1H18zM24 29h1v1H24zM2 33h1v1H2zM23 33h1v1H23zM0 39h1v1H0zM9 39h1v1H9zM16 39h1v1H16zM23 39h1v1H23zM22 40h1v1H22zM9 43h1v1H9zM4 44h1v1H4zM14 45h1v1H14zM4 46h1v1H4zM16 46h1v1H16zM25 49h1v1H25zM6 50h1v1H6zM11 54h1v1H11zM27 59h1v1H27z"/><path fill="#0060ff" d="M13 14h1v1H13zM5 15h1v1H5zM17 24h1v1H17zM5 43h1v1H5zM22 43h1v1H22zM5 46h1v1H5zM11 56h1v1H11z"/><path fill="#0077ff" d="M24 0h1v1H24zM4 1h1v1H4zM11 1h1v1H11zM14 3h2v1H14zM18 6h1v1H18zM22 7h1v1H22zM10 8h1v1H10zM10 11h1v1H10zM17 11h1v1H17zM1 12h1v1H1zM7 13h1v1H7zM19 17h1v1H19zM17 19h1v1H17zM25 30h1v1H25zM9 31h1v1H9zM3 32h1v1H3zM27 35h1v1H27zM3 36h1v1H3zM3 37h1v1H3zM20 38h1v1H20zM0 41h1v1H0zM22 41h1v1H22zM24 41h1v1H24zM15 43h1v1H15zM9 44h1v1H9zM21 45h1v1H21zM11 47h1v1H11zM8 48h1v1H8zM12 48h1v1H12zM27 54h1v1H27zM10 57h1v1H10zM20 59h1v1H20z"/><path fill="#0082ff" d="M11 0h2v1H11zM3 1h1v1H3zM22 1h1v1H22zM13 2h1v1H13zM4 3h1v1H4zM16 4h1v1H16zM26 6h1v1H26zM14 7h1v1H14zM6 8h1v1H6zM9 11h1v1H9zM21 11h1v1H21zM21 15h1v1H21zM7 16h1v1H7zM11 16h1v1H11zM3 17h2v1H3zM9 17h1v1H9zM14 17h1v1H14zM11 18h1v1H11zM0 19h1v1H0zM16 19h1v1H16zM22 19h1v1H22zM4 20h1v1H4zM6 20h1v1H6zM19 20h1v1H19zM23 20h1v1H23zM11 21h1v1H11zM25 21h1v1H25zM20 22h1v1H20zM7 23h1v1H7zM17 23h1v1H17zM7 25h1v1H7zM14 25h1v1H14zM2 26h1v1H2zM7 26h1v1H7zM10 26h1v1H10zM15 29h1v1H15zM12 30h1v1H12zM23 30h1v1H23zM7 36h1v1H7zM5 37h1v1H5zM8 38h1v1H8zM12 38h1v1H12zM17 39h1v1H17zM11 40h1v1H11zM25 40h1v1H25zM13 41h1v1H13zM17 45h1v1H17zM19 45h1v1H19zM1 46h1v1H1zM12 46h1v1H12zM17 46h1v1H17zM10 49h1v1H10zM22 49h1v1H22zM7 50h1v1H7zM16 50h1v1H16zM20 50h1v1H20zM15 51h1v1H15zM23 51h1v1H23zM8 53h1v1H8zM26 53h1v1H26zM21 55h1v1H21zM21 56h1v1H21zM15 58h1v1H15zM8 59h2v1H8z"/><path fill="#008eff" d="M0 1h1v1H0zM9 4h1v1H9zM26 4h1v1H26zM8 5h1v1H8zM13 5h2v1H13zM26 5h1v1H26zM8 6h1v1H8zM26 7h1v1H26zM2 8h1v1H2zM19 8h1v1H19zM27 8h1v1H27zM26 9h1v1H26zM3 10h1v1H3zM13 10h1v1H13zM18 10h1v1H18zM22 10h1v1H22zM4 11h1v1H4zM27 12h1v1H27zM1 13h1v1H1zM23 14h1v1H23zM1 15h1v1H1zM27 15h1v1H27zM3 16h2v1H3zM6 16h1v1H6zM1 17h1v1H1zM22 17h1v1H22zM0 18h1v1H0zM21 18h1v1H21zM6 19h1v1H6zM11 19h1v1H11zM0 21h1v1H0zM3 21h1v1H3zM2 22h1v1H2zM12 22h1v1H12zM19 22h1v1H19zM2 23h1v1H2zM23 24h1v1H23zM9 25h1v1H9zM21 25h1v1H21zM9 28h1v1H9zM14 28h1v1H14zM16 32h1v1H16zM9 33h1v1H9zM27 34h1v1H27zM16 35h1v1H16zM23 35h1v1H23zM24 36h1v1H24zM8 37h1v1H8zM12 37h1v1H12zM22 37h3v1H22zM2 38h1v1H2zM6 43h1v1H6zM3 45h1v1H3zM18 49h1v1H18zM15 50h1v1H15zM1 52h1v1H1zM26 54h1v1H26zM26 57h1v1H26zM8 58h1v1H8zM19 58h1v1H19zM10 59h1v1H10z"/><path fill="#0099ff" d="M16 0h1v1H16zM19 0h1v1H19zM27 0h1v1H27zM2 2h1v1H2zM15 5h1v1H15zM14 6h1v1H14zM17 9h1v1H17zM27 9h1v1H27zM9 12h2v1H9zM24 14h1v1H24zM23 15h1v1H23zM24 16h1v1H24zM12 17h2v1H12zM8 19h1v1H8zM12 20h1v1H12zM6 24h1v1H6zM24 24h1v1H24zM22 27h1v1H22zM2 35h1v1H2zM14 35h1v1H14zM15 38h1v1H15zM26 41h1v1H26zM13 42h1v1H13zM10 47h1v1H10zM8 50h1v1H8zM22 50h1v1H22zM2 51h1v1H2zM19 51h2v1H19zM4 53h1v1H4zM0 54h1v1H0zM16 55h2v1H16zM20 55h1v1H20zM27 55h1v1H27zM12 56h1v1H12z"/><path fill="#00d2ff" d="M6 0h1v1H6zM23 0h1v1H23zM24 1h1v1H24zM6 3h1v1H6zM2 4h1v1H2zM8 4h1v1H8zM6 5h1v1H6zM19 5h1v1H19zM6 6h1v1H6zM19 6h1v1H19zM24 6h1v1H24zM0 7h1v1H0zM9 7h1v1H9zM11 8h1v1H11zM4 9h1v1H4zM8 9h1v1H8zM2 10h1v1H2zM0 11h1v1H0zM3 12h1v1H3zM8 12h1v1H8zM16 12h1v1H16zM16 13h1v1H16zM2 15h1v1H2zM4 15h1v1H4zM11 15h1v1H11zM15 15h1v1H15zM22 16h1v1H22zM8 18h1v1H8zM27 18h1v1H27zM25 19h1v1H25zM15 20h1v1H15zM24 20h1v1H24zM8 21h1v1H8zM15 21h1v1H15zM26 21h1v1H26zM16 22h1v1H16zM4 23h1v1H4zM15 23h1v1H15zM19 23h1v1H19zM4 24h1v1H4zM8 24h1v1H8zM22 24h1v1H22zM19 26h1v1H19zM0 27h1v1H0zM9 29h1v1H9zM0 30h1v1H0zM9 30h1v1H9zM19 30h1v1H19zM26 30h1v1H26zM0 31h1v1H0zM3 31h1v1H3zM16 31h1v1H16zM18 31h1v1H18zM26 31h1v1H26zM19 32h1v1H19zM27 32h1v1H27zM11 33h1v1H11zM14 33h1v1H14zM1 34h1v1H1zM10 34h1v1H10zM12 34h1v1H12zM8 35h1v1H8zM4 36h1v1H4zM0 37h1v1H0zM6 37h1v1H6zM17 38h1v1H17zM22 38h1v1H22zM4 39h1v1H4zM14 39h1v1H14zM7 40h1v1H7zM15 40h1v1H15zM14 42h1v1H14zM3 43h1v1H3zM7 43h1v1H7zM8 44h1v1H8zM11 44h1v1H11zM16 44h1v1H16zM21 44h1v1H21zM5 45h1v1H5zM18 46h1v1H18zM24 46h1v1H24zM6 47h1v1H6zM0 48h1v1H0zM4 48h1v1H4zM15 49h1v1H15zM3 51h1v1H3zM7 52h1v1H7zM12 53h1v1H12zM8 54h1v1H8zM13 54h1v1H13zM17 54h1v1H17zM1 55h1v1H1zM8 55h1v1H8zM19 55h1v1H19zM17 56h1v1H17zM20 56h1v1H20zM24 56h1v1H24zM14 58h1v1H14zM0 59h1v1H0zM12 59h1v1H12zM15 59h1v1H15z"/><path fill="#00deff" d="M21 0h1v1H21zM18 1h1v1H18zM27 1h1v1H27zM11 2h1v1H11zM23 2h1v1H23zM27 2h1v1H27zM0 4h1v1H0zM5 4h1v1H5zM23 5h1v1H23zM5 6h1v1H5zM11 6h1v1H11zM22 6h1v1H22zM7 7h1v1H7zM16 7h1v1H16zM1 8h1v1H1zM22 8h1v1H22zM10 9h1v1H10zM12 9h1v1H12zM19 9h1v1H19zM24 9h1v1H24zM5 10h1v1H5zM10 10h2v1H10zM21 10h1v1H21zM13 11h1v1H13zM18 11h1v1H18zM25 11h1v1H25zM15 12h1v1H15zM18 12h2v1H18zM22 12h1v1H22zM5 13h2v1H5zM5 14h1v1H5zM10 14h1v1H10zM4 19h1v1H4zM20 19h2v1H20zM3 20h1v1H3zM11 20h1v1H11zM16 21h2v1H16zM1 22h1v1H1zM9 22h1v1H9zM11 22h1v1H11zM21 24h1v1H21zM11 25h1v1H11zM23 25h1v1H23zM25 25h1v1H25zM6 26h1v1H6zM25 26h2v1H25zM2 27h1v1H2zM19 27h1v1H19zM23 27h1v1H23zM26 27h1v1H26zM1 28h1v1H1zM3 28h2v1H3zM17 28h1v1H17zM8 29h1v1H8zM22 29h2v1H22zM7 30h1v1H7zM14 31h1v1H14zM19 31h1v1H19zM22 31h1v1H22zM13 32h1v1H13zM20 33h2v1H20zM17 35h1v1H17zM6 36h1v1H6zM25 36h1v1H25zM10 37h1v1H10zM14 37h1v1H14zM21 37h1v1H21zM3 38h1v1H3zM7 39h1v1H7zM15 39h1v1H15zM18 39h1v1H18zM1 40h1v1H1zM16 41h1v1H16zM0 42h1v1H0zM3 42h1v1H3zM10 42h1v1H10zM17 43h1v1H17zM0 44h1v1H0zM2 44h1v1H2zM23 44h1v1H23zM7 45h1v1H7zM6 46h1v1H6zM10 48h1v1H10zM15 48h1v1H15zM23 49h1v1H23zM18 50h1v1H18zM0 51h1v1H0zM18 51h1v1H18zM25 51h1v1H25zM10 52h1v1H10zM18 53h1v1H18zM7 54h1v1H7zM9 54h1v1H9zM22 54h1v1H22zM9 55h1v1H9zM6 56h2v1H6zM6 57h1v1H6zM1 58h1v1H1zM5 58h1v1H5zM11 58h1v1H11zM18 58h1v1H18zM23 59h1v1H23zM26 59h1v1H26z"/><path fill="#00ff49" d="M20 0h1v1H20zM5 1h1v1H5zM7 1h1v1H7zM12 1h1v1H12zM9 2h1v1H9zM24 2h1v1H24zM13 4h2v1H13zM21 4h1v1H21zM10 5h1v1H10zM18 5h1v1H18zM20 5h1v1H20zM20 6h2v1H20zM25 7h1v1H25zM13 8h1v1H13zM17 8h1v1H17zM0 9h2v1H0zM15 9h1v1H15zM6 10h1v1H6zM27 11h1v1H27zM12 12h1v1H12zM24 12h1v1H24zM10 13h1v1H10zM12 13h1v1H12zM20 13h1v1H20zM16 14h1v1H16zM27 14h1v1H27zM22 15h1v1H22zM4 18h1v1H4zM14 18h1v1H14zM18 18h1v1H18zM22 18h1v1H22zM26 18h1v1H26zM3 19h1v1H3zM14 19h1v1H14zM23 19h1v1H23zM21 21h1v1H21zM4 22h2v1H4zM7 22h1v1H7zM17 22h1v1H17zM9 23h1v1H9zM13 23h1v1H13zM16 23h1v1H16zM24 23h1v1H24zM5 25h1v1H5zM15 25h1v1H15zM24 25h1v1H24zM27 26h1v1H27zM1 27h1v1H1zM6 27h1v1H6zM10 27h1v1H10zM18 27h1v1H18zM23 28h1v1H23zM14 29h1v1H14zM16 29h1v1H16zM3 30h1v1H3zM13 30h1v1H13zM15 30h1v1H15zM1 31h1v1H1zM7 31h1v1H7zM10 31h1v1H10zM17 31h1v1H17zM4 32h1v1H4zM22 32h1v1H22zM1 33h1v1H1zM7 33h1v1H7zM27 33h1v1H27zM11 34h1v1H11zM26 34h1v1H26zM9 35h1v1H9zM24 35h1v1H24zM26 35h1v1H26zM5 36h1v1H5zM11 36h1v1H11zM17 36h1v1H17zM25 37h1v1H25zM10 38h1v1H10zM12 39h1v1H12zM10 40h1v1H10zM16 40h1v1H16zM23 40h1v1H23zM15 41h1v1H15zM23 42h1v1H23zM26 42h1v1H26zM2 43h1v1H2zM23 43h1v1H23zM17 44h1v1H17zM20 45h1v1H20zM23 45h1v1H23zM14 46h1v1H14zM1 47h1v1H1zM13 47h1v1H13zM17 48h1v1H17zM1 49h1v1H1zM9 49h1v1H9zM19 49h1v1H19zM1 50h1v1H1zM11 51h1v1H11zM16 52h1v1H16zM1 53h1v1H1zM9 53h1v1H9zM13 53h1v1H13zM21 53h1v1H21zM0 55h1v1H0zM3 55h1v1H3zM15 55h1v1H15zM1 56h1v1H1zM15 56h1v1H15zM19 56h1v1H19zM2 57h1v1H2zM7 57h1v1H7zM13 57h1v1H13zM19 57h1v1H19zM4 58h1v1H4zM24 58h1v1H24zM7 59h1v1H7zM14 59h1v1H14z"/><path fill="#00ff3d" d="M4 0h1v1H4zM10 0h1v1H10zM8 1h1v1H8zM25 1h2v1H25zM1 2h1v1H1zM15 2h1v1H15zM3 3h1v1H3zM10 3h1v1H10zM13 3h1v1H13zM21 3h1v1H21zM15 4h1v1H15zM20 4h1v1H20zM16 5h1v1H16zM0 6h1v1H0zM1 7h1v1H1zM15 7h1v1H15zM21 8h1v1H21zM25 8h1v1H25zM2 9h1v1H2zM7 9h1v1H7zM16 9h1v1H16zM22 9h1v1H22zM26 10h1v1H26zM3 11h1v1H3zM6 11h1v1H6zM4 12h2v1H4zM13 12h1v1H13zM17 13h1v1H17zM2 14h1v1H2zM8 14h1v1H8zM15 16h1v1H15zM17 16h1v1H17zM23 16h1v1H23zM8 17h1v1H8zM10 17h1v1H10zM21 17h1v1H21zM2 18h1v1H2zM16 18h1v1H16zM25 18h1v1H25zM5 19h1v1H5zM13 19h1v1H13zM6 21h1v1H6zM18 21h1v1H18zM0 23h1v1H0zM3 23h1v1H3zM14 23h1v1H14zM10 24h1v1H10zM18 24h1v1H18zM20 24h1v1H20zM16 25h1v1H16zM12 26h1v1H12zM8 27h1v1H8zM16 27h1v1H16zM5 28h1v1H5zM27 28h1v1H27zM2 29h1v1H2zM6 29h1v1H6zM17 29h1v1H17zM19 29h1v1H19zM4 30h1v1H4zM24 31h2v1H24zM6 33h1v1H6zM14 34h1v1H14zM16 34h1v1H16zM0 35h1v1H0zM7 35h1v1H7zM19 36h1v1H19zM21 36h1v1H21zM1 37h1v1H1zM19 37h1v1H19zM26 38h1v1H26zM2 39h1v1H2zM5 39h1v1H5zM10 39h1v1H10zM20 39h1v1H20zM17 40h1v1H17zM2 41h1v1H2zM27 41h1v1H27zM20 42h1v1H20zM4 43h1v1H4zM14 43h1v1H14zM26 43h2v1H26zM1 45h1v1H1zM26 45h1v1H26zM22 46h1v1H22zM5 47h1v1H5zM15 47h2v1H15zM22 47h1v1H22zM24 47h1v1H24zM7 48h1v1H7zM13 48h1v1H13zM16 48h1v1H16zM20 48h1v1H20zM13 49h1v1H13zM13 50h1v1H13zM17 50h1v1H17zM1 51h1v1H1zM13 51h1v1H13zM26 51h1v1H26zM9 52h1v1H9zM7 53h1v1H7zM20 53h1v1H20zM2 54h2v1H2zM6 54h1v1H6zM14 54h1v1H14zM6 55h1v1H6zM18 55h1v1H18zM3 56h1v1H3zM8 56h1v1H8zM22 56h1v1H22zM8 57h2v1H8zM15 57h2v1H15zM20 58h1v1H20zM17 59h1v1H17zM19 59h1v1H19z"/><path fill="#00ff32" d="M9 0h1v1H9zM13 0h1v1H13zM10 2h1v1H10zM18 3h1v1H18zM6 4h1v1H6zM23 4h1v1H23zM4 5h1v1H4zM7 5h1v1H7zM2 6h1v1H2zM7 6h1v1H7zM18 8h1v1H18zM20 9h1v1H20zM25 10h1v1H25zM27 10h1v1H27zM23 11h1v1H23zM7 12h1v1H7zM2 13h1v1H2zM21 13h1v1H21zM21 14h2v1H21zM6 15h2v1H6zM16 15h1v1H16zM25 15h1v1H25zM2 16h1v1H2zM20 16h1v1H20zM24 17h1v1H24zM27 17h1v1H27zM1 18h1v1H1zM19 18h1v1H19zM7 19h1v1H7zM18 19h1v1H18zM0 20h1v1H0zM8 20h1v1H8zM19 21h1v1H19zM12 23h1v1H12zM20 23h1v1H20zM2 24h1v1H2zM15 24h2v1H15zM3 26h1v1H3zM22 26h1v1H22zM3 27h1v1H3zM11 27h1v1H11zM13 27h1v1H13zM25 27h1v1H25zM12 28h1v1H12zM4 29h1v1H4zM7 29h1v1H7zM1 30h1v1H1zM6 31h1v1H6zM17 32h1v1H17zM24 32h1v1H24zM0 33h1v1H0zM17 33h1v1H17zM22 34h1v1H22zM9 36h1v1H9zM14 36h1v1H14zM7 37h1v1H7zM17 37h1v1H17zM0 38h2v1H0zM9 38h1v1H9zM1 41h1v1H1zM7 41h1v1H7zM11 41h1v1H11zM11 42h1v1H11zM17 42h1v1H17zM24 44h1v1H24zM8 45h1v1H8zM15 45h2v1H15zM3 46h1v1H3zM0 47h1v1H0zM3 47h1v1H3zM17 47h1v1H17zM24 48h1v1H24zM14 49h1v1H14zM17 49h1v1H17zM24 49h1v1H24zM0 50h1v1H0zM21 50h1v1H21zM8 51h1v1H8zM22 51h1v1H22zM27 51h1v1H27zM13 52h1v1H13zM18 52h1v1H18zM20 52h1v1H20zM10 53h1v1H10zM14 53h1v1H14zM18 54h1v1H18zM21 54h1v1H21zM4 55h1v1H4zM26 55h1v1H26zM2 56h1v1H2zM9 56h1v1H9zM11 57h2v1H11zM22 57h1v1H22zM17 58h1v1H17zM4 59h1v1H4zM11 59h1v1H11zM13 59h1v1H13zM24 59h1v1H24z"/><path fill="#00ff26" d="M14 0h2v1H14zM25 0h1v1H25zM1 1h1v1H1zM19 1h2v1H19zM26 2h1v1H26zM2 3h1v1H2zM19 3h1v1H19zM25 3h1v1H25zM11 4h1v1H11zM19 4h1v1H19zM25 4h1v1H25zM1 5h1v1H1zM23 6h1v1H23zM3 7h1v1H3zM14 8h1v1H14zM6 9h1v1H6zM2 11h1v1H2zM22 11h1v1H22zM13 13h2v1H13zM11 14h1v1H11zM14 14h1v1H14zM0 15h1v1H0zM9 15h1v1H9zM13 15h1v1H13zM0 16h1v1H0zM8 16h1v1H8zM14 16h1v1H14zM26 16h1v1H26zM17 17h1v1H17zM3 18h1v1H3zM20 18h1v1H20zM7 21h1v1H7zM14 22h1v1H14zM25 23h2v1H25zM0 25h1v1H0zM4 25h1v1H4zM6 25h1v1H6zM12 25h1v1H12zM17 25h1v1H17zM8 26h1v1H8zM24 26h1v1H24zM11 28h1v1H11zM13 28h1v1H13zM11 29h1v1H11zM2 30h1v1H2zM27 30h1v1H27zM1 32h1v1H1zM9 32h1v1H9zM26 32h1v1H26zM3 33h1v1H3zM13 33h1v1H13zM15 33h2v1H15zM26 33h1v1H26zM6 34h1v1H6zM13 34h1v1H13zM15 34h1v1H15zM21 34h1v1H21zM8 36h1v1H8zM15 37h1v1H15zM20 37h1v1H20zM21 38h1v1H21zM3 39h1v1H3zM19 39h1v1H19zM21 39h1v1H21zM19 40h1v1H19zM21 41h1v1H21zM4 42h1v1H4zM15 42h1v1H15zM19 42h1v1H19zM20 43h2v1H20zM10 44h1v1H10zM12 44h1v1H12zM25 44h1v1H25zM18 45h1v1H18zM15 46h1v1H15zM26 46h1v1H26zM18 47h1v1H18zM27 47h1v1H27zM1 48h1v1H1zM14 48h1v1H14zM19 50h1v1H19zM27 50h1v1H27zM6 51h1v1H6zM10 51h1v1H10zM19 52h1v1H19zM25 52h1v1H25zM11 55h1v1H11zM14 55h1v1H14zM5 57h1v1H5zM21 57h1v1H21zM2 59h1v1H2zM5 59h1v1H5zM18 59h1v1H18z"/><path fill="#00ff1b" d="M18 0h1v1H18zM22 0h1v1H22zM16 1h1v1H16zM23 1h1v1H23zM3 2h3v1H3zM14 2h1v1H14zM22 3h1v1H22zM12 5h1v1H12zM27 5h1v1H27zM3 6h2v1H3zM25 6h1v1H25zM27 6h1v1H27zM5 7h2v1H5zM17 7h1v1H17zM27 7h1v1H27zM0 8h1v1H0zM12 8h1v1H12zM23 8h1v1H23zM0 10h1v1H0zM20 10h1v1H20zM23 12h1v1H23zM0 14h1v1H0zM7 14h1v1H7zM26 14h1v1H26zM17 15h1v1H17zM20 15h1v1H20zM27 16h1v1H27zM0 17h1v1H0zM15 18h1v1H15zM9 19h2v1H9zM7 20h1v1H7zM16 20h2v1H16zM1 21h2v1H1zM21 22h1v1H21zM26 22h1v1H26zM5 24h1v1H5zM26 24h1v1H26zM2 25h1v1H2zM5 27h1v1H5zM21 27h1v1H21zM15 28h1v1H15zM12 29h1v1H12zM21 29h1v1H21zM27 29h1v1H27zM5 30h2v1H5zM16 30h1v1H16zM21 30h1v1H21zM13 31h1v1H13zM0 32h1v1H0zM8 32h1v1H8zM24 33h1v1H24zM9 34h1v1H9zM17 34h1v1H17zM1 35h1v1H1zM10 35h1v1H10zM12 35h1v1H12zM22 35h1v1H22zM12 36h1v1H12zM16 37h1v1H16zM4 38h1v1H4zM27 38h1v1H27zM25 39h1v1H25zM12 40h2v1H12zM27 40h1v1H27zM4 41h1v1H4zM8 41h1v1H8zM20 41h1v1H20zM7 42h1v1H7zM5 44h2v1H5zM14 44h2v1H14zM27 45h1v1H27zM8 46h1v1H8zM21 46h1v1H21zM23 46h1v1H23zM27 46h1v1H27zM8 47h1v1H8zM23 47h1v1H23zM25 47h1v1H25zM5 48h1v1H5zM9 48h1v1H9zM4 49h1v1H4zM8 49h1v1H8zM11 49h1v1H11zM21 49h1v1H21zM14 50h1v1H14zM23 50h2v1H23zM12 52h1v1H12zM21 52h1v1H21zM15 53h2v1H15zM4 54h1v1H4zM16 54h1v1H16zM19 54h1v1H19zM14 56h1v1H14zM0 57h1v1H0zM17 57h1v1H17zM27 57h1v1H27zM12 58h1v1H12zM21 58h1v1H21z"/><path fill="#00ff0f" d="M2 0h1v1H2zM17 1h1v1H17zM11 3h1v1H11zM26 3h1v1H26zM3 4h1v1H3zM12 4h1v1H12zM0 5h1v1H0zM23 7h1v1H23zM7 8h1v1H7zM5 9h1v1H5zM9 9h1v1H9zM23 9h1v1H23zM4 10h1v1H4zM14 10h1v1H14zM24 10h1v1H24zM5 11h1v1H5zM11 11h1v1H11zM14 11h1v1H14zM24 11h1v1H24zM0 12h1v1H0zM23 13h1v1H23zM25 13h2v1H25zM4 14h1v1H4zM8 15h1v1H8zM10 15h1v1H10zM26 15h1v1H26zM10 16h1v1H10zM13 16h1v1H13zM21 16h1v1H21zM18 17h1v1H18zM7 18h1v1H7zM9 18h1v1H9zM13 18h1v1H13zM1 19h2v1H1zM12 19h1v1H12zM18 20h1v1H18zM9 21h2v1H9zM13 21h1v1H13zM3 22h1v1H3zM18 22h1v1H18zM25 22h1v1H25zM27 22h1v1H27zM1 23h1v1H1zM6 23h1v1H6zM8 23h1v1H8zM22 23h1v1H22zM1 25h1v1H1zM13 25h1v1H13zM18 25h1v1H18zM9 26h1v1H9zM9 27h1v1H9zM12 27h1v1H12zM17 27h1v1H17zM24 27h1v1H24zM0 28h1v1H0zM3 29h1v1H3zM18 29h1v1H18zM25 29h1v1H25zM22 30h1v1H22zM8 31h1v1H8zM14 32h1v1H14zM25 33h1v1H25zM2 34h1v1H2zM18 36h1v1H18zM27 37h1v1H27zM5 38h1v1H5zM13 38h1v1H13zM22 39h1v1H22zM0 40h1v1H0zM8 40h1v1H8zM21 40h1v1H21zM10 41h1v1H10zM25 42h1v1H25zM8 43h1v1H8zM7 44h1v1H7zM0 45h1v1H0zM6 45h1v1H6zM12 45h1v1H12zM13 46h1v1H13zM2 47h1v1H2zM4 47h1v1H4zM12 47h1v1H12zM19 47h1v1H19zM18 48h1v1H18zM27 48h1v1H27zM7 49h1v1H7zM16 49h1v1H16zM9 50h3v1H9zM3 52h1v1H3zM3 53h1v1H3zM5 53h1v1H5zM11 53h1v1H11zM17 53h1v1H17zM24 53h1v1H24zM20 54h1v1H20zM25 54h1v1H25zM4 56h1v1H4zM13 56h1v1H13zM23 57h2v1H23zM2 58h1v1H2zM9 58h2v1H9zM26 58h2v1H26z"/><path fill="#00ff04" d="M5 0h1v1H5zM7 0h2v1H7zM17 0h1v1H17zM10 1h1v1H10zM21 1h1v1H21zM16 2h1v1H16zM7 4h1v1H7zM10 4h1v1H10zM11 5h1v1H11zM22 5h1v1H22zM13 6h1v1H13zM10 7h1v1H10zM12 7h1v1H12zM18 7h1v1H18zM20 7h2v1H20zM4 8h2v1H4zM24 8h1v1H24zM12 10h1v1H12zM1 11h1v1H1zM3 13h2v1H3zM27 13h1v1H27zM15 14h1v1H15zM1 16h1v1H1zM16 16h1v1H16zM18 16h2v1H18zM25 17h2v1H25zM5 20h1v1H5zM25 20h1v1H25zM12 21h1v1H12zM24 21h1v1H24zM10 22h1v1H10zM15 22h1v1H15zM11 23h1v1H11zM3 24h1v1H3zM14 24h1v1H14zM3 25h1v1H3zM10 25h1v1H10zM26 25h1v1H26zM16 26h1v1H16zM18 26h1v1H18zM20 26h1v1H20zM13 29h1v1H13zM27 31h1v1H27zM7 32h1v1H7zM15 32h1v1H15zM20 32h1v1H20zM23 32h1v1H23zM0 34h1v1H0zM23 34h1v1H23zM25 34h1v1H25zM4 35h1v1H4zM20 35h1v1H20zM1 36h1v1H1zM11 37h1v1H11zM18 37h1v1H18zM8 39h1v1H8zM2 40h1v1H2zM5 40h2v1H5zM12 41h1v1H12zM17 41h1v1H17zM19 41h1v1H19zM23 41h1v1H23zM9 42h1v1H9zM12 43h2v1H12zM24 45h2v1H24zM9 46h1v1H9zM11 46h1v1H11zM19 46h2v1H19zM21 48h1v1H21zM26 48h1v1H26zM2 49h1v1H2zM5 49h1v1H5zM2 50h2v1H2zM5 50h1v1H5zM12 50h1v1H12zM5 51h1v1H5zM7 51h1v1H7zM17 52h1v1H17zM23 52h1v1H23zM27 53h1v1H27zM5 54h1v1H5zM10 54h1v1H10zM15 54h1v1H15zM7 55h1v1H7zM10 55h1v1H10zM23 55h3v1H23zM5 56h1v1H5zM18 56h1v1H18zM27 56h1v1H27zM20 57h1v1H20zM13 58h1v1H13z"/><path fill="#08ff00" d="M13 1h1v1H13zM12 2h1v1H12zM20 2h1v1H20zM25 2h1v1H25zM0 3h1v1H0zM7 3h1v1H7zM16 3h1v1H16zM18 4h1v1H18zM22 4h1v1H22zM27 4h1v1H27zM5 5h1v1H5zM9 5h1v1H9zM21 5h1v1H21zM1 6h1v1H1zM16 6h1v1H16zM11 7h1v1H11zM24 7h1v1H24zM9 8h1v1H9zM15 8h1v1H15zM14 9h1v1H14zM21 9h1v1H21zM9 10h1v1H9zM16 10h1v1H16zM8 11h1v1H8zM26 11h1v1H26zM11 12h1v1H11zM9 13h1v1H9zM6 14h1v1H6zM9 14h1v1H9zM20 14h1v1H20zM14 15h1v1H14zM16 17h1v1H16zM23 18h1v1H23zM24 19h1v1H24zM13 20h1v1H13zM20 20h2v1H20zM26 20h1v1H26zM4 21h1v1H4zM20 21h1v1H20zM22 21h1v1H22zM6 22h1v1H6zM23 23h1v1H23zM22 25h1v1H22zM27 25h1v1H27zM4 26h1v1H4zM14 27h2v1H14zM2 28h1v1H2zM6 28h1v1H6zM8 28h1v1H8zM25 28h2v1H25zM0 29h1v1H0zM10 30h1v1H10zM18 30h1v1H18zM5 31h1v1H5zM6 32h1v1H6zM11 32h1v1H11zM5 33h1v1H5zM8 33h1v1H8zM18 33h2v1H18zM19 34h2v1H19zM13 35h1v1H13zM15 35h1v1H15zM18 35h1v1H18zM21 35h1v1H21zM2 36h1v1H2zM16 36h1v1H16zM20 36h1v1H20zM23 36h1v1H23zM11 38h1v1H11zM16 38h1v1H16zM1 39h1v1H1zM6 39h1v1H6zM13 39h1v1H13zM4 40h1v1H4zM14 40h1v1H14zM26 40h1v1H26zM5 41h1v1H5zM9 41h1v1H9zM1 42h1v1H1zM8 42h1v1H8zM16 42h1v1H16zM21 42h1v1H21zM27 42h1v1H27zM1 43h1v1H1zM10 43h1v1H10zM1 44h1v1H1zM18 44h1v1H18zM22 44h1v1H22zM27 44h1v1H27zM0 46h1v1H0zM7 46h1v1H7zM9 47h1v1H9zM6 48h1v1H6zM11 48h1v1H11zM0 52h1v1H0zM8 52h1v1H8zM2 53h1v1H2zM23 54h1v1H23zM10 56h1v1H10zM26 56h1v1H26zM21 59h2v1H21z"/><path fill="#13ff00" d="M24 4h1v1H24zM15 10h1v1H15zM12 11h1v1H12zM19 11h1v1H19zM8 13h1v1H8zM7 17h1v1H7zM27 20h1v1H27zM13 26h1v1H13zM27 27h1v1H27zM16 28h1v1H16zM22 28h1v1H22zM17 30h1v1H17zM21 32h1v1H21zM5 34h1v1H5zM26 37h1v1H26zM18 38h1v1H18zM26 39h1v1H26zM19 43h1v1H19zM24 43h1v1H24zM4 45h1v1H4zM11 45h1v1H11zM19 48h1v1H19zM3 49h1v1H3zM6 49h1v1H6zM25 50h1v1H25zM14 51h1v1H14zM12 54h1v1H12zM16 59h1v1H16z"/><path fill="#41ff00" d="M13 7h1v1H13zM20 11h1v1H20zM19 15h1v1H19zM19 24h1v1H19zM0 26h1v1H0zM10 28h1v1H10zM3 35h1v1H3zM24 40h1v1H24zM19 44h1v1H19zM2 45h1v1H2zM22 48h1v1H22zM14 52h1v1H14zM27 52h1v1H27z"/><path fill="#4dff00" d="M3 0h1v1H3zM7 2h1v1H7zM14 12h1v1H14zM25 14h1v1H25zM5 17h1v1H5zM21 23h1v1H21zM1 26h1v1H1zM25 32h1v1H25zM19 35h1v1H19zM9 37h1v1H9zM18 41h1v1H18zM25 48h1v1H25zM12 51h1v1H12zM0 53h1v1H0zM3 58h1v1H3z"/><path fill="#58ff00" d="M26 0h1v1H26zM2 1h1v1H2zM26 8h1v1H26zM25 12h1v1H25zM9 16h1v1H9zM2 17h1v1H2zM6 17h1v1H6zM15 19h1v1H15zM9 20h1v1H9zM19 25h1v1H19zM20 27h1v1H20zM5 29h1v1H5zM20 30h1v1H20zM10 36h1v1H10zM22 36h1v1H22zM13 37h1v1H13zM6 38h1v1H6zM14 38h1v1H14zM23 38h1v1H23zM2 42h1v1H2zM12 42h1v1H12zM9 45h1v1H9zM2 46h1v1H2zM7 47h1v1H7zM5 52h1v1H5zM12 55h1v1H12zM16 56h1v1H16zM14 57h1v1H14zM18 57h1v1H18zM22 58h1v1H22z"/><path fill="#63ff00" d="M23 3h1v1H23zM24 5h1v1H24zM8 7h1v1H8zM18 9h1v1H18zM23 10h1v1H23zM0 13h1v1H0zM12 15h1v1H12zM6 18h1v1H6zM19 19h1v1H19zM23 21h1v1H23zM8 22h1v1H8zM14 26h1v1H14zM8 30h1v1H8zM20 31h1v1H20zM5 32h1v1H5zM11 43h1v1H11zM16 43h1v1H16zM10 45h1v1H10zM25 46h1v1H25zM14 47h1v1H14zM4 51h1v1H4zM21 51h1v1H21zM15 52h1v1H15zM22 55h1v1H22zM23 56h1v1H23zM0 58h1v1H0z"/><path fill="#6fff00" d="M1 4h1v1H1zM17 10h1v1H17zM7 11h1v1H7zM15 11h1v1H15zM20 12h1v1H20zM17 14h1v1H17zM20 28h1v1H20zM12 31h1v1H12zM2 37h1v1H2zM7 38h1v1H7zM11 39h1v1H11zM18 40h1v1H18zM0 43h1v1H0zM12 49h1v1H12z"/><path fill="#7aff00" d="M12 33h1v1H12zM2 52h1v1H2zM23 53h1v1H23z"/><path fill="#a8ff00" d="M17 6h1v1H17zM13 9h1v1H13zM19 13h1v1H19zM24 15h1v1H24zM12 18h1v1H12zM27 19h1v1H27zM0 22h1v1H0zM13 22h1v1H13zM5 26h1v1H5zM11 26h1v1H11zM10 32h1v1H10zM18 32h1v1H18zM10 33h1v1H10zM11 35h1v1H11zM5 42h1v1H5zM25 53h1v1H25zM7 58h1v1H7zM3 59h1v1H3z"/><path fill="#b4ff00" d="M14 1h1v1H14zM22 2h1v1H22zM9 3h1v1H9zM17 4h1v1H17zM17 5h1v1H17zM16 8h1v1H16zM11 17h1v1H11zM17 26h1v1H17zM20 29h1v1H20zM15 31h1v1H15zM22 33h1v1H22zM8 34h1v1H8zM5 35h1v1H5zM25 35h1v1H25zM25 38h1v1H25zM3 40h1v1H3zM13 45h1v1H13zM25 59h1v1H25z"/><path fill="#bfff00" d="M0 0h1v1H0zM15 1h1v1H15zM19 2h1v1H19zM4 4h1v1H4zM24 13h1v1H24zM1 14h1v1H1zM10 18h1v1H10zM17 18h1v1H17zM10 20h1v1H10zM5 21h1v1H5zM7 24h1v1H7zM21 28h1v1H21zM23 31h1v1H23zM2 32h1v1H2zM4 33h1v1H4zM19 38h1v1H19zM10 46h1v1H10zM20 47h1v1H20zM22 53h1v1H22zM1 54h1v1H1zM25 57h1v1H25z"/><path fill="#cbff00" d="M27 3h1v1H27zM1 59h1v1H1z"/><path fill="#fff219" d="M27 49h1v1H27zM24 52h1v1H24z"/><path fill="#ffef1f" d="M19 10h1v1H19zM0 49h1v1H0zM24 51h1v1H24zM4 52h1v1H4z"/><path fill="#ffed26" d="M2 5h1v1H2zM12 16h1v1H12zM21 47h1v1H21zM23 48h1v1H23z"/><path fill="#ffea2d" d="M3 5h1v1H3zM9 6h1v1H9zM3 15h1v1H3z"/><path fill="#ffffff" d="M1 0h1v1H1zM6 2h1v1H6zM24 3h1v1H24zM10 6h1v1H10zM20 8h1v1H20zM8 10h1v1H8zM26 12h1v1H26zM11 13h1v1H11zM22 13h1v1H22zM3 14h1v1H3zM24 18h1v1H24zM9 24h1v1H9zM13 24h1v1H13zM25 24h1v1H25zM23 26h1v1H23zM19 28h1v1H19zM14 30h1v1H14zM20 40h1v1H20zM25 41h1v1H25zM25 43h1v1H25zM22 45h1v1H22zM17 51h1v1H17zM4 57h1v1H4zM6 58h1v1H6z"/></svg>
<text class="tt" x="21.849999999999998" y="195.1">t = 108</text>
<text class="tk" x="19.35" y="325.86" text-anchor="end">1</text>
<text class="tk" x="19.35" y="315.49" text-anchor="end">6</text>
<text class="tk" x="19.35" y="305.12" text-anchor="end">11</text>
<text class="tk" x="19.35" y="294.75" text-anchor="end">16</text>
<text class="tk" x="19.35" y="284.38" text-anchor="end">21</text>
<text class="tk" x="19.35" y="274.01" text-anchor="end">26</text>
<text class="tk" x="19.35" y="263.64" text-anchor="end">31</text>
<text class="tk" x="19.35" y="253.27" text-anchor="end">36</text>
<text class="tk" x="19.35" y="242.90" text-anchor="end">41</text>
<text class="tk" x="19.35" y="232.53" text-anchor="end">46</text>
<text class="tk" x="19.35" y="222.15" text-anchor="end">51</text>
<text class="tk" x="19.35" y="211.78" text-anchor="end">56</text>
<text class="tk" x="24.21" y="331.80" text-anchor="middle">1</text>
<text class="tk" x="36.55" y="331.80" text-anchor="middle">4</text>
<text class="tk" x="48.89" y="331.80" text-anchor="middle">7</text>
<text class="tk" x="61.24" y="331.80" text-anchor="middle">10</text>
<text class="tk" x="73.58" y="331.80" text-anchor="middle">13</text>
<text class="tk" x="85.92" y="331.80" text-anchor="middle">16</text>
<text class="tk" x="98.26" y="331.80" text-anchor="middle">19</text>
<text class="tk" x="110.61" y="331.80" text-anchor="middle">22</text>
<text class="tk" x="122.95" y="331.80" text-anchor="middle">25</text>
<text class="tk" x="135.29" y="331.80" text-anchor="middle">28</text>
<path d="M19.95 323.41H22.15M19.95 313.04H22.15M19.95 302.67H22.15M19.95 292.30H22.15M19.95 281.93H22.15M19.95 271.56H22.15M19.95 261.19H22.15M19.95 250.82H22.15M19.95 240.45H22.15M19.95 230.08H22.15M19.95 219.70H22.15M19.95 209.33H22.15M24.21 324.45V326.65M36.55 324.45V326.65M48.89 324.45V326.65M61.24 324.45V326.65M73.58 324.45V326.65M85.92 324.45V326.65M98.26 324.45V326.65M110.61 324.45V326.65M122.95 324.45V326.65M135.29 324.45V326.65" stroke="#333" stroke-width="0.75" fill="none"/>
<text class="at" x="79.75" y="341.50" text-anchor="middle">Column</text>
<text class="at" x="0" y="0" text-anchor="middle" transform="translate(8.25,262.23) rotate(-90)">Row</text>
<rect x="144.90" y="215.51" width="3.6" height="103.90" fill="url(#cb)"/>
<text class="cl" x="151.85" y="227.45">0.02</text>
<text class="cl" x="151.85" y="288.75">0.01</text>
<svg x="194.92" y="200.0" width="115.2" height="124.45" viewBox="0 0 28 60" preserveAspectRatio="none"><rect width="28" height="60" fill="#07ff00"/><path fill="#2a00ff" d="M5 3h1v1H5zM15 17h1v1H15zM7 28h1v1H7zM4 37h1v1H4z"/><path fill="#1f00ff" d="M2 12h1v1H2zM6 42h1v1H6zM3 48h1v1H3z"/><path fill="#1300ff" d="M25 58h1v1H25z"/><path fill="#0026ff" d="M9 1h1v1H9zM0 24h1v1H0zM12 24h1v1H12zM8 25h1v1H8zM20 25h1v1H20zM12 32h1v1H12zM7 34h1v1H7zM18 34h1v1H18zM26 36h1v1H26z"/><path fill="#0032ff" d="M8 2h1v1H8zM8 3h1v1H8zM1 10h1v1H1zM25 16h1v1H25zM10 23h1v1H10zM27 24h1v1H27zM1 29h1v1H1zM26 29h1v1H26zM24 30h1v1H24zM24 34h1v1H24z"/><path fill="#003dff" d="M6 1h1v1H6zM20 3h1v1H20zM5 16h1v1H5zM27 21h1v1H27zM1 24h1v1H1zM10 29h1v1H10zM13 44h1v1H13zM26 44h1v1H26zM20 49h1v1H20zM3 57h1v1H3zM23 58h1v1H23z"/><path fill="#0049ff" d="M2 7h1v1H2zM16 11h1v1H16zM5 23h1v1H5zM11 31h1v1H11zM27 36h1v1H27zM14 41h1v1H14zM4 50h1v1H4zM22 52h1v1H22z"/><path fill="#006bff" d="M18 2h1v1H18zM12 3h1v1H12zM11 9h1v1H11zM12 14h1v1H12zM1 20h1v1H1zM22 20h1v1H22zM27 23h1v1H27zM15 26h1v1H15zM7 27h1v1H7zM4 31h1v1H4zM21 31h1v1H21zM0 36h1v1H0zM24 39h1v1H24zM22 42h1v1H22zM24 42h1v1H24zM3 44h1v1H3zM11 52h1v1H11z"/><path fill="#0077ff" d="M19 7h1v1H19zM3 9h1v1H3zM23 17h1v1H23zM5 18h1v1H5zM26 19h1v1H26zM2 20h1v1H2zM14 21h1v1H14zM22 22h1v1H22zM24 22h1v1H24zM18 23h1v1H18zM21 26h1v1H21zM4 27h1v1H4zM24 28h1v1H24zM11 30h1v1H11zM2 31h1v1H2zM3 34h1v1H3zM6 35h1v1H6zM13 36h1v1H13zM15 36h1v1H15zM24 38h1v1H24zM27 39h1v1H27zM9 40h1v1H9zM6 41h1v1H6zM18 42h1v1H18zM18 43h1v1H18zM26 47h1v1H26zM2 48h1v1H2zM26 49h1v1H26zM26 50h1v1H26zM9 51h1v1H9zM16 51h1v1H16zM6 52h1v1H6zM26 52h1v1H26zM6 53h1v1H6zM19 53h1v1H19zM24 54h1v1H24zM2 55h1v1H2zM5 55h1v1H5zM13 55h1v1H13zM0 56h1v1H0zM25 56h1v1H25zM16 58h1v1H16z"/><path fill="#0082ff" d="M17 2h1v1H17zM1 3h1v1H1zM17 3h1v1H17zM25 5h1v1H25zM15 6h1v1H15zM3 8h1v1H3zM25 9h1v1H25zM7 10h1v1H7zM6 12h1v1H6zM17 12h1v1H17zM21 12h1v1H21zM18 13h1v1H18zM18 14h2v1H18zM18 15h1v1H18zM14 20h1v1H14zM11 24h1v1H11zM24 29h1v1H24zM2 33h1v1H2zM4 34h1v1H4zM9 39h1v1H9zM16 39h1v1H16zM22 40h1v1H22zM3 41h1v1H3zM20 44h1v1H20zM14 45h1v1H14zM4 46h1v1H4zM16 46h1v1H16zM25 49h1v1H25zM6 50h1v1H6zM11 54h1v1H11zM1 57h1v1H1zM6 59h1v1H6zM27 59h1v1H27z"/><path fill="#008eff" d="M0 2h1v1H0zM21 2h1v1H21zM12 6h1v1H12zM4 7h1v1H4zM8 8h1v1H8zM15 13h1v1H15zM13 14h1v1H13zM5 15h1v1H5zM20 17h1v1H20zM23 22h1v1H23zM17 24h1v1H17zM18 28h1v1H18zM23 33h1v1H23zM0 39h1v1H0zM23 39h1v1H23zM5 43h1v1H5zM9 43h1v1H9zM22 43h1v1H22zM4 44h1v1H4zM5 46h1v1H5zM11 56h1v1H11z"/><path fill="#00b0ff" d="M11 0h2v1H11zM24 0h1v1H24zM3 1h2v1H3zM11 1h1v1H11zM13 2h1v1H13zM14 3h2v1H14zM16 4h1v1H16zM18 6h1v1H18zM26 6h1v1H26zM22 7h1v1H22zM10 8h1v1H10zM10 11h1v1H10zM17 11h1v1H17zM21 11h1v1H21zM1 12h1v1H1zM7 13h1v1H7zM21 15h1v1H21zM3 17h1v1H3zM19 17h1v1H19zM17 19h1v1H17zM22 19h1v1H22zM4 20h1v1H4zM6 20h1v1H6zM19 20h1v1H19zM7 23h1v1H7zM17 23h1v1H17zM2 26h1v1H2zM15 29h1v1H15zM12 30h1v1H12zM25 30h1v1H25zM9 31h1v1H9zM3 32h1v1H3zM27 35h1v1H27zM3 36h1v1H3zM7 36h1v1H7zM3 37h1v1H3zM5 37h1v1H5zM20 38h1v1H20zM0 41h1v1H0zM22 41h1v1H22zM24 41h1v1H24zM15 43h1v1H15zM9 44h1v1H9zM19 45h1v1H19zM21 45h1v1H21zM17 46h1v1H17zM11 47h1v1H11zM8 48h1v1H8zM12 48h1v1H12zM7 50h1v1H7zM23 51h1v1H23zM27 54h1v1H27zM10 57h1v1H10zM15 58h1v1H15zM8 59h1v1H8zM20 59h1v1H20z"/><path fill="#00bbff" d="M22 1h1v1H22zM4 3h1v1H4zM26 4h1v1H26zM8 5h1v1H8zM14 7h1v1H14zM26 7h1v1H26zM6 8h1v1H6zM27 8h1v1H27zM3 10h1v1H3zM4 11h1v1H4zM9 11h1v1H9zM27 12h1v1H27zM1 13h1v1H1zM7 16h1v1H7zM11 16h1v1H11zM1 17h1v1H1zM4 17h1v1H4zM9 17h1v1H9zM14 17h1v1H14zM22 17h1v1H22zM11 18h1v1H11zM0 19h1v1H0zM16 19h1v1H16zM23 20h1v1H23zM3 21h1v1H3zM11 21h1v1H11zM25 21h1v1H25zM12 22h1v1H12zM20 22h1v1H20zM23 24h1v1H23zM7 25h1v1H7zM14 25h1v1H14zM7 26h1v1H7zM10 26h1v1H10zM23 30h1v1H23zM9 33h1v1H9zM23 35h1v1H23zM8 37h1v1H8zM22 37h1v1H22zM8 38h1v1H8zM12 38h1v1H12zM17 39h1v1H17zM11 40h1v1H11zM25 40h1v1H25zM13 41h1v1H13zM17 45h1v1H17zM1 46h1v1H1zM12 46h1v1H12zM10 49h1v1H10zM22 49h1v1H22zM15 50h2v1H15zM20 50h1v1H20zM15 51h1v1H15zM1 52h1v1H1zM8 53h1v1H8zM26 53h1v1H26zM26 54h1v1H26zM21 55h1v1H21zM21 56h1v1H21zM19 58h1v1H19zM9 59h1v1H9z"/><path fill="#00c7ff" d="M0 1h1v1H0zM9 4h1v1H9zM13 5h2v1H13zM26 5h1v1H26zM8 6h1v1H8zM14 6h1v1H14zM2 8h1v1H2zM19 8h1v1H19zM17 9h1v1H17zM26 9h2v1H26zM13 10h1v1H13zM18 10h1v1H18zM22 10h1v1H22zM10 12h1v1H10zM23 14h2v1H23zM1 15h1v1H1zM23 15h1v1H23zM27 15h1v1H27zM3 16h2v1H3zM6 16h1v1H6zM24 16h1v1H24zM13 17h1v1H13zM0 18h1v1H0zM21 18h1v1H21zM6 19h1v1H6zM11 19h1v1H11zM0 21h1v1H0zM2 22h1v1H2zM19 22h1v1H19zM2 23h1v1H2zM6 24h1v1H6zM9 25h1v1H9zM21 25h1v1H21zM9 28h1v1H9zM14 28h1v1H14zM16 32h1v1H16zM27 34h1v1H27zM16 35h1v1H16zM24 36h1v1H24zM12 37h1v1H12zM23 37h2v1H23zM2 38h1v1H2zM26 41h1v1H26zM6 43h1v1H6zM3 45h1v1H3zM10 47h1v1H10zM18 49h1v1H18zM8 50h1v1H8zM22 50h1v1H22zM20 51h1v1H20zM4 53h1v1H4zM16 55h2v1H16zM20 55h1v1H20zM27 55h1v1H27zM26 57h1v1H26zM8 58h1v1H8zM10 59h1v1H10z"/><path fill="#00d2ff" d="M16 0h1v1H16zM19 0h1v1H19zM27 0h1v1H27zM2 2h1v1H2zM15 5h1v1H15zM9 12h1v1H9zM12 17h1v1H12zM8 19h1v1H8zM12 20h1v1H12zM24 24h1v1H24zM22 27h1v1H22zM2 35h1v1H2zM14 35h1v1H14zM15 38h1v1H15zM13 42h1v1H13zM2 51h1v1H2zM19 51h1v1H19zM0 54h1v1H0zM12 56h1v1H12z"/><path fill="#00ff26" d="M6 0h1v1H6zM23 0h1v1H23zM24 1h1v1H24zM6 3h1v1H6zM2 4h1v1H2zM8 4h1v1H8zM6 5h1v1H6zM19 5h1v1H19zM6 6h1v1H6zM19 6h1v1H19zM24 6h1v1H24zM0 7h1v1H0zM9 7h1v1H9zM11 8h1v1H11zM4 9h1v1H4zM8 9h1v1H8zM2 10h1v1H2zM0 11h1v1H0zM3 12h1v1H3zM8 12h1v1H8zM16 12h1v1H16zM16 13h1v1H16zM2 15h1v1H2zM4 15h1v1H4zM11 15h1v1H11zM15 15h1v1H15zM22 16h1v1H22zM8 18h1v1H8zM27 18h1v1H27zM25 19h1v1H25zM15 20h1v1H15zM24 20h1v1H24zM8 21h1v1H8zM15 21h1v1H15zM26 21h1v1H26zM16 22h1v1H16zM4 23h1v1H4zM15 23h1v1H15zM19 23h1v1H19zM4 24h1v1H4zM8 24h1v1H8zM22 24h1v1H22zM19 26h1v1H19zM0 27h1v1H0zM9 29h1v1H9zM0 30h1v1H0zM9 30h1v1H9zM19 30h1v1H19zM26 30h1v1H26zM0 31h1v1H0zM3 31h1v1H3zM16 31h1v1H16zM18 31h1v1H18zM19 32h1v1H19zM27 32h1v1H27zM11 33h1v1H11zM14 33h1v1H14zM1 34h1v1H1zM10 34h1v1H10zM12 34h1v1H12zM8 35h1v1H8zM4 36h1v1H4zM0 37h1v1H0zM6 37h1v1H6zM17 38h1v1H17zM22 38h1v1H22zM4 39h1v1H4zM14 39h1v1H14zM7 40h1v1H7zM15 40h1v1H15zM3 43h1v1H3zM7 43h1v1H7zM8 44h1v1H8zM11 44h1v1H11zM16 44h1v1H16zM21 44h1v1H21zM5 45h1v1H5zM18 46h1v1H18zM24 46h1v1H24zM0 48h1v1H0zM4 48h1v1H4zM15 49h1v1H15zM3 51h1v1H3zM7 52h1v1H7zM12 53h1v1H12zM8 54h1v1H8zM13 54h1v1H13zM17 54h1v1H17zM1 55h1v1H1zM8 55h1v1H8zM19 55h1v1H19zM17 56h1v1H17zM20 56h1v1H20zM24 56h1v1H24zM14 58h1v1H14zM0 59h1v1H0zM12 59h1v1H12zM15 59h1v1H15z"/><path fill="#00ff1b" d="M21 0h1v1H21zM18 1h1v1H18zM27 1h1v1H27zM11 2h1v1H11zM23 2h1v1H23zM27 2h1v1H27zM0 4h1v1H0zM5 4h1v1H5zM23 5h1v1H23zM11 6h1v1H11zM16 7h1v1H16zM1 8h1v1H1zM22 8h1v1H22zM10 9h1v1H10zM12 9h1v1H12zM24 9h1v1H24zM10 10h1v1H10zM13 11h1v1H13zM18 11h1v1H18zM15 12h1v1H15zM18 12h2v1H18zM5 13h2v1H5zM5 14h1v1H5zM10 14h1v1H10zM4 19h1v1H4zM20 19h2v1H20zM3 20h1v1H3zM11 20h1v1H11zM16 21h1v1H16zM1 22h1v1H1zM9 22h1v1H9zM11 22h1v1H11zM21 24h1v1H21zM11 25h1v1H11zM23 25h1v1H23zM25 25h1v1H25zM6 26h1v1H6zM25 26h2v1H25zM2 27h1v1H2zM19 27h1v1H19zM23 27h1v1H23zM26 27h1v1H26zM1 28h1v1H1zM3 28h2v1H3zM17 28h1v1H17zM8 29h1v1H8zM23 29h1v1H23zM7 30h1v1H7zM14 31h1v1H14zM19 31h1v1H19zM22 31h1v1H22zM26 31h1v1H26zM13 32h1v1H13zM20 33h2v1H20zM17 35h1v1H17zM6 36h1v1H6zM25 36h1v1H25zM10 37h1v1H10zM14 37h1v1H14zM21 37h1v1H21zM3 38h1v1H3zM7 39h1v1H7zM15 39h1v1H15zM18 39h1v1H18zM1 40h1v1H1zM16 41h1v1H16zM0 42h1v1H0zM3 42h1v1H3zM10 42h1v1H10zM14 42h1v1H14zM17 43h1v1H17zM0 44h1v1H0zM23 44h1v1H23zM7 45h1v1H7zM6 46h1v1H6zM6 47h1v1H6zM10 48h1v1H10zM15 48h1v1H15zM18 50h1v1H18zM0 51h1v1H0zM18 51h1v1H18zM25 51h1v1H25zM18 53h1v1H18zM9 54h1v1H9zM9 55h1v1H9zM6 56h2v1H6zM6 57h1v1H6zM1 58h1v1H1zM5 58h1v1H5zM11 58h1v1H11zM18 58h1v1H18zM26 59h1v1H26z"/><path fill="#00ff0f" d="M20 0h1v1H20zM5 1h1v1H5zM7 1h1v1H7zM12 1h1v1H12zM9 2h1v1H9zM24 2h1v1H24zM13 4h2v1H13zM21 4h1v1H21zM10 5h1v1H10zM18 5h1v1H18zM20 5h1v1H20zM5 6h1v1H5zM20 6h3v1H20zM7 7h1v1H7zM25 7h1v1H25zM13 8h1v1H13zM17 8h1v1H17zM0 9h2v1H0zM15 9h1v1H15zM19 9h1v1H19zM5 10h2v1H5zM11 10h1v1H11zM21 10h1v1H21zM25 11h1v1H25zM27 11h1v1H27zM12 12h1v1H12zM22 12h1v1H22zM24 12h1v1H24zM10 13h1v1H10zM12 13h1v1H12zM20 13h1v1H20zM27 14h1v1H27zM22 15h1v1H22zM4 18h1v1H4zM14 18h1v1H14zM18 18h1v1H18zM22 18h1v1H22zM26 18h1v1H26zM3 19h1v1H3zM14 19h1v1H14zM17 21h1v1H17zM21 21h1v1H21zM4 22h2v1H4zM7 22h1v1H7zM17 22h1v1H17zM9 23h1v1H9zM16 23h1v1H16zM24 23h1v1H24zM5 25h1v1H5zM15 25h1v1H15zM24 25h1v1H24zM1 27h1v1H1zM10 27h1v1H10zM18 27h1v1H18zM23 28h1v1H23zM14 29h1v1H14zM16 29h1v1H16zM22 29h1v1H22zM3 30h1v1H3zM13 30h1v1H13zM1 31h1v1H1zM7 31h1v1H7zM10 31h1v1H10zM17 31h1v1H17zM4 32h1v1H4zM22 32h1v1H22zM1 33h1v1H1zM27 33h1v1H27zM11 34h1v1H11zM9 35h1v1H9zM24 35h1v1H24zM5 36h1v1H5zM11 36h1v1H11zM17 36h1v1H17zM25 37h1v1H25zM10 40h1v1H10zM16 40h1v1H16zM23 42h1v1H23zM2 43h1v1H2zM2 44h1v1H2zM17 44h1v1H17zM20 45h1v1H20zM14 46h1v1H14zM1 47h1v1H1zM13 47h1v1H13zM17 48h1v1H17zM9 49h1v1H9zM19 49h1v1H19zM23 49h1v1H23zM1 50h1v1H1zM11 51h1v1H11zM10 52h1v1H10zM16 52h1v1H16zM1 53h1v1H1zM13 53h1v1H13zM7 54h1v1H7zM22 54h1v1H22zM0 55h1v1H0zM3 55h1v1H3zM15 55h1v1H15zM1 56h1v1H1zM15 56h1v1H15zM19 56h1v1H19zM2 57h1v1H2zM7 57h1v1H7zM19 57h1v1H19zM4 58h1v1H4zM24 58h1v1H24zM7 59h1v1H7zM14 59h1v1H14zM23 59h1v1H23z"/><path fill="#00ff04" d="M4 0h1v1H4zM10 0h1v1H10zM8 1h1v1H8zM26 1h1v1H26zM15 2h1v1H15zM10 3h1v1H10zM13 3h1v1H13zM21 3h1v1H21zM15 4h1v1H15zM20 4h1v1H20zM16 5h1v1H16zM0 6h1v1H0zM1 7h1v1H1zM15 7h1v1H15zM2 9h1v1H2zM7 9h1v1H7zM16 9h1v1H16zM4 12h2v1H4zM17 13h1v1H17zM2 14h1v1H2zM8 14h1v1H8zM16 14h1v1H16zM15 16h1v1H15zM8 17h1v1H8zM10 17h1v1H10zM21 17h1v1H21zM2 18h1v1H2zM25 18h1v1H25zM5 19h1v1H5zM13 19h1v1H13zM23 19h1v1H23zM6 21h1v1H6zM18 21h1v1H18zM13 23h2v1H13zM10 24h1v1H10zM18 24h1v1H18zM16 25h1v1H16zM12 26h1v1H12zM27 26h1v1H27zM6 27h1v1H6zM8 27h1v1H8zM16 27h1v1H16zM5 28h1v1H5zM27 28h1v1H27zM2 29h1v1H2zM17 29h1v1H17zM19 29h1v1H19zM4 30h1v1H4zM15 30h1v1H15zM24 31h2v1H24zM6 33h2v1H6zM16 34h1v1H16zM26 34h1v1H26zM0 35h1v1H0zM7 35h1v1H7zM26 35h1v1H26zM19 36h1v1H19zM1 37h1v1H1zM10 38h1v1H10zM26 38h1v1H26zM2 39h1v1H2zM5 39h1v1H5zM10 39h1v1H10zM12 39h1v1H12zM20 39h1v1H20zM17 40h1v1H17zM23 40h1v1H23zM15 41h1v1H15zM27 41h1v1H27zM20 42h1v1H20zM26 42h1v1H26zM14 43h1v1H14zM23 43h1v1H23zM26 43h2v1H26zM1 45h1v1H1zM23 45h1v1H23zM26 45h1v1H26zM22 46h1v1H22zM5 47h1v1H5zM16 47h1v1H16zM24 47h1v1H24zM7 48h1v1H7zM13 48h1v1H13zM16 48h1v1H16zM20 48h1v1H20zM1 49h1v1H1zM13 49h1v1H13zM13 50h1v1H13zM17 50h1v1H17zM13 51h1v1H13zM26 51h1v1H26zM9 52h1v1H9zM9 53h1v1H9zM20 53h2v1H20zM2 54h2v1H2zM6 54h1v1H6zM14 54h1v1H14zM6 55h1v1H6zM18 55h1v1H18zM3 56h1v1H3zM22 56h1v1H22zM9 57h1v1H9zM13 57h1v1H13zM15 57h1v1H15zM20 58h1v1H20zM17 59h1v1H17zM19 59h1v1H19z"/><path fill="#08ff00" d="M9 0h1v1H9zM13 0h1v1H13zM25 1h1v1H25zM1 2h1v1H1zM10 2h1v1H10zM3 3h1v1H3zM18 3h1v1H18zM6 4h1v1H6zM23 4h1v1H23zM4 5h1v1H4zM7 5h1v1H7zM2 6h1v1H2zM7 6h1v1H7zM18 8h1v1H18zM21 8h1v1H21zM25 8h1v1H25zM20 9h1v1H20zM22 9h1v1H22zM25 10h3v1H25zM3 11h1v1H3zM6 11h1v1H6zM23 11h1v1H23zM7 12h1v1H7zM13 12h1v1H13zM2 13h1v1H2zM21 13h1v1H21zM21 14h2v1H21zM6 15h2v1H6zM16 15h1v1H16zM25 15h1v1H25zM2 16h1v1H2zM17 16h1v1H17zM20 16h1v1H20zM23 16h1v1H23zM24 17h1v1H24zM1 18h1v1H1zM16 18h1v1H16zM18 19h1v1H18zM8 20h1v1H8zM19 21h1v1H19zM0 23h1v1H0zM3 23h1v1H3zM12 23h1v1H12zM20 23h1v1H20zM15 24h2v1H15zM20 24h1v1H20zM3 26h1v1H3zM22 26h1v1H22zM3 27h1v1H3zM11 27h1v1H11zM13 27h1v1H13zM12 28h1v1H12zM6 29h2v1H6zM1 30h1v1H1zM6 31h1v1H6zM17 32h1v1H17zM24 32h1v1H24zM0 33h1v1H0zM17 33h1v1H17zM14 34h1v1H14zM22 34h1v1H22zM9 36h1v1H9zM14 36h1v1H14zM21 36h1v1H21zM17 37h1v1H17zM19 37h1v1H19zM0 38h2v1H0zM9 38h1v1H9zM1 41h2v1H1zM7 41h1v1H7zM11 41h1v1H11zM17 42h1v1H17zM4 43h1v1H4zM24 44h1v1H24zM8 45h1v1H8zM15 45h2v1H15zM3 46h1v1H3zM0 47h1v1H0zM3 47h1v1H3zM15 47h1v1H15zM22 47h1v1H22zM24 48h1v1H24zM14 49h1v1H14zM17 49h1v1H17zM24 49h1v1H24zM0 50h1v1H0zM21 50h1v1H21zM1 51h1v1H1zM8 51h1v1H8zM22 51h1v1H22zM27 51h1v1H27zM13 52h1v1H13zM20 52h1v1H20zM7 53h1v1H7zM10 53h1v1H10zM18 54h1v1H18zM21 54h1v1H21zM4 55h1v1H4zM8 56h2v1H8zM8 57h1v1H8zM11 57h2v1H11zM16 57h1v1H16zM22 57h1v1H22zM17 58h1v1H17zM4 59h1v1H4zM11 59h1v1H11zM13 59h1v1H13zM24 59h1v1H24z"/><path fill="#13ff00" d="M14 0h2v1H14zM25 0h1v1H25zM1 1h1v1H1zM19 1h2v1H19zM26 2h1v1H26zM19 3h1v1H19zM25 3h1v1H25zM11 4h1v1H11zM25 4h1v1H25zM23 6h1v1H23zM3 7h1v1H3zM14 8h1v1H14zM2 11h1v1H2zM13 13h2v1H13zM11 14h1v1H11zM0 15h1v1H0zM9 15h1v1H9zM13 15h1v1H13zM0 16h1v1H0zM8 16h1v1H8zM14 16h1v1H14zM26 16h1v1H26zM17 17h1v1H17zM27 17h1v1H27zM3 18h1v1H3zM19 18h2v1H19zM7 19h1v1H7zM0 20h1v1H0zM7 21h1v1H7zM14 22h1v1H14zM26 23h1v1H26zM2 24h1v1H2zM4 25h1v1H4zM12 25h1v1H12zM17 25h1v1H17zM8 26h1v1H8zM24 26h1v1H24zM25 27h1v1H25zM13 28h1v1H13zM4 29h1v1H4zM11 29h1v1H11zM27 30h1v1H27zM1 32h1v1H1zM9 32h1v1H9zM26 32h1v1H26zM3 33h1v1H3zM15 33h2v1H15zM6 34h1v1H6zM13 34h1v1H13zM15 34h1v1H15zM21 34h1v1H21zM7 37h1v1H7zM15 37h1v1H15zM20 37h1v1H20zM21 38h1v1H21zM19 39h1v1H19zM21 39h1v1H21zM19 40h1v1H19zM21 41h1v1H21zM4 42h1v1H4zM11 42h1v1H11zM15 42h1v1H15zM19 42h1v1H19zM20 43h2v1H20zM10 44h1v1H10zM12 44h1v1H12zM25 44h1v1H25zM18 45h1v1H18zM15 46h1v1H15zM17 47h2v1H17zM27 47h1v1H27zM1 48h1v1H1zM14 48h1v1H14zM19 50h1v1H19zM27 50h1v1H27zM6 51h1v1H6zM10 51h1v1H10zM18 52h2v1H18zM25 52h1v1H25zM14 53h1v1H14zM11 55h1v1H11zM14 55h1v1H14zM26 55h1v1H26zM2 56h1v1H2zM5 57h1v1H5zM21 57h1v1H21zM5 59h1v1H5zM18 59h1v1H18z"/><path fill="#1fff00" d="M18 0h1v1H18zM22 0h1v1H22zM16 1h1v1H16zM23 1h1v1H23zM3 2h3v1H3zM2 3h1v1H2zM22 3h1v1H22zM19 4h1v1H19zM1 5h1v1H1zM27 5h1v1H27zM3 6h2v1H3zM25 6h1v1H25zM5 7h2v1H5zM17 7h1v1H17zM27 7h1v1H27zM0 8h1v1H0zM12 8h1v1H12zM23 8h1v1H23zM6 9h1v1H6zM20 10h1v1H20zM22 11h1v1H22zM7 14h1v1H7zM14 14h1v1H14zM17 15h1v1H17zM20 15h1v1H20zM15 18h1v1H15zM9 19h2v1H9zM7 20h1v1H7zM16 20h2v1H16zM21 22h1v1H21zM26 22h1v1H26zM25 23h1v1H25zM5 24h1v1H5zM26 24h1v1H26zM0 25h1v1H0zM2 25h1v1H2zM6 25h1v1H6zM5 27h1v1H5zM21 27h1v1H21zM11 28h1v1H11zM21 29h1v1H21zM27 29h1v1H27zM2 30h1v1H2zM5 30h2v1H5zM16 30h1v1H16zM21 30h1v1H21zM13 31h1v1H13zM8 32h1v1H8zM13 33h1v1H13zM24 33h1v1H24zM26 33h1v1H26zM9 34h1v1H9zM17 34h1v1H17zM1 35h1v1H1zM10 35h1v1H10zM22 35h1v1H22zM8 36h1v1H8zM16 37h1v1H16zM4 38h1v1H4zM27 38h1v1H27zM3 39h1v1H3zM25 39h1v1H25zM12 40h2v1H12zM27 40h1v1H27zM4 41h1v1H4zM8 41h1v1H8zM20 41h1v1H20zM7 42h1v1H7zM5 44h1v1H5zM14 44h2v1H14zM27 45h1v1H27zM23 46h1v1H23zM26 46h2v1H26zM8 47h1v1H8zM25 47h1v1H25zM5 48h1v1H5zM9 48h1v1H9zM4 49h1v1H4zM8 49h1v1H8zM11 49h1v1H11zM12 52h1v1H12zM16 53h1v1H16zM4 54h1v1H4zM16 54h1v1H16zM19 54h1v1H19zM0 57h1v1H0zM17 57h1v1H17zM12 58h1v1H12zM21 58h1v1H21zM2 59h1v1H2z"/><path fill="#2aff00" d="M17 1h1v1H17zM14 2h1v1H14zM11 3h1v1H11zM3 4h1v1H3zM12 4h1v1H12zM0 5h1v1H0zM12 5h1v1H12zM27 6h1v1H27zM7 8h1v1H7zM5 9h1v1H5zM23 9h1v1H23zM0 10h1v1H0zM4 10h1v1H4zM14 10h1v1H14zM24 10h1v1H24zM5 11h1v1H5zM14 11h1v1H14zM24 11h1v1H24zM23 12h1v1H23zM26 13h1v1H26zM0 14h1v1H0zM4 14h1v1H4zM26 14h1v1H26zM8 15h1v1H8zM10 15h1v1H10zM26 15h1v1H26zM10 16h1v1H10zM13 16h1v1H13zM21 16h1v1H21zM27 16h1v1H27zM0 17h1v1H0zM18 17h1v1H18zM9 18h1v1H9zM13 18h1v1H13zM2 19h1v1H2zM12 19h1v1H12zM1 21h2v1H1zM9 21h2v1H9zM13 21h1v1H13zM3 22h1v1H3zM25 22h1v1H25zM27 22h1v1H27zM1 23h1v1H1zM6 23h1v1H6zM8 23h1v1H8zM22 23h1v1H22zM1 25h1v1H1zM13 25h1v1H13zM18 25h1v1H18zM9 26h1v1H9zM9 27h1v1H9zM12 27h1v1H12zM17 27h1v1H17zM24 27h1v1H24zM0 28h1v1H0zM15 28h1v1H15zM3 29h1v1H3zM12 29h1v1H12zM25 29h1v1H25zM22 30h1v1H22zM8 31h1v1H8zM0 32h1v1H0zM14 32h1v1H14zM25 33h1v1H25zM2 34h1v1H2zM12 35h1v1H12zM12 36h1v1H12zM18 36h1v1H18zM27 37h1v1H27zM5 38h1v1H5zM13 38h1v1H13zM22 39h1v1H22zM8 40h1v1H8zM10 41h1v1H10zM25 42h1v1H25zM8 43h1v1H8zM6 44h2v1H6zM0 45h1v1H0zM12 45h1v1H12zM8 46h1v1H8zM13 46h1v1H13zM21 46h1v1H21zM2 47h1v1H2zM4 47h1v1H4zM19 47h1v1H19zM23 47h1v1H23zM18 48h1v1H18zM27 48h1v1H27zM7 49h1v1H7zM16 49h1v1H16zM21 49h1v1H21zM9 50h3v1H9zM14 50h1v1H14zM23 50h2v1H23zM3 52h1v1H3zM21 52h1v1H21zM3 53h1v1H3zM5 53h1v1H5zM15 53h1v1H15zM17 53h1v1H17zM24 53h1v1H24zM20 54h1v1H20zM25 54h1v1H25zM13 56h2v1H13zM23 57h2v1H23zM27 57h1v1H27zM2 58h1v1H2zM9 58h1v1H9zM26 58h2v1H26z"/><path fill="#36ff00" d="M2 0h1v1H2zM7 0h2v1H7zM17 0h1v1H17zM10 1h1v1H10zM26 3h1v1H26zM7 4h1v1H7zM10 4h1v1H10zM11 5h1v1H11zM22 5h1v1H22zM13 6h1v1H13zM10 7h1v1H10zM12 7h1v1H12zM18 7h1v1H18zM21 7h1v1H21zM23 7h1v1H23zM4 8h2v1H4zM24 8h1v1H24zM9 9h1v1H9zM12 10h1v1H12zM1 11h1v1H1zM11 11h1v1H11zM0 12h1v1H0zM3 13h1v1H3zM23 13h1v1H23zM25 13h1v1H25zM27 13h1v1H27zM15 14h1v1H15zM1 16h1v1H1zM16 16h1v1H16zM18 16h2v1H18zM25 17h2v1H25zM7 18h1v1H7zM1 19h1v1H1zM5 20h1v1H5zM18 20h1v1H18zM25 20h1v1H25zM12 21h1v1H12zM24 21h1v1H24zM10 22h1v1H10zM15 22h1v1H15zM18 22h1v1H18zM3 24h1v1H3zM14 24h1v1H14zM3 25h1v1H3zM10 25h1v1H10zM26 25h1v1H26zM16 26h1v1H16zM18 26h1v1H18zM13 29h1v1H13zM18 29h1v1H18zM27 31h1v1H27zM7 32h1v1H7zM15 32h1v1H15zM20 32h1v1H20zM0 34h1v1H0zM25 34h1v1H25zM4 35h1v1H4zM1 36h1v1H1zM11 37h1v1H11zM0 40h1v1H0zM5 40h1v1H5zM21 40h1v1H21zM12 41h1v1H12zM17 41h1v1H17zM19 41h1v1H19zM23 41h1v1H23zM9 42h1v1H9zM13 43h1v1H13zM6 45h1v1H6zM24 45h2v1H24zM9 46h1v1H9zM19 46h2v1H19zM12 47h1v1H12zM21 48h1v1H21zM26 48h1v1H26zM2 49h1v1H2zM2 50h2v1H2zM5 50h1v1H5zM12 50h1v1H12zM7 51h1v1H7zM17 52h1v1H17zM23 52h1v1H23zM11 53h1v1H11zM27 53h1v1H27zM10 54h1v1H10zM15 54h1v1H15zM7 55h1v1H7zM10 55h1v1H10zM24 55h1v1H24zM4 56h2v1H4zM18 56h1v1H18zM27 56h1v1H27zM20 57h1v1H20zM10 58h1v1H10zM13 58h1v1H13z"/><path fill="#41ff00" d="M5 0h1v1H5zM13 1h1v1H13zM21 1h1v1H21zM16 2h1v1H16zM20 2h1v1H20zM25 2h1v1H25zM0 3h1v1H0zM7 3h1v1H7zM18 4h1v1H18zM27 4h1v1H27zM5 5h1v1H5zM9 5h1v1H9zM21 5h1v1H21zM16 6h1v1H16zM20 7h1v1H20zM24 7h1v1H24zM9 8h1v1H9zM15 8h1v1H15zM14 9h1v1H14zM21 9h1v1H21zM9 10h1v1H9zM16 10h1v1H16zM8 11h1v1H8zM26 11h1v1H26zM11 12h1v1H11zM4 13h1v1H4zM9 13h1v1H9zM6 14h1v1H6zM9 14h1v1H9zM20 14h1v1H20zM14 15h1v1H14zM16 17h1v1H16zM13 20h1v1H13zM21 20h1v1H21zM26 20h1v1H26zM20 21h1v1H20zM22 21h1v1H22zM6 22h1v1H6zM11 23h1v1H11zM23 23h1v1H23zM22 25h1v1H22zM27 25h1v1H27zM4 26h1v1H4zM20 26h1v1H20zM14 27h2v1H14zM2 28h1v1H2zM6 28h1v1H6zM8 28h1v1H8zM25 28h2v1H25zM0 29h1v1H0zM18 30h1v1H18zM5 31h1v1H5zM11 32h1v1H11zM23 32h1v1H23zM5 33h1v1H5zM8 33h1v1H8zM18 33h2v1H18zM19 34h1v1H19zM23 34h1v1H23zM15 35h1v1H15zM20 35h2v1H20zM2 36h1v1H2zM16 36h1v1H16zM20 36h1v1H20zM23 36h1v1H23zM18 37h1v1H18zM11 38h1v1H11zM16 38h1v1H16zM1 39h1v1H1zM8 39h1v1H8zM13 39h1v1H13zM2 40h1v1H2zM4 40h1v1H4zM6 40h1v1H6zM14 40h1v1H14zM26 40h1v1H26zM5 41h1v1H5zM9 41h1v1H9zM1 42h1v1H1zM8 42h1v1H8zM16 42h1v1H16zM21 42h1v1H21zM27 42h1v1H27zM1 43h1v1H1zM12 43h1v1H12zM1 44h1v1H1zM18 44h1v1H18zM22 44h1v1H22zM27 44h1v1H27zM0 46h1v1H0zM11 46h1v1H11zM9 47h1v1H9zM6 48h1v1H6zM11 48h1v1H11zM5 49h1v1H5zM5 51h1v1H5zM0 52h1v1H0zM8 52h1v1H8zM5 54h1v1H5zM23 55h1v1H23zM25 55h1v1H25zM26 56h1v1H26zM21 59h2v1H21z"/><path fill="#4dff00" d="M12 2h1v1H12zM16 3h1v1H16zM22 4h1v1H22zM24 4h1v1H24zM1 6h1v1H1zM11 7h1v1H11zM15 10h1v1H15zM12 11h1v1H12zM19 11h1v1H19zM8 13h1v1H8zM7 17h1v1H7zM23 18h1v1H23zM24 19h1v1H24zM20 20h1v1H20zM27 20h1v1H27zM4 21h1v1H4zM13 26h1v1H13zM27 27h1v1H27zM16 28h1v1H16zM22 28h1v1H22zM10 30h1v1H10zM17 30h1v1H17zM6 32h1v1H6zM21 32h1v1H21zM5 34h1v1H5zM20 34h1v1H20zM13 35h1v1H13zM18 35h1v1H18zM26 37h1v1H26zM18 38h1v1H18zM6 39h1v1H6zM26 39h1v1H26zM10 43h1v1H10zM19 43h1v1H19zM24 43h1v1H24zM4 45h1v1H4zM11 45h1v1H11zM7 46h1v1H7zM19 48h1v1H19zM3 49h1v1H3zM6 49h1v1H6zM25 50h1v1H25zM14 51h1v1H14zM2 53h1v1H2zM12 54h1v1H12zM23 54h1v1H23zM10 56h1v1H10zM16 59h1v1H16z"/><path fill="#7aff00" d="M13 7h1v1H13zM19 15h1v1H19zM19 24h1v1H19zM0 26h1v1H0zM10 28h1v1H10zM3 35h1v1H3zM24 40h1v1H24zM2 45h1v1H2zM14 52h1v1H14zM27 52h1v1H27z"/><path fill="#86ff00" d="M3 0h1v1H3zM7 2h1v1H7zM20 11h1v1H20zM14 12h1v1H14zM5 17h1v1H5zM21 23h1v1H21zM25 32h1v1H25zM19 35h1v1H19zM18 41h1v1H18zM19 44h1v1H19zM22 48h1v1H22zM25 48h1v1H25zM12 51h1v1H12zM0 53h1v1H0zM3 58h1v1H3z"/><path fill="#91ff00" d="M26 0h1v1H26zM2 1h1v1H2zM26 8h1v1H26zM25 14h1v1H25zM9 16h1v1H9zM2 17h1v1H2zM6 17h1v1H6zM15 19h1v1H15zM9 20h1v1H9zM1 26h1v1H1zM20 27h1v1H20zM5 29h1v1H5zM10 36h1v1H10zM22 36h1v1H22zM9 37h1v1H9zM6 38h1v1H6zM14 38h1v1H14zM2 42h1v1H2zM12 42h1v1H12zM12 55h1v1H12zM16 56h1v1H16zM14 57h1v1H14zM18 57h1v1H18z"/><path fill="#9dff00" d="M23 3h1v1H23zM24 5h1v1H24zM8 7h1v1H8zM18 9h1v1H18zM25 12h1v1H25zM0 13h1v1H0zM12 15h1v1H12zM6 18h1v1H6zM19 19h1v1H19zM23 21h1v1H23zM8 22h1v1H8zM19 25h1v1H19zM8 30h1v1H8zM20 30h1v1H20zM20 31h1v1H20zM5 32h1v1H5zM13 37h1v1H13zM23 38h1v1H23zM11 43h1v1H11zM16 43h1v1H16zM9 45h2v1H9zM2 46h1v1H2zM25 46h1v1H25zM7 47h1v1H7zM14 47h1v1H14zM21 51h1v1H21zM5 52h1v1H5zM15 52h1v1H15zM22 55h1v1H22zM23 56h1v1H23zM0 58h1v1H0zM22 58h1v1H22z"/><path fill="#a8ff00" d="M1 4h1v1H1zM17 10h1v1H17zM23 10h1v1H23zM7 11h1v1H7zM15 11h1v1H15zM20 12h1v1H20zM17 14h1v1H17zM14 26h1v1H14zM20 28h1v1H20zM12 31h1v1H12zM7 38h1v1H7zM11 39h1v1H11zM18 40h1v1H18zM0 43h1v1H0zM12 49h1v1H12zM4 51h1v1H4z"/><path fill="#b4ff00" d="M12 33h1v1H12zM2 37h1v1H2zM2 52h1v1H2zM23 53h1v1H23z"/><path fill="#e2ff00" d="M17 6h1v1H17zM13 9h1v1H13zM19 13h1v1H19zM24 15h1v1H24zM12 18h1v1H12zM27 19h1v1H27zM13 22h1v1H13zM5 26h1v1H5zM11 26h1v1H11zM10 32h1v1H10zM18 32h1v1H18zM10 33h1v1H10zM11 35h1v1H11zM25 53h1v1H25zM7 58h1v1H7z"/><path fill="#fffc04" d="M14 1h1v1H14zM17 4h1v1H17zM17 5h1v1H17zM16 8h1v1H16zM0 22h1v1H0zM17 26h1v1H17zM20 29h1v1H20zM15 31h1v1H15zM22 33h1v1H22zM8 34h1v1H8zM25 35h1v1H25zM25 38h1v1H25zM5 42h1v1H5zM13 45h1v1H13zM3 59h1v1H3zM25 59h1v1H25z"/><path fill="#fff90b" d="M0 0h1v1H0zM22 2h1v1H22zM9 3h1v1H9zM4 4h1v1H4zM24 13h1v1H24zM1 14h1v1H1zM11 17h1v1H11zM10 18h1v1H10zM17 18h1v1H17zM10 20h1v1H10zM5 21h1v1H5zM2 32h1v1H2zM5 35h1v1H5zM19 38h1v1H19zM3 40h1v1H3zM10 46h1v1H10zM20 47h1v1H20zM22 53h1v1H22zM1 54h1v1H1z"/><path fill="#fff612" d="M15 1h1v1H15zM19 2h1v1H19zM27 3h1v1H27zM7 24h1v1H7zM21 28h1v1H21zM23 31h1v1H23zM4 33h1v1H4zM25 57h1v1H25zM1 59h1v1H1z"/><path fill="#ffe341" d="M0 49h1v1H0zM27 49h1v1H27zM24 51h1v1H24zM4 52h1v1H4zM24 52h1v1H24z"/><path fill="#ffe247" d="M2 5h1v1H2zM19 10h1v1H19zM12 16h1v1H12zM23 48h1v1H23z"/><path fill="#ffe04e" d="M3 5h1v1H3zM9 6h1v1H9zM3 15h1v1H3zM21 47h1v1H21z"/><path fill="#ffffff" d="M1 0h1v1H1zM6 2h1v1H6zM24 3h1v1H24zM10 6h1v1H10zM20 8h1v1H20zM8 10h1v1H8zM26 12h1v1H26zM11 13h1v1H11zM22 13h1v1H22zM3 14h1v1H3zM24 18h1v1H24zM9 24h1v1H9zM13 24h1v1H13zM25 24h1v1H25zM23 26h1v1H23zM19 28h1v1H19zM14 30h1v1H14zM20 40h1v1H20zM25 41h1v1H25zM25 43h1v1H25zM22 45h1v1H22zM17 51h1v1H17zM4 57h1v1H4zM6 58h1v1H6z"/></svg>
<text class="tt" x="194.61999999999998" y="195.1">t = 112</text>
<text class="tk" x="192.12" y="325.86" text-anchor="end">1</text>
<text class="tk" x="192.12" y="315.49" text-anchor="end">6</text>
<text class="tk" x="192.12" y="305.12" text-anchor="end">11</text>
<text class="tk" x="192.12" y="294.75" text-anchor="end">16</text>
<text class="tk" x="192.12" y="284.38" text-anchor="end">21</text>
<text class="tk" x="192.12" y="274.01" text-anchor="end">26</text>
<text class="tk" x="192.12" y="263.64" text-anchor="end">31</text>
<text class="tk" x="192.12" y="253.27" text-anchor="end">36</text>
<text class="tk" x="192.12" y="242.90" text-anchor="end">41</text>
<text class="tk" x="192.12" y="232.53" text-anchor="end">46</text>
<text class="tk" x="192.12" y="222.15" text-anchor="end">51</text>
<text class="tk" x="192.12" y="211.78" text-anchor="end">56</text>
<text class="tk" x="196.98" y="331.80" text-anchor="middle">1</text>
<text class="tk" x="209.32" y="331.80" text-anchor="middle">4</text>
<text class="tk" x="221.66" y="331.80" text-anchor="middle">7</text>
<text class="tk" x="234.01" y="331.80" text-anchor="middle">10</text>
<text class="tk" x="246.35" y="331.80" text-anchor="middle">13</text>
<text class="tk" x="258.69" y="331.80" text-anchor="middle">16</text>
<text class="tk" x="271.03" y="331.80" text-anchor="middle">19</text>
<text class="tk" x="283.38" y="331.80" text-anchor="middle">22</text>
<text class="tk" x="295.72" y="331.80" text-anchor="middle">25</text>
<text class="tk" x="308.06" y="331.80" text-anchor="middle">28</text>
<path d="M192.72 323.41H194.92M192.72 313.04H194.92M192.72 302.67H194.92M192.72 292.30H194.92M192.72 281.93H194.92M192.72 271.56H194.92M192.72 261.19H194.92M192.72 250.82H194.92M192.72 240.45H194.92M192.72 230.08H194.92M192.72 219.70H194.92M192.72 209.33H194.92M196.98 324.45V326.65M209.32 324.45V326.65M221.66 324.45V326.65M234.01 324.45V326.65M246.35 324.45V326.65M258.69 324.45V326.65M271.03 324.45V326.65M283.38 324.45V326.65M295.72 324.45V326.65M308.06 324.45V326.65" stroke="#333" stroke-width="0.75" fill="none"/>
<text class="at" x="252.52" y="341.50" text-anchor="middle">Column</text>
<text class="at" x="0" y="0" text-anchor="middle" transform="translate(181.02,262.23) rotate(-90)">Row</text>
<rect x="317.67" y="215.51" width="3.6" height="103.90" fill="url(#cb)"/>
<text class="cl" x="324.62" y="243.45">0.04</text>
<text class="cl" x="324.62" y="269.75">0.03</text>
<text class="cl" x="324.62" y="296.05">0.02</text>
<svg x="367.69" y="200.0" width="115.2" height="124.45" viewBox="0 0 28 60" preserveAspectRatio="none"><rect width="28" height="60" fill="#36ff00"/><path fill="#4c00ff" d="M7 28h1v1H7z"/><path fill="#4100ff" d="M5 3h1v1H5zM15 17h1v1H15zM4 37h1v1H4z"/><path fill="#3600ff" d="M2 12h1v1H2zM6 42h1v1H6zM3 48h1v1H3z"/><path fill="#2a00ff" d="M25 58h1v1H25z"/><path fill="#001bff" d="M9 1h1v1H9zM0 24h1v1H0zM12 24h1v1H12zM8 25h1v1H8zM20 25h1v1H20zM12 32h1v1H12zM7 34h1v1H7zM18 34h1v1H18zM26 36h1v1H26z"/><path fill="#0026ff" d="M8 2h1v1H8zM1 10h1v1H1zM27 24h1v1H27zM1 29h1v1H1zM26 29h1v1H26zM24 30h1v1H24zM24 34h1v1H24z"/><path fill="#0032ff" d="M6 1h1v1H6zM8 3h1v1H8zM5 16h1v1H5zM25 16h1v1H25zM10 23h1v1H10zM20 49h1v1H20zM23 58h1v1H23z"/><path fill="#003dff" d="M20 3h1v1H20zM2 7h1v1H2zM16 11h1v1H16zM27 21h1v1H27zM5 23h1v1H5zM1 24h1v1H1zM10 29h1v1H10zM11 31h1v1H11zM14 41h1v1H14zM13 44h1v1H13zM26 44h1v1H26zM4 50h1v1H4zM3 57h1v1H3z"/><path fill="#0049ff" d="M27 36h1v1H27zM22 52h1v1H22z"/><path fill="#0077ff" d="M18 2h1v1H18zM12 3h1v1H12zM11 9h1v1H11zM12 14h1v1H12zM23 17h1v1H23zM26 19h1v1H26zM1 20h1v1H1zM22 20h1v1H22zM18 23h1v1H18zM27 23h1v1H27zM15 26h1v1H15zM21 26h1v1H21zM7 27h1v1H7zM11 30h1v1H11zM4 31h1v1H4zM21 31h1v1H21zM3 34h1v1H3zM0 36h1v1H0zM24 38h1v1H24zM24 39h1v1H24zM9 40h1v1H9zM18 42h1v1H18zM22 42h1v1H22zM24 42h1v1H24zM3 44h1v1H3zM2 48h1v1H2zM26 49h1v1H26zM26 50h1v1H26zM16 51h1v1H16zM6 52h1v1H6zM11 52h1v1H11zM26 52h1v1H26zM19 53h1v1H19zM2 55h1v1H2zM25 56h1v1H25z"/><path fill="#0082ff" d="M25 5h1v1H25zM15 6h1v1H15zM19 7h1v1H19zM3 9h1v1H3zM17 12h1v1H17zM21 12h1v1H21zM5 18h1v1H5zM2 20h1v1H2zM14 21h1v1H14zM22 22h1v1H22zM24 22h1v1H24zM4 27h1v1H4zM24 28h1v1H24zM2 31h1v1H2zM4 34h1v1H4zM6 35h1v1H6zM13 36h1v1H13zM15 36h1v1H15zM27 39h1v1H27zM6 41h1v1H6zM18 43h1v1H18zM26 47h1v1H26zM9 51h1v1H9zM6 53h1v1H6zM24 54h1v1H24zM5 55h1v1H5zM13 55h1v1H13zM0 56h1v1H0zM16 58h1v1H16zM6 59h1v1H6z"/><path fill="#008eff" d="M17 2h1v1H17zM1 3h1v1H1zM17 3h1v1H17zM3 8h1v1H3zM25 9h1v1H25zM7 10h1v1H7zM6 12h1v1H6zM18 13h1v1H18zM18 14h2v1H18zM18 15h1v1H18zM14 20h1v1H14zM11 24h1v1H11zM24 29h1v1H24zM2 33h1v1H2zM9 39h1v1H9zM16 39h1v1H16zM22 40h1v1H22zM3 41h1v1H3zM20 44h1v1H20zM14 45h1v1H14zM4 46h1v1H4zM16 46h1v1H16zM25 49h1v1H25zM6 50h1v1H6zM11 54h1v1H11zM1 57h1v1H1zM27 59h1v1H27z"/><path fill="#0099ff" d="M0 2h1v1H0zM21 2h1v1H21zM12 6h1v1H12zM4 7h1v1H4zM8 8h1v1H8zM15 13h1v1H15zM13 14h1v1H13zM5 15h1v1H5zM20 17h1v1H20zM23 22h1v1H23zM17 24h1v1H17zM18 28h1v1H18zM23 33h1v1H23zM0 39h1v1H0zM23 39h1v1H23zM5 43h1v1H5zM9 43h1v1H9zM22 43h1v1H22zM4 44h1v1H4zM5 46h1v1H5zM11 56h1v1H11z"/><path fill="#00bbff" d="M24 0h1v1H24zM4 1h1v1H4zM14 3h1v1H14zM18 6h1v1H18zM1 12h1v1H1zM19 17h1v1H19zM25 30h1v1H25zM9 31h1v1H9zM3 37h1v1H3zM20 38h1v1H20zM0 41h1v1H0zM24 41h1v1H24zM11 47h1v1H11zM10 57h1v1H10zM20 59h1v1H20z"/><path fill="#00c7ff" d="M11 0h2v1H11zM3 1h1v1H3zM11 1h1v1H11zM13 2h1v1H13zM15 3h1v1H15zM16 4h1v1H16zM26 6h1v1H26zM22 7h1v1H22zM6 8h1v1H6zM10 8h1v1H10zM10 11h1v1H10zM17 11h1v1H17zM21 11h1v1H21zM7 13h1v1H7zM21 15h1v1H21zM3 17h2v1H3zM17 19h1v1H17zM22 19h1v1H22zM4 20h1v1H4zM6 20h1v1H6zM19 20h1v1H19zM23 20h1v1H23zM20 22h1v1H20zM7 23h1v1H7zM17 23h1v1H17zM2 26h1v1H2zM15 29h1v1H15zM12 30h1v1H12zM23 30h1v1H23zM3 32h1v1H3zM27 35h1v1H27zM3 36h1v1H3zM7 36h1v1H7zM5 37h1v1H5zM12 38h1v1H12zM11 40h1v1H11zM22 41h1v1H22zM15 43h1v1H15zM9 44h1v1H9zM19 45h1v1H19zM21 45h1v1H21zM12 46h1v1H12zM17 46h1v1H17zM8 48h1v1H8zM12 48h1v1H12zM7 50h1v1H7zM16 50h1v1H16zM15 51h1v1H15zM23 51h1v1H23zM26 53h1v1H26zM27 54h1v1H27zM21 55h1v1H21zM21 56h1v1H21zM15 58h1v1H15zM8 59h1v1H8z"/><path fill="#00d2ff" d="M22 1h1v1H22zM4 3h1v1H4zM26 4h1v1H26zM8 5h1v1H8zM26 5h1v1H26zM14 7h1v1H14zM26 7h1v1H26zM27 8h1v1H27zM3 10h1v1H3zM4 11h1v1H4zM9 11h1v1H9zM27 12h1v1H27zM1 13h1v1H1zM7 16h1v1H7zM11 16h1v1H11zM1 17h1v1H1zM9 17h1v1H9zM14 17h1v1H14zM22 17h1v1H22zM11 18h1v1H11zM0 19h1v1H0zM16 19h1v1H16zM3 21h1v1H3zM11 21h1v1H11zM25 21h1v1H25zM12 22h1v1H12zM23 24h1v1H23zM7 25h1v1H7zM14 25h1v1H14zM7 26h1v1H7zM10 26h1v1H10zM9 33h1v1H9zM23 35h1v1H23zM8 37h1v1H8zM22 37h1v1H22zM8 38h1v1H8zM17 39h1v1H17zM25 40h1v1H25zM13 41h1v1H13zM17 45h1v1H17zM1 46h1v1H1zM10 49h1v1H10zM22 49h1v1H22zM15 50h1v1H15zM20 50h1v1H20zM1 52h1v1H1zM8 53h1v1H8zM26 54h1v1H26zM19 58h1v1H19zM9 59h1v1H9z"/><path fill="#00deff" d="M0 1h1v1H0zM9 4h1v1H9zM13 5h2v1H13zM8 6h1v1H8zM2 8h1v1H2zM19 8h1v1H19zM17 9h1v1H17zM26 9h2v1H26zM13 10h1v1H13zM18 10h1v1H18zM22 10h1v1H22zM23 14h2v1H23zM1 15h1v1H1zM27 15h1v1H27zM3 16h2v1H3zM6 16h1v1H6zM0 18h1v1H0zM21 18h1v1H21zM6 19h1v1H6zM11 19h1v1H11zM0 21h1v1H0zM2 22h1v1H2zM19 22h1v1H19zM2 23h1v1H2zM9 25h1v1H9zM21 25h1v1H21zM9 28h1v1H9zM14 28h1v1H14zM16 32h1v1H16zM27 34h1v1H27zM16 35h1v1H16zM24 36h1v1H24zM12 37h1v1H12zM23 37h2v1H23zM2 38h1v1H2zM6 43h1v1H6zM3 45h1v1H3zM18 49h1v1H18zM8 50h1v1H8zM22 50h1v1H22zM20 51h1v1H20zM4 53h1v1H4zM16 55h2v1H16zM27 55h1v1H27zM26 57h1v1H26zM8 58h1v1H8zM10 59h1v1H10z"/><path fill="#00ff49" d="M16 0h1v1H16zM19 0h1v1H19zM27 0h1v1H27zM2 2h1v1H2zM15 5h1v1H15zM14 6h1v1H14zM9 12h2v1H9zM23 15h1v1H23zM24 16h1v1H24zM12 17h2v1H12zM8 19h1v1H8zM12 20h1v1H12zM6 24h1v1H6zM24 24h1v1H24zM22 27h1v1H22zM2 35h1v1H2zM14 35h1v1H14zM15 38h1v1H15zM26 41h1v1H26zM13 42h1v1H13zM10 47h1v1H10zM2 51h1v1H2zM19 51h1v1H19zM0 54h1v1H0zM20 55h1v1H20zM12 56h1v1H12z"/><path fill="#00ff04" d="M6 0h1v1H6zM23 0h1v1H23zM6 3h1v1H6zM2 4h1v1H2zM8 4h1v1H8zM19 5h1v1H19zM19 6h1v1H19zM24 6h1v1H24zM0 7h1v1H0zM9 7h1v1H9zM11 8h1v1H11zM0 11h1v1H0zM3 12h1v1H3zM16 12h1v1H16zM16 13h1v1H16zM4 15h1v1H4zM15 15h1v1H15zM22 16h1v1H22zM25 19h1v1H25zM15 20h1v1H15zM24 20h1v1H24zM8 21h1v1H8zM26 21h1v1H26zM4 23h1v1H4zM8 24h1v1H8zM19 26h1v1H19zM0 27h1v1H0zM0 30h1v1H0zM19 30h1v1H19zM26 30h1v1H26zM16 31h1v1H16zM18 31h1v1H18zM19 32h1v1H19zM27 32h1v1H27zM11 33h1v1H11zM14 33h1v1H14zM1 34h1v1H1zM12 34h1v1H12zM4 36h1v1H4zM0 37h1v1H0zM17 38h1v1H17zM22 38h1v1H22zM4 39h1v1H4zM15 40h1v1H15zM3 43h1v1H3zM8 44h1v1H8zM11 44h1v1H11zM16 44h1v1H16zM21 44h1v1H21zM5 45h1v1H5zM0 48h1v1H0zM15 49h1v1H15zM7 52h1v1H7zM8 54h1v1H8zM8 55h1v1H8zM19 55h1v1H19zM17 56h1v1H17zM24 56h1v1H24zM14 58h1v1H14zM12 59h1v1H12zM15 59h1v1H15z"/><path fill="#08ff00" d="M18 1h1v1H18zM24 1h1v1H24zM11 2h1v1H11zM6 5h1v1H6zM23 5h1v1H23zM6 6h1v1H6zM11 6h1v1H11zM16 7h1v1H16zM1 8h1v1H1zM22 8h1v1H22zM4 9h1v1H4zM8 9h1v1H8zM10 9h1v1H10zM12 9h1v1H12zM24 9h1v1H24zM2 10h1v1H2zM10 10h1v1H10zM18 11h1v1H18zM8 12h1v1H8zM15 12h1v1H15zM18 12h1v1H18zM2 15h1v1H2zM11 15h1v1H11zM8 18h1v1H8zM27 18h1v1H27zM20 19h1v1H20zM15 21h2v1H15zM9 22h1v1H9zM11 22h1v1H11zM16 22h1v1H16zM15 23h1v1H15zM19 23h1v1H19zM4 24h1v1H4zM22 24h1v1H22zM11 25h1v1H11zM23 25h1v1H23zM2 27h1v1H2zM26 27h1v1H26zM1 28h1v1H1zM3 28h2v1H3zM9 29h1v1H9zM23 29h1v1H23zM9 30h1v1H9zM0 31h1v1H0zM3 31h1v1H3zM14 31h1v1H14zM19 31h1v1H19zM26 31h1v1H26zM13 32h1v1H13zM20 33h1v1H20zM10 34h1v1H10zM8 35h1v1H8zM6 36h1v1H6zM25 36h1v1H25zM6 37h1v1H6zM10 37h1v1H10zM21 37h1v1H21zM7 39h1v1H7zM14 39h2v1H14zM1 40h1v1H1zM7 40h1v1H7zM16 41h1v1H16zM0 42h1v1H0zM3 42h1v1H3zM14 42h1v1H14zM7 43h1v1H7zM0 44h1v1H0zM18 46h1v1H18zM24 46h1v1H24zM6 47h1v1H6zM4 48h1v1H4zM10 48h1v1H10zM15 48h1v1H15zM0 51h1v1H0zM3 51h1v1H3zM25 51h1v1H25zM12 53h1v1H12zM18 53h1v1H18zM13 54h1v1H13zM17 54h1v1H17zM1 55h1v1H1zM9 55h1v1H9zM20 56h1v1H20zM5 58h1v1H5zM11 58h1v1H11zM0 59h1v1H0z"/><path fill="#13ff00" d="M20 0h2v1H20zM5 1h1v1H5zM7 1h1v1H7zM27 1h1v1H27zM23 2h2v1H23zM27 2h1v1H27zM0 4h1v1H0zM5 4h1v1H5zM14 4h1v1H14zM18 5h1v1H18zM20 5h1v1H20zM5 6h1v1H5zM22 6h1v1H22zM7 7h1v1H7zM25 7h1v1H25zM13 8h1v1H13zM0 9h1v1H0zM19 9h1v1H19zM5 10h1v1H5zM11 10h1v1H11zM21 10h1v1H21zM13 11h1v1H13zM25 11h1v1H25zM19 12h1v1H19zM22 12h1v1H22zM5 13h2v1H5zM12 13h1v1H12zM5 14h1v1H5zM10 14h1v1H10zM27 14h1v1H27zM22 15h1v1H22zM4 18h1v1H4zM22 18h1v1H22zM3 19h2v1H3zM21 19h1v1H21zM3 20h1v1H3zM11 20h1v1H11zM17 21h1v1H17zM1 22h1v1H1zM4 22h1v1H4zM21 24h1v1H21zM5 25h1v1H5zM25 25h1v1H25zM6 26h1v1H6zM25 26h2v1H25zM19 27h1v1H19zM23 27h1v1H23zM17 28h1v1H17zM8 29h1v1H8zM22 29h1v1H22zM7 30h1v1H7zM13 30h1v1H13zM1 31h1v1H1zM7 31h1v1H7zM22 31h1v1H22zM1 33h1v1H1zM21 33h1v1H21zM27 33h1v1H27zM17 35h1v1H17zM24 35h1v1H24zM11 36h1v1H11zM14 37h1v1H14zM3 38h1v1H3zM18 39h1v1H18zM16 40h1v1H16zM10 42h1v1H10zM23 42h1v1H23zM17 43h1v1H17zM2 44h1v1H2zM23 44h1v1H23zM7 45h1v1H7zM6 46h1v1H6zM23 49h1v1H23zM18 50h1v1H18zM11 51h1v1H11zM18 51h1v1H18zM10 52h1v1H10zM7 54h1v1H7zM9 54h1v1H9zM22 54h1v1H22zM3 55h1v1H3zM6 56h2v1H6zM6 57h2v1H6zM19 57h1v1H19zM1 58h1v1H1zM18 58h1v1H18zM14 59h1v1H14zM23 59h1v1H23zM26 59h1v1H26z"/><path fill="#1fff00" d="M12 1h1v1H12zM9 2h1v1H9zM13 4h1v1H13zM21 4h1v1H21zM10 5h1v1H10zM20 6h2v1H20zM17 8h1v1H17zM1 9h1v1H1zM15 9h1v1H15zM6 10h1v1H6zM27 11h1v1H27zM12 12h1v1H12zM24 12h1v1H24zM10 13h1v1H10zM20 13h1v1H20zM16 14h1v1H16zM14 18h1v1H14zM18 18h1v1H18zM26 18h1v1H26zM14 19h1v1H14zM23 19h1v1H23zM21 21h1v1H21zM5 22h1v1H5zM7 22h1v1H7zM17 22h1v1H17zM9 23h1v1H9zM13 23h1v1H13zM16 23h1v1H16zM24 23h1v1H24zM15 25h1v1H15zM24 25h1v1H24zM27 26h1v1H27zM1 27h1v1H1zM6 27h1v1H6zM10 27h1v1H10zM18 27h1v1H18zM23 28h1v1H23zM14 29h1v1H14zM16 29h1v1H16zM3 30h1v1H3zM15 30h1v1H15zM10 31h1v1H10zM17 31h1v1H17zM4 32h1v1H4zM22 32h1v1H22zM7 33h1v1H7zM11 34h1v1H11zM16 34h1v1H16zM26 34h1v1H26zM9 35h1v1H9zM26 35h1v1H26zM5 36h1v1H5zM17 36h1v1H17zM25 37h1v1H25zM10 38h1v1H10zM10 39h1v1H10zM12 39h1v1H12zM10 40h1v1H10zM23 40h1v1H23zM15 41h1v1H15zM26 42h1v1H26zM2 43h1v1H2zM23 43h1v1H23zM17 44h1v1H17zM20 45h1v1H20zM23 45h1v1H23zM14 46h1v1H14zM1 47h1v1H1zM13 47h1v1H13zM17 48h1v1H17zM1 49h1v1H1zM9 49h1v1H9zM19 49h1v1H19zM1 50h1v1H1zM16 52h1v1H16zM1 53h1v1H1zM9 53h1v1H9zM13 53h1v1H13zM21 53h1v1H21zM0 55h1v1H0zM15 55h1v1H15zM1 56h1v1H1zM15 56h1v1H15zM19 56h1v1H19zM2 57h1v1H2zM13 57h1v1H13zM4 58h1v1H4zM24 58h1v1H24zM7 59h1v1H7zM17 59h1v1H17z"/><path fill="#2aff00" d="M4 0h1v1H4zM10 0h1v1H10zM8 1h1v1H8zM26 1h1v1H26zM15 2h1v1H15zM3 3h1v1H3zM10 3h1v1H10zM13 3h1v1H13zM21 3h1v1H21zM15 4h1v1H15zM20 4h1v1H20zM16 5h1v1H16zM0 6h1v1H0zM1 7h1v1H1zM15 7h1v1H15zM2 9h1v1H2zM7 9h1v1H7zM16 9h1v1H16zM22 9h1v1H22zM4 12h2v1H4zM17 13h1v1H17zM2 14h1v1H2zM8 14h1v1H8zM15 16h1v1H15zM8 17h1v1H8zM10 17h1v1H10zM21 17h1v1H21zM2 18h1v1H2zM25 18h1v1H25zM5 19h1v1H5zM13 19h1v1H13zM6 21h1v1H6zM18 21h1v1H18zM14 23h1v1H14zM10 24h1v1H10zM18 24h1v1H18zM16 25h1v1H16zM12 26h1v1H12zM8 27h1v1H8zM16 27h1v1H16zM5 28h1v1H5zM27 28h1v1H27zM2 29h1v1H2zM17 29h1v1H17zM19 29h1v1H19zM4 30h1v1H4zM24 31h2v1H24zM6 33h1v1H6zM0 35h1v1H0zM7 35h1v1H7zM19 36h1v1H19zM1 37h1v1H1zM26 38h1v1H26zM2 39h1v1H2zM5 39h1v1H5zM20 39h1v1H20zM17 40h1v1H17zM27 41h1v1H27zM20 42h1v1H20zM14 43h1v1H14zM26 43h2v1H26zM1 45h1v1H1zM26 45h1v1H26zM22 46h1v1H22zM5 47h1v1H5zM16 47h1v1H16zM24 47h1v1H24zM7 48h1v1H7zM13 48h1v1H13zM16 48h1v1H16zM20 48h1v1H20zM13 49h1v1H13zM13 50h1v1H13zM17 50h1v1H17zM13 51h1v1H13zM26 51h1v1H26zM9 52h1v1H9zM20 53h1v1H20zM2 54h2v1H2zM6 54h1v1H6zM14 54h1v1H14zM6 55h1v1H6zM18 55h1v1H18zM3 56h1v1H3zM22 56h1v1H22zM9 57h1v1H9zM15 57h1v1H15zM20 58h1v1H20zM19 59h1v1H19z"/><path fill="#36ff00" d="M13 0h1v1H13zM25 1h1v1H25zM1 2h1v1H1zM10 2h1v1H10zM18 3h1v1H18zM6 4h1v1H6zM23 4h1v1H23zM4 5h1v1H4zM7 5h1v1H7zM7 6h1v1H7zM21 8h1v1H21zM25 8h1v1H25zM20 9h1v1H20zM25 10h3v1H25zM3 11h1v1H3zM6 11h1v1H6zM23 11h1v1H23zM13 12h1v1H13zM2 13h1v1H2zM21 14h2v1H21zM7 15h1v1H7zM17 16h1v1H17zM23 16h1v1H23zM24 17h1v1H24zM16 18h1v1H16zM18 19h1v1H18zM8 20h1v1H8zM0 23h1v1H0zM3 23h1v1H3zM20 24h1v1H20zM11 27h1v1H11zM13 27h1v1H13zM6 29h2v1H6zM1 30h1v1H1zM6 31h1v1H6zM24 32h1v1H24zM0 33h1v1H0zM17 33h1v1H17zM14 34h1v1H14zM9 36h1v1H9zM14 36h1v1H14zM21 36h1v1H21zM17 37h1v1H17zM19 37h1v1H19zM0 38h2v1H0zM1 41h2v1H1zM7 41h1v1H7zM17 42h1v1H17zM4 43h1v1H4zM24 44h1v1H24zM16 45h1v1H16zM3 46h1v1H3zM15 47h1v1H15zM22 47h1v1H22zM24 48h1v1H24zM14 49h1v1H14zM17 49h1v1H17zM24 49h1v1H24zM21 50h1v1H21zM1 51h1v1H1zM8 51h1v1H8zM22 51h1v1H22zM27 51h1v1H27zM7 53h1v1H7zM10 53h1v1H10zM18 54h1v1H18zM4 55h1v1H4zM8 56h1v1H8zM8 57h1v1H8zM11 57h1v1H11zM16 57h1v1H16zM4 59h1v1H4zM11 59h1v1H11zM24 59h1v1H24z"/><path fill="#41ff00" d="M9 0h1v1H9zM14 0h1v1H14zM25 0h1v1H25zM1 1h1v1H1zM20 1h1v1H20zM11 4h1v1H11zM2 6h1v1H2zM18 8h1v1H18zM7 12h1v1H7zM13 13h2v1H13zM21 13h1v1H21zM11 14h1v1H11zM6 15h1v1H6zM16 15h1v1H16zM25 15h1v1H25zM2 16h1v1H2zM14 16h1v1H14zM20 16h1v1H20zM17 17h1v1H17zM27 17h1v1H27zM1 18h1v1H1zM19 18h1v1H19zM7 19h1v1H7zM0 20h1v1H0zM7 21h1v1H7zM19 21h1v1H19zM12 23h1v1H12zM20 23h1v1H20zM26 23h1v1H26zM2 24h1v1H2zM15 24h2v1H15zM3 26h1v1H3zM22 26h1v1H22zM24 26h1v1H24zM3 27h1v1H3zM25 27h1v1H25zM12 28h1v1H12zM4 29h1v1H4zM17 32h1v1H17zM26 32h1v1H26zM3 33h1v1H3zM15 33h2v1H15zM15 34h1v1H15zM21 34h2v1H21zM7 37h1v1H7zM20 37h1v1H20zM9 38h1v1H9zM21 38h1v1H21zM19 39h1v1H19zM11 41h1v1H11zM21 41h1v1H21zM4 42h1v1H4zM11 42h1v1H11zM15 42h1v1H15zM10 44h1v1H10zM12 44h1v1H12zM8 45h1v1H8zM15 45h1v1H15zM18 45h1v1H18zM15 46h1v1H15zM0 47h1v1H0zM3 47h1v1H3zM17 47h1v1H17zM1 48h1v1H1zM14 48h1v1H14zM0 50h1v1H0zM19 50h1v1H19zM27 50h1v1H27zM6 51h1v1H6zM10 51h1v1H10zM13 52h1v1H13zM18 52h1v1H18zM20 52h1v1H20zM25 52h1v1H25zM14 53h1v1H14zM21 54h1v1H21zM26 55h1v1H26zM2 56h1v1H2zM9 56h1v1H9zM5 57h1v1H5zM12 57h1v1H12zM21 57h2v1H21zM17 58h1v1H17zM13 59h1v1H13z"/><path fill="#4dff00" d="M15 0h1v1H15zM19 1h1v1H19zM26 2h1v1H26zM2 3h1v1H2zM19 3h1v1H19zM25 3h1v1H25zM19 4h1v1H19zM25 4h1v1H25zM1 5h1v1H1zM23 6h1v1H23zM3 7h1v1H3zM14 8h1v1H14zM6 9h1v1H6zM2 11h1v1H2zM22 11h1v1H22zM14 14h1v1H14zM0 15h1v1H0zM9 15h1v1H9zM13 15h1v1H13zM0 16h1v1H0zM8 16h1v1H8zM26 16h1v1H26zM3 18h1v1H3zM20 18h1v1H20zM14 22h1v1H14zM25 23h1v1H25zM0 25h1v1H0zM4 25h1v1H4zM6 25h1v1H6zM12 25h1v1H12zM17 25h1v1H17zM8 26h1v1H8zM11 28h1v1H11zM13 28h1v1H13zM11 29h1v1H11zM2 30h1v1H2zM27 30h1v1H27zM1 32h1v1H1zM9 32h1v1H9zM13 33h1v1H13zM26 33h1v1H26zM6 34h1v1H6zM13 34h1v1H13zM8 36h1v1H8zM15 37h1v1H15zM3 39h1v1H3zM21 39h1v1H21zM19 40h1v1H19zM19 42h1v1H19zM20 43h2v1H20zM25 44h1v1H25zM26 46h1v1H26zM18 47h1v1H18zM27 47h1v1H27zM19 52h1v1H19zM11 55h1v1H11zM14 55h1v1H14zM2 59h1v1H2zM5 59h1v1H5zM18 59h1v1H18z"/><path fill="#58ff00" d="M18 0h1v1H18zM22 0h1v1H22zM16 1h1v1H16zM23 1h1v1H23zM3 2h3v1H3zM22 3h1v1H22zM3 6h2v1H3zM25 6h1v1H25zM6 7h1v1H6zM17 7h1v1H17zM27 7h1v1H27zM0 8h1v1H0zM12 8h1v1H12zM20 10h1v1H20zM7 14h1v1H7zM17 15h1v1H17zM20 15h1v1H20zM15 18h1v1H15zM10 19h1v1H10zM7 20h1v1H7zM17 20h1v1H17zM21 22h1v1H21zM26 22h1v1H26zM5 24h1v1H5zM26 24h1v1H26zM2 25h1v1H2zM5 27h1v1H5zM21 27h1v1H21zM21 29h1v1H21zM27 29h1v1H27zM5 30h2v1H5zM16 30h1v1H16zM21 30h1v1H21zM13 31h1v1H13zM8 32h1v1H8zM24 33h1v1H24zM1 35h1v1H1zM10 35h1v1H10zM22 35h1v1H22zM16 37h1v1H16zM4 38h1v1H4zM27 38h1v1H27zM25 39h1v1H25zM12 40h2v1H12zM27 40h1v1H27zM4 41h1v1H4zM8 41h1v1H8zM20 41h1v1H20zM7 42h1v1H7zM5 44h1v1H5zM15 44h1v1H15zM27 45h1v1H27zM27 46h1v1H27zM8 47h1v1H8zM25 47h1v1H25zM9 48h1v1H9zM4 49h1v1H4zM8 49h1v1H8zM11 49h1v1H11zM12 52h1v1H12zM16 53h1v1H16zM4 54h1v1H4zM19 54h1v1H19zM0 57h1v1H0zM17 57h1v1H17zM12 58h1v1H12z"/><path fill="#63ff00" d="M14 2h1v1H14zM12 5h1v1H12zM27 5h1v1H27zM27 6h1v1H27zM5 7h1v1H5zM23 8h1v1H23zM23 9h1v1H23zM0 10h1v1H0zM14 10h1v1H14zM14 11h1v1H14zM23 12h1v1H23zM26 13h1v1H26zM0 14h1v1H0zM26 14h1v1H26zM8 15h1v1H8zM21 16h1v1H21zM27 16h1v1H27zM0 17h1v1H0zM18 17h1v1H18zM13 18h1v1H13zM2 19h1v1H2zM9 19h1v1H9zM16 20h1v1H16zM1 21h2v1H1zM10 21h1v1H10zM3 22h1v1H3zM6 23h1v1H6zM18 25h1v1H18zM24 27h1v1H24zM0 28h1v1H0zM15 28h1v1H15zM12 29h1v1H12zM22 30h1v1H22zM8 31h1v1H8zM0 32h1v1H0zM14 32h1v1H14zM2 34h1v1H2zM9 34h1v1H9zM17 34h1v1H17zM12 35h1v1H12zM12 36h1v1H12zM18 36h1v1H18zM27 37h1v1H27zM5 38h1v1H5zM13 38h1v1H13zM8 40h1v1H8zM10 41h1v1H10zM25 42h1v1H25zM8 43h1v1H8zM6 44h1v1H6zM14 44h1v1H14zM12 45h1v1H12zM8 46h1v1H8zM13 46h1v1H13zM21 46h1v1H21zM23 46h1v1H23zM19 47h1v1H19zM23 47h1v1H23zM5 48h1v1H5zM18 48h1v1H18zM16 49h1v1H16zM21 49h1v1H21zM11 50h1v1H11zM14 50h1v1H14zM23 50h2v1H23zM3 52h1v1H3zM21 52h1v1H21zM5 53h1v1H5zM15 53h1v1H15zM24 53h1v1H24zM16 54h1v1H16zM20 54h1v1H20zM25 54h1v1H25zM14 56h1v1H14zM23 57h1v1H23zM27 57h1v1H27zM2 58h1v1H2zM21 58h1v1H21z"/><path fill="#6fff00" d="M2 0h1v1H2zM17 1h1v1H17zM11 3h1v1H11zM26 3h1v1H26zM3 4h1v1H3zM12 4h1v1H12zM0 5h1v1H0zM23 7h1v1H23zM7 8h1v1H7zM5 9h1v1H5zM9 9h1v1H9zM4 10h1v1H4zM24 10h1v1H24zM5 11h1v1H5zM11 11h1v1H11zM24 11h1v1H24zM0 12h1v1H0zM23 13h1v1H23zM25 13h1v1H25zM4 14h1v1H4zM10 15h1v1H10zM26 15h1v1H26zM10 16h1v1H10zM13 16h1v1H13zM19 16h1v1H19zM7 18h1v1H7zM9 18h1v1H9zM1 19h1v1H1zM12 19h1v1H12zM18 20h1v1H18zM9 21h1v1H9zM13 21h1v1H13zM18 22h1v1H18zM25 22h1v1H25zM27 22h1v1H27zM1 23h1v1H1zM8 23h1v1H8zM22 23h1v1H22zM1 25h1v1H1zM13 25h1v1H13zM9 26h1v1H9zM18 26h1v1H18zM9 27h1v1H9zM12 27h1v1H12zM17 27h1v1H17zM3 29h1v1H3zM18 29h1v1H18zM25 29h1v1H25zM25 33h1v1H25zM22 39h1v1H22zM0 40h1v1H0zM5 40h1v1H5zM21 40h1v1H21zM23 41h1v1H23zM7 44h1v1H7zM0 45h1v1H0zM6 45h1v1H6zM2 47h1v1H2zM4 47h1v1H4zM12 47h1v1H12zM27 48h1v1H27zM7 49h1v1H7zM9 50h2v1H9zM17 52h1v1H17zM3 53h1v1H3zM11 53h1v1H11zM17 53h1v1H17zM4 56h1v1H4zM13 56h1v1H13zM24 57h1v1H24zM9 58h2v1H9zM26 58h2v1H26z"/><path fill="#7aff00" d="M7 0h2v1H7zM17 0h1v1H17zM10 1h1v1H10zM7 4h1v1H7zM10 4h1v1H10zM11 5h1v1H11zM22 5h1v1H22zM13 6h1v1H13zM10 7h1v1H10zM12 7h1v1H12zM18 7h1v1H18zM21 7h1v1H21zM4 8h2v1H4zM24 8h1v1H24zM12 10h1v1H12zM1 11h1v1H1zM3 13h1v1H3zM27 13h1v1H27zM15 14h1v1H15zM1 16h1v1H1zM16 16h1v1H16zM18 16h1v1H18zM25 17h2v1H25zM5 20h1v1H5zM25 20h1v1H25zM12 21h1v1H12zM24 21h1v1H24zM10 22h1v1H10zM15 22h1v1H15zM3 24h1v1H3zM14 24h1v1H14zM3 25h1v1H3zM10 25h1v1H10zM26 25h1v1H26zM16 26h1v1H16zM13 29h1v1H13zM27 31h1v1H27zM7 32h1v1H7zM15 32h1v1H15zM20 32h1v1H20zM0 34h1v1H0zM25 34h1v1H25zM4 35h1v1H4zM1 36h1v1H1zM11 37h1v1H11zM12 41h1v1H12zM17 41h1v1H17zM19 41h1v1H19zM9 42h1v1H9zM13 43h1v1H13zM24 45h2v1H24zM9 46h1v1H9zM19 46h2v1H19zM21 48h1v1H21zM26 48h1v1H26zM2 49h1v1H2zM2 50h2v1H2zM5 50h1v1H5zM12 50h1v1H12zM7 51h1v1H7zM23 52h1v1H23zM27 53h1v1H27zM10 54h1v1H10zM15 54h1v1H15zM7 55h1v1H7zM10 55h1v1H10zM23 55h2v1H23zM5 56h1v1H5zM18 56h1v1H18zM27 56h1v1H27zM20 57h1v1H20zM13 58h1v1H13z"/><path fill="#86ff00" d="M5 0h1v1H5zM13 1h1v1H13zM21 1h1v1H21zM16 2h1v1H16zM0 3h1v1H0zM7 3h1v1H7zM27 4h1v1H27zM5 5h1v1H5zM21 5h1v1H21zM16 6h1v1H16zM20 7h1v1H20zM24 7h1v1H24zM9 8h1v1H9zM14 9h1v1H14zM21 9h1v1H21zM9 10h1v1H9zM8 11h1v1H8zM26 11h1v1H26zM11 12h1v1H11zM4 13h1v1H4zM6 14h1v1H6zM16 17h1v1H16zM13 20h1v1H13zM21 20h1v1H21zM26 20h1v1H26zM22 21h1v1H22zM11 23h1v1H11zM23 23h1v1H23zM22 25h1v1H22zM27 25h1v1H27zM4 26h1v1H4zM20 26h1v1H20zM14 27h2v1H14zM2 28h1v1H2zM8 28h1v1H8zM5 31h1v1H5zM11 32h1v1H11zM23 32h1v1H23zM5 33h1v1H5zM19 34h1v1H19zM23 34h1v1H23zM15 35h1v1H15zM20 35h2v1H20zM2 36h1v1H2zM16 36h1v1H16zM20 36h1v1H20zM23 36h1v1H23zM18 37h1v1H18zM11 38h1v1H11zM8 39h1v1H8zM13 39h1v1H13zM2 40h1v1H2zM4 40h1v1H4zM6 40h1v1H6zM26 40h1v1H26zM9 41h1v1H9zM1 42h1v1H1zM8 42h1v1H8zM16 42h1v1H16zM21 42h1v1H21zM27 42h1v1H27zM12 43h1v1H12zM1 44h1v1H1zM18 44h1v1H18zM0 46h1v1H0zM11 46h1v1H11zM9 47h1v1H9zM6 48h1v1H6zM11 48h1v1H11zM5 49h1v1H5zM5 51h1v1H5zM0 52h1v1H0zM5 54h1v1H5zM25 55h1v1H25zM26 56h1v1H26zM21 59h1v1H21z"/><path fill="#91ff00" d="M12 2h1v1H12zM20 2h1v1H20zM25 2h1v1H25zM16 3h1v1H16zM18 4h1v1H18zM22 4h1v1H22zM24 4h1v1H24zM9 5h1v1H9zM1 6h1v1H1zM11 7h1v1H11zM15 8h1v1H15zM16 10h1v1H16zM12 11h1v1H12zM19 11h1v1H19zM8 13h2v1H8zM9 14h1v1H9zM20 14h1v1H20zM14 15h1v1H14zM23 18h1v1H23zM24 19h1v1H24zM20 20h1v1H20zM27 20h1v1H27zM4 21h1v1H4zM20 21h1v1H20zM6 22h1v1H6zM13 26h1v1H13zM27 27h1v1H27zM6 28h1v1H6zM22 28h1v1H22zM25 28h2v1H25zM0 29h1v1H0zM10 30h1v1H10zM17 30h2v1H17zM6 32h1v1H6zM21 32h1v1H21zM8 33h1v1H8zM18 33h2v1H18zM5 34h1v1H5zM20 34h1v1H20zM13 35h1v1H13zM18 35h1v1H18zM26 37h1v1H26zM16 38h1v1H16zM18 38h1v1H18zM1 39h1v1H1zM6 39h1v1H6zM26 39h1v1H26zM14 40h1v1H14zM5 41h1v1H5zM1 43h1v1H1zM10 43h1v1H10zM19 43h1v1H19zM22 44h1v1H22zM27 44h1v1H27zM4 45h1v1H4zM11 45h1v1H11zM7 46h1v1H7zM19 48h1v1H19zM3 49h1v1H3zM6 49h1v1H6zM25 50h1v1H25zM14 51h1v1H14zM8 52h1v1H8zM2 53h1v1H2zM12 54h1v1H12zM23 54h1v1H23zM10 56h1v1H10zM16 59h1v1H16zM22 59h1v1H22z"/><path fill="#9dff00" d="M15 10h1v1H15zM7 17h1v1H7zM16 28h1v1H16zM24 43h1v1H24z"/><path fill="#d6ff00" d="M19 24h1v1H19zM0 26h1v1H0zM14 52h1v1H14z"/><path fill="#e2ff00" d="M7 2h1v1H7zM13 7h1v1H13zM20 11h1v1H20zM19 15h1v1H19zM10 28h1v1H10zM3 35h1v1H3zM24 40h1v1H24zM19 44h1v1H19zM2 45h1v1H2zM22 48h1v1H22zM27 52h1v1H27zM0 53h1v1H0z"/><path fill="#fffc04" d="M3 0h1v1H3zM14 12h1v1H14zM25 14h1v1H25zM5 17h1v1H5zM21 23h1v1H21zM1 26h1v1H1zM25 32h1v1H25zM19 35h1v1H19zM9 37h1v1H9zM18 41h1v1H18zM25 48h1v1H25zM12 51h1v1H12zM3 58h1v1H3z"/><path fill="#fff90b" d="M26 0h1v1H26zM2 1h1v1H2zM26 8h1v1H26zM9 16h1v1H9zM2 17h1v1H2zM6 17h1v1H6zM15 19h1v1H15zM9 20h1v1H9zM20 27h1v1H20zM5 29h1v1H5zM10 36h1v1H10zM14 38h1v1H14zM2 42h1v1H2zM12 42h1v1H12zM12 55h1v1H12zM16 56h1v1H16zM14 57h1v1H14z"/><path fill="#fff612" d="M24 5h1v1H24zM8 7h1v1H8zM18 9h1v1H18zM25 12h1v1H25zM0 13h1v1H0zM12 15h1v1H12zM19 19h1v1H19zM19 25h1v1H19zM20 30h1v1H20zM20 31h1v1H20zM5 32h1v1H5zM22 36h1v1H22zM13 37h1v1H13zM6 38h1v1H6zM23 38h1v1H23zM9 45h2v1H9zM2 46h1v1H2zM7 47h1v1H7zM5 52h1v1H5zM18 57h1v1H18zM22 58h1v1H22z"/><path fill="#fff219" d="M23 3h1v1H23zM23 10h1v1H23zM6 18h1v1H6zM23 21h1v1H23zM8 22h1v1H8zM14 26h1v1H14zM20 28h1v1H20zM8 30h1v1H8zM11 39h1v1H11zM11 43h1v1H11zM16 43h1v1H16zM25 46h1v1H25zM14 47h1v1H14zM4 51h1v1H4zM21 51h1v1H21zM15 52h1v1H15zM22 55h1v1H22zM23 56h1v1H23zM0 58h1v1H0z"/><path fill="#ffef1f" d="M1 4h1v1H1zM17 10h1v1H17zM7 11h1v1H7zM15 11h1v1H15zM20 12h1v1H20zM17 14h1v1H17zM12 31h1v1H12zM7 38h1v1H7zM18 40h1v1H18zM0 43h1v1H0zM12 49h1v1H12z"/><path fill="#ffed26" d="M12 33h1v1H12zM2 37h1v1H2zM2 52h1v1H2zM23 53h1v1H23z"/><path fill="#ffe04e" d="M17 6h1v1H17zM13 9h1v1H13zM19 13h1v1H19zM24 15h1v1H24zM12 18h1v1H12zM27 19h1v1H27zM13 22h1v1H13zM5 26h1v1H5zM11 26h1v1H11zM10 32h1v1H10zM18 32h1v1H18zM10 33h1v1H10zM11 35h1v1H11zM25 53h1v1H25zM7 58h1v1H7z"/><path fill="#ffdf55" d="M17 4h1v1H17zM17 5h1v1H17zM16 8h1v1H16zM0 22h1v1H0zM17 26h1v1H17zM20 29h1v1H20zM15 31h1v1H15zM22 33h1v1H22zM8 34h1v1H8zM25 38h1v1H25zM5 42h1v1H5zM13 45h1v1H13zM3 59h1v1H3zM25 59h1v1H25z"/><path fill="#ffdd5b" d="M0 0h1v1H0zM14 1h1v1H14zM22 2h1v1H22zM9 3h1v1H9zM11 17h1v1H11zM17 18h1v1H17zM5 21h1v1H5zM2 32h1v1H2zM5 35h1v1H5zM25 35h1v1H25zM19 38h1v1H19zM3 40h1v1H3zM10 46h1v1H10zM20 47h1v1H20zM1 54h1v1H1z"/><path fill="#ffdc62" d="M15 1h1v1H15zM19 2h1v1H19zM4 4h1v1H4zM24 13h1v1H24zM1 14h1v1H1zM10 18h1v1H10zM10 20h1v1H10zM7 24h1v1H7zM21 28h1v1H21zM4 33h1v1H4zM22 53h1v1H22zM25 57h1v1H25z"/><path fill="#ffdc69" d="M27 3h1v1H27zM23 31h1v1H23zM1 59h1v1H1z"/><path fill="#ffdea5" d="M27 49h1v1H27zM24 51h1v1H24zM24 52h1v1H24z"/><path fill="#ffdfac" d="M2 5h2v1H2zM9 6h1v1H9zM19 10h1v1H19zM3 15h1v1H3zM12 16h1v1H12zM21 47h1v1H21zM23 48h1v1H23zM0 49h1v1H0zM4 52h1v1H4z"/><path fill="#ffffff" d="M1 0h1v1H1zM6 2h1v1H6zM24 3h1v1H24zM10 6h1v1H10zM20 8h1v1H20zM8 10h1v1H8zM26 12h1v1H26zM11 13h1v1H11zM22 13h1v1H22zM3 14h1v1H3zM24 18h1v1H24zM9 24h1v1H9zM13 24h1v1H13zM25 24h1v1H25zM23 26h1v1H23zM19 28h1v1H19zM14 30h1v1H14zM20 40h1v1H20zM25 41h1v1H25zM25 43h1v1H25zM22 45h1v1H22zM17 51h1v1H17zM4 57h1v1H4zM6 58h1v1H6z"/></svg>
<text class="tt" x="367.39" y="195.1">t = 115</text>
<text class="tk" x="364.89" y="325.86" text-anchor="end">1</text>
<text class="tk" x="364.89" y="315.49" text-anchor="end">6</text>
<text class="tk" x="364.89" y="305.12" text-anchor="end">11</text>
<text class="tk" x="364.89" y="294.75" text-anchor="end">16</text>
<text class="tk" x="364.89" y="284.38" text-anchor="end">21</text>
<text class="tk" x="364.89" y="274.01" text-anchor="end">26</text>
<text class="tk" x="364.89" y="263.64" text-anchor="end">31</text>
<text class="tk" x="364.89" y="253.27" text-anchor="end">36</text>
<text class="tk" x="364.89" y="242.90" text-anchor="end">41</text>
<text class="tk" x="364.89" y="232.53" text-anchor="end">46</text>
<text class="tk" x="364.89" y="222.15" text-anchor="end">51</text>
<text class="tk" x="364.89" y="211.78" text-anchor="end">56</text>
<text class="tk" x="369.75" y="331.80" text-anchor="middle">1</text>
<text class="tk" x="382.09" y="331.80" text-anchor="middle">4</text>
<text class="tk" x="394.43" y="331.80" text-anchor="middle">7</text>
<text class="tk" x="406.78" y="331.80" text-anchor="middle">10</text>
<text class="tk" x="419.12" y="331.80" text-anchor="middle">13</text>
<text class="tk" x="431.46" y="331.80" text-anchor="middle">16</text>
<text class="tk" x="443.80" y="331.80" text-anchor="middle">19</text>
<text class="tk" x="456.15" y="331.80" text-anchor="middle">22</text>
<text class="tk" x="468.49" y="331.80" text-anchor="middle">25</text>
<text class="tk" x="480.83" y="331.80" text-anchor="middle">28</text>
<path d="M365.49 323.41H367.69M365.49 313.04H367.69M365.49 302.67H367.69M365.49 292.30H367.69M365.49 281.93H367.69M365.49 271.56H367.69M365.49 261.19H367.69M365.49 250.82H367.69M365.49 240.45H367.69M365.49 230.08H367.69M365.49 219.70H367.69M365.49 209.33H367.69M369.75 324.45V326.65M382.09 324.45V326.65M394.43 324.45V326.65M406.78 324.45V326.65M419.12 324.45V326.65M431.46 324.45V326.65M443.80 324.45V326.65M456.15 324.45V326.65M468.49 324.45V326.65M480.83 324.45V326.65" stroke="#333" stroke-width="0.75" fill="none"/>
<text class="at" x="425.29" y="341.50" text-anchor="middle">Column</text>
<text class="at" x="0" y="0" text-anchor="middle" transform="translate(353.79,262.23) rotate(-90)">Row</text>
<rect x="490.44" y="215.51" width="3.6" height="103.90" fill="url(#cb)"/>
<text class="cl" x="497.39" y="218.95">0.08</text>
<text class="cl" x="497.39" y="236.15">0.07</text>
<text class="cl" x="497.39" y="253.55">0.06</text>
<text class="cl" x="497.39" y="270.85">0.05</text>
<text class="cl" x="497.39" y="288.15">0.04</text>
<text class="cl" x="497.39" y="305.45">0.03</text>
<svg x="540.46" y="200.0" width="115.2" height="124.45" viewBox="0 0 28 60" preserveAspectRatio="none"><rect width="28" height="60" fill="#49ff00"/><path fill="#3600ff" d="M7 28h1v1H7zM4 37h1v1H4z"/><path fill="#2a00ff" d="M5 3h1v1H5zM15 17h1v1H15zM6 42h1v1H6zM3 48h1v1H3z"/><path fill="#1f00ff" d="M2 12h1v1H2zM25 58h1v1H25z"/><path fill="#0026ff" d="M9 1h1v1H9z"/><path fill="#0032ff" d="M0 24h1v1H0zM12 24h1v1H12zM8 25h1v1H8zM20 25h1v1H20zM12 32h1v1H12zM7 34h1v1H7zM18 34h1v1H18zM26 36h1v1H26z"/><path fill="#003dff" d="M8 2h1v1H8zM8 3h1v1H8zM1 10h1v1H1zM10 23h1v1H10zM27 24h1v1H27zM1 29h1v1H1zM26 29h1v1H26zM24 30h1v1H24zM24 34h1v1H24z"/><path fill="#0049ff" d="M6 1h1v1H6zM5 16h1v1H5zM25 16h1v1H25zM27 21h1v1H27zM10 29h1v1H10zM13 44h1v1H13zM26 44h1v1H26zM20 49h1v1H20zM23 58h1v1H23z"/><path fill="#0054ff" d="M20 3h1v1H20zM2 7h1v1H2zM16 11h1v1H16zM5 23h1v1H5zM1 24h1v1H1zM11 31h1v1H11zM27 36h1v1H27zM14 41h1v1H14zM4 50h1v1H4zM22 52h1v1H22zM3 57h1v1H3z"/><path fill="#0082ff" d="M12 3h1v1H12zM12 14h1v1H12zM1 20h1v1H1zM27 23h1v1H27zM7 27h1v1H7zM4 31h1v1H4zM21 31h1v1H21zM24 39h1v1H24zM22 42h1v1H22zM24 42h1v1H24zM3 44h1v1H3zM11 52h1v1H11z"/><path fill="#008eff" d="M18 2h1v1H18zM19 7h1v1H19zM11 9h1v1H11zM23 17h1v1H23zM5 18h1v1H5zM26 19h1v1H26zM22 20h1v1H22zM14 21h1v1H14zM24 22h1v1H24zM18 23h1v1H18zM15 26h1v1H15zM21 26h1v1H21zM4 27h1v1H4zM11 30h1v1H11zM2 31h1v1H2zM3 34h1v1H3zM0 36h1v1H0zM13 36h1v1H13zM24 38h1v1H24zM9 40h1v1H9zM6 41h1v1H6zM18 42h1v1H18zM2 48h1v1H2zM26 49h1v1H26zM26 50h1v1H26zM9 51h1v1H9zM16 51h1v1H16zM6 52h1v1H6zM26 52h1v1H26zM6 53h1v1H6zM19 53h1v1H19zM2 55h1v1H2zM5 55h1v1H5zM13 55h1v1H13zM25 56h1v1H25zM16 58h1v1H16z"/><path fill="#0099ff" d="M25 5h1v1H25zM15 6h1v1H15zM3 9h1v1H3zM7 10h1v1H7zM17 12h1v1H17zM21 12h1v1H21zM18 13h1v1H18zM18 15h1v1H18zM2 20h1v1H2zM22 22h1v1H22zM24 28h1v1H24zM4 34h1v1H4zM6 35h1v1H6zM15 36h1v1H15zM27 39h1v1H27zM3 41h1v1H3zM18 43h1v1H18zM20 44h1v1H20zM26 47h1v1H26zM11 54h1v1H11zM24 54h1v1H24zM0 56h1v1H0zM1 57h1v1H1zM6 59h1v1H6z"/><path fill="#00a4ff" d="M0 2h1v1H0zM17 2h1v1H17zM1 3h1v1H1zM17 3h1v1H17zM4 7h1v1H4zM3 8h1v1H3zM8 8h1v1H8zM25 9h1v1H25zM6 12h1v1H6zM18 14h2v1H18zM20 17h1v1H20zM14 20h1v1H14zM23 22h1v1H23zM11 24h1v1H11zM18 28h1v1H18zM24 29h1v1H24zM2 33h1v1H2zM23 33h1v1H23zM0 39h1v1H0zM9 39h1v1H9zM16 39h1v1H16zM23 39h1v1H23zM22 40h1v1H22zM4 44h1v1H4zM14 45h1v1H14zM4 46h1v1H4zM16 46h1v1H16zM25 49h1v1H25zM6 50h1v1H6zM27 59h1v1H27z"/><path fill="#00b0ff" d="M21 2h1v1H21zM12 6h1v1H12zM15 13h1v1H15zM13 14h1v1H13zM5 15h1v1H5zM17 24h1v1H17zM5 43h1v1H5zM9 43h1v1H9zM22 43h1v1H22zM5 46h1v1H5zM11 56h1v1H11z"/><path fill="#00d2ff" d="M24 0h1v1H24zM4 1h1v1H4zM11 1h1v1H11zM14 3h2v1H14zM16 4h1v1H16zM18 6h1v1H18zM26 6h1v1H26zM22 7h1v1H22zM10 8h1v1H10zM10 11h1v1H10zM17 11h1v1H17zM21 11h1v1H21zM1 12h1v1H1zM7 13h1v1H7zM19 17h1v1H19zM17 19h1v1H17zM22 19h1v1H22zM25 30h1v1H25zM9 31h1v1H9zM3 32h1v1H3zM27 35h1v1H27zM3 36h1v1H3zM3 37h1v1H3zM20 38h1v1H20zM0 41h1v1H0zM22 41h1v1H22zM24 41h1v1H24zM15 43h1v1H15zM9 44h1v1H9zM21 45h1v1H21zM11 47h1v1H11zM8 48h1v1H8zM12 48h1v1H12zM27 54h1v1H27zM10 57h1v1H10zM20 59h1v1H20z"/><path fill="#00deff" d="M11 0h2v1H11zM3 1h1v1H3zM22 1h1v1H22zM13 2h1v1H13zM4 3h1v1H4zM14 7h1v1H14zM6 8h1v1H6zM9 11h1v1H9zM21 15h1v1H21zM7 16h1v1H7zM11 16h1v1H11zM3 17h2v1H3zM14 17h1v1H14zM0 19h1v1H0zM4 20h1v1H4zM6 20h1v1H6zM19 20h1v1H19zM23 20h1v1H23zM11 21h1v1H11zM25 21h1v1H25zM20 22h1v1H20zM7 23h1v1H7zM17 23h1v1H17zM14 25h1v1H14zM2 26h1v1H2zM10 26h1v1H10zM15 29h1v1H15zM12 30h1v1H12zM23 30h1v1H23zM7 36h1v1H7zM5 37h1v1H5zM12 38h1v1H12zM11 40h1v1H11zM17 45h1v1H17zM19 45h1v1H19zM1 46h1v1H1zM12 46h1v1H12zM17 46h1v1H17zM10 49h1v1H10zM7 50h1v1H7zM16 50h1v1H16zM20 50h1v1H20zM15 51h1v1H15zM23 51h1v1H23zM8 53h1v1H8zM26 53h1v1H26zM21 55h1v1H21zM21 56h1v1H21zM15 58h1v1H15zM8 59h2v1H8z"/><path fill="#00ff49" d="M0 1h1v1H0zM9 4h1v1H9zM26 4h1v1H26zM8 5h1v1H8zM14 5h1v1H14zM26 5h1v1H26zM26 7h1v1H26zM2 8h1v1H2zM19 8h1v1H19zM27 8h1v1H27zM3 10h1v1H3zM13 10h1v1H13zM4 11h1v1H4zM27 12h1v1H27zM1 13h1v1H1zM23 14h1v1H23zM3 16h1v1H3zM6 16h1v1H6zM1 17h1v1H1zM9 17h1v1H9zM22 17h1v1H22zM11 18h1v1H11zM21 18h1v1H21zM16 19h1v1H16zM0 21h1v1H0zM3 21h1v1H3zM12 22h1v1H12zM19 22h1v1H19zM2 23h1v1H2zM23 24h1v1H23zM7 25h1v1H7zM9 25h1v1H9zM7 26h1v1H7zM9 28h1v1H9zM9 33h1v1H9zM23 35h1v1H23zM24 36h1v1H24zM8 37h1v1H8zM22 37h1v1H22zM8 38h1v1H8zM17 39h1v1H17zM25 40h1v1H25zM13 41h1v1H13zM22 49h1v1H22zM15 50h1v1H15zM1 52h1v1H1zM26 54h1v1H26zM8 58h1v1H8zM19 58h1v1H19z"/><path fill="#00ff3d" d="M27 0h1v1H27zM13 5h1v1H13zM8 6h1v1H8zM14 6h1v1H14zM17 9h1v1H17zM26 9h2v1H26zM18 10h1v1H18zM22 10h1v1H22zM10 12h1v1H10zM24 14h1v1H24zM1 15h1v1H1zM23 15h1v1H23zM27 15h1v1H27zM4 16h1v1H4zM24 16h1v1H24zM12 17h2v1H12zM0 18h1v1H0zM6 19h1v1H6zM8 19h1v1H8zM11 19h1v1H11zM12 20h1v1H12zM2 22h1v1H2zM6 24h1v1H6zM24 24h1v1H24zM21 25h1v1H21zM22 27h1v1H22zM14 28h1v1H14zM16 32h1v1H16zM27 34h1v1H27zM2 35h1v1H2zM16 35h1v1H16zM12 37h1v1H12zM23 37h2v1H23zM2 38h1v1H2zM15 38h1v1H15zM26 41h1v1H26zM6 43h1v1H6zM3 45h1v1H3zM10 47h1v1H10zM18 49h1v1H18zM8 50h1v1H8zM22 50h1v1H22zM2 51h1v1H2zM20 51h1v1H20zM4 53h1v1H4zM0 54h1v1H0zM16 55h2v1H16zM20 55h1v1H20zM27 55h1v1H27zM26 57h1v1H26zM10 59h1v1H10z"/><path fill="#00ff32" d="M16 0h1v1H16zM19 0h1v1H19zM2 2h1v1H2zM15 5h1v1H15zM9 12h1v1H9zM14 35h1v1H14zM13 42h1v1H13zM19 51h1v1H19zM12 56h1v1H12z"/><path fill="#08ff00" d="M6 0h1v1H6zM2 4h1v1H2zM26 21h1v1H26zM8 24h1v1H8zM4 39h1v1H4zM3 43h1v1H3zM8 54h1v1H8zM17 56h1v1H17zM24 56h1v1H24z"/><path fill="#13ff00" d="M23 0h1v1H23zM24 1h1v1H24zM6 3h1v1H6zM8 4h1v1H8zM6 5h1v1H6zM19 5h1v1H19zM6 6h1v1H6zM19 6h1v1H19zM24 6h1v1H24zM0 7h1v1H0zM9 7h1v1H9zM11 8h1v1H11zM4 9h1v1H4zM8 9h1v1H8zM2 10h1v1H2zM0 11h1v1H0zM3 12h1v1H3zM8 12h1v1H8zM16 12h1v1H16zM16 13h1v1H16zM2 15h1v1H2zM4 15h1v1H4zM11 15h1v1H11zM15 15h1v1H15zM22 16h1v1H22zM8 18h1v1H8zM27 18h1v1H27zM25 19h1v1H25zM15 20h1v1H15zM24 20h1v1H24zM8 21h1v1H8zM15 21h1v1H15zM16 22h1v1H16zM4 23h1v1H4zM15 23h1v1H15zM19 23h1v1H19zM4 24h1v1H4zM22 24h1v1H22zM19 26h1v1H19zM0 27h1v1H0zM9 29h1v1H9zM0 30h1v1H0zM9 30h1v1H9zM19 30h1v1H19zM26 30h1v1H26zM0 31h1v1H0zM3 31h1v1H3zM16 31h1v1H16zM18 31h1v1H18zM26 31h1v1H26zM19 32h1v1H19zM27 32h1v1H27zM11 33h1v1H11zM14 33h1v1H14zM1 34h1v1H1zM10 34h1v1H10zM12 34h1v1H12zM8 35h1v1H8zM4 36h1v1H4zM0 37h1v1H0zM6 37h1v1H6zM17 38h1v1H17zM22 38h1v1H22zM14 39h1v1H14zM7 40h1v1H7zM15 40h1v1H15zM14 42h1v1H14zM7 43h1v1H7zM8 44h1v1H8zM11 44h1v1H11zM16 44h1v1H16zM21 44h1v1H21zM5 45h1v1H5zM18 46h1v1H18zM24 46h1v1H24zM6 47h1v1H6zM0 48h1v1H0zM4 48h1v1H4zM15 49h1v1H15zM3 51h1v1H3zM7 52h1v1H7zM12 53h1v1H12zM13 54h1v1H13zM17 54h1v1H17zM1 55h1v1H1zM8 55h1v1H8zM19 55h1v1H19zM20 56h1v1H20zM14 58h1v1H14zM0 59h1v1H0zM12 59h1v1H12zM15 59h1v1H15z"/><path fill="#1fff00" d="M21 0h1v1H21zM18 1h1v1H18zM27 1h1v1H27zM11 2h1v1H11zM23 2h1v1H23zM0 4h1v1H0zM5 4h1v1H5zM23 5h1v1H23zM11 6h1v1H11zM16 7h1v1H16zM1 8h1v1H1zM22 8h1v1H22zM10 9h1v1H10zM12 9h1v1H12zM24 9h1v1H24zM10 10h1v1H10zM13 11h1v1H13zM18 11h1v1H18zM15 12h1v1H15zM18 12h1v1H18zM6 13h1v1H6zM5 14h1v1H5zM10 14h1v1H10zM4 19h1v1H4zM20 19h2v1H20zM3 20h1v1H3zM11 20h1v1H11zM16 21h1v1H16zM1 22h1v1H1zM9 22h1v1H9zM11 22h1v1H11zM21 24h1v1H21zM11 25h1v1H11zM23 25h1v1H23zM25 26h2v1H25zM2 27h1v1H2zM19 27h1v1H19zM23 27h1v1H23zM26 27h1v1H26zM1 28h1v1H1zM3 28h2v1H3zM17 28h1v1H17zM8 29h1v1H8zM23 29h1v1H23zM7 30h1v1H7zM14 31h1v1H14zM19 31h1v1H19zM22 31h1v1H22zM13 32h1v1H13zM20 33h2v1H20zM6 36h1v1H6zM25 36h1v1H25zM10 37h1v1H10zM14 37h1v1H14zM21 37h1v1H21zM7 39h1v1H7zM15 39h1v1H15zM18 39h1v1H18zM1 40h1v1H1zM16 41h1v1H16zM0 42h1v1H0zM3 42h1v1H3zM10 42h1v1H10zM17 43h1v1H17zM0 44h1v1H0zM6 46h1v1H6zM10 48h1v1H10zM15 48h1v1H15zM18 50h1v1H18zM0 51h1v1H0zM18 51h1v1H18zM25 51h1v1H25zM18 53h1v1H18zM9 54h1v1H9zM9 55h1v1H9zM6 56h2v1H6zM6 57h1v1H6zM1 58h1v1H1zM5 58h1v1H5zM11 58h1v1H11zM26 59h1v1H26z"/><path fill="#2aff00" d="M20 0h1v1H20zM5 1h1v1H5zM7 1h1v1H7zM9 2h1v1H9zM24 2h1v1H24zM27 2h1v1H27zM13 4h2v1H13zM18 5h1v1H18zM20 5h1v1H20zM5 6h1v1H5zM22 6h1v1H22zM7 7h1v1H7zM25 7h1v1H25zM13 8h1v1H13zM0 9h2v1H0zM19 9h1v1H19zM5 10h1v1H5zM11 10h1v1H11zM21 10h1v1H21zM25 11h1v1H25zM27 11h1v1H27zM12 12h1v1H12zM19 12h1v1H19zM22 12h1v1H22zM5 13h1v1H5zM10 13h1v1H10zM12 13h1v1H12zM20 13h1v1H20zM27 14h1v1H27zM22 15h1v1H22zM4 18h1v1H4zM14 18h1v1H14zM22 18h1v1H22zM3 19h1v1H3zM17 21h1v1H17zM4 22h1v1H4zM16 23h1v1H16zM5 25h1v1H5zM25 25h1v1H25zM6 26h1v1H6zM1 27h1v1H1zM14 29h1v1H14zM22 29h1v1H22zM13 30h1v1H13zM1 31h1v1H1zM7 31h1v1H7zM10 31h1v1H10zM17 31h1v1H17zM22 32h1v1H22zM1 33h1v1H1zM27 33h1v1H27zM17 35h1v1H17zM24 35h1v1H24zM11 36h1v1H11zM17 36h1v1H17zM3 38h1v1H3zM16 40h1v1H16zM23 42h1v1H23zM2 44h1v1H2zM17 44h1v1H17zM23 44h1v1H23zM7 45h1v1H7zM20 45h1v1H20zM1 47h1v1H1zM9 49h1v1H9zM19 49h1v1H19zM23 49h1v1H23zM1 50h1v1H1zM11 51h1v1H11zM10 52h1v1H10zM1 53h1v1H1zM7 54h1v1H7zM22 54h1v1H22zM0 55h1v1H0zM3 55h1v1H3zM15 55h1v1H15zM2 57h1v1H2zM7 57h1v1H7zM19 57h1v1H19zM18 58h1v1H18zM24 58h1v1H24zM7 59h1v1H7zM14 59h1v1H14zM23 59h1v1H23z"/><path fill="#36ff00" d="M4 0h1v1H4zM10 0h1v1H10zM12 1h1v1H12zM26 1h1v1H26zM15 2h1v1H15zM10 3h1v1H10zM21 4h1v1H21zM10 5h1v1H10zM0 6h1v1H0zM20 6h2v1H20zM1 7h1v1H1zM15 7h1v1H15zM17 8h1v1H17zM7 9h1v1H7zM15 9h2v1H15zM6 10h1v1H6zM4 12h2v1H4zM24 12h1v1H24zM17 13h1v1H17zM2 14h1v1H2zM16 14h1v1H16zM21 17h1v1H21zM18 18h1v1H18zM25 18h2v1H25zM5 19h1v1H5zM14 19h1v1H14zM23 19h1v1H23zM18 21h1v1H18zM21 21h1v1H21zM5 22h1v1H5zM7 22h1v1H7zM17 22h1v1H17zM9 23h1v1H9zM13 23h2v1H13zM24 23h1v1H24zM18 24h1v1H18zM15 25h1v1H15zM24 25h1v1H24zM27 26h1v1H27zM6 27h1v1H6zM10 27h1v1H10zM16 27h1v1H16zM18 27h1v1H18zM23 28h1v1H23zM16 29h2v1H16zM3 30h1v1H3zM15 30h1v1H15zM4 32h1v1H4zM6 33h2v1H6zM11 34h1v1H11zM16 34h1v1H16zM26 34h1v1H26zM9 35h1v1H9zM26 35h1v1H26zM5 36h1v1H5zM19 36h1v1H19zM1 37h1v1H1zM25 37h1v1H25zM10 38h1v1H10zM26 38h1v1H26zM10 39h1v1H10zM12 39h1v1H12zM20 39h1v1H20zM10 40h1v1H10zM23 40h1v1H23zM15 41h1v1H15zM27 41h1v1H27zM20 42h1v1H20zM26 42h1v1H26zM2 43h1v1H2zM23 43h1v1H23zM27 43h1v1H27zM23 45h1v1H23zM14 46h1v1H14zM22 46h1v1H22zM13 47h1v1H13zM16 47h1v1H16zM16 48h2v1H16zM1 49h1v1H1zM13 49h1v1H13zM13 50h1v1H13zM17 50h1v1H17zM13 51h1v1H13zM16 52h1v1H16zM9 53h1v1H9zM13 53h1v1H13zM20 53h2v1H20zM18 55h1v1H18zM1 56h1v1H1zM15 56h1v1H15zM19 56h1v1H19zM22 56h1v1H22zM13 57h1v1H13zM4 58h1v1H4zM17 59h1v1H17z"/><path fill="#41ff00" d="M8 1h1v1H8zM25 1h1v1H25zM1 2h1v1H1zM10 2h1v1H10zM3 3h1v1H3zM13 3h1v1H13zM21 3h1v1H21zM15 4h1v1H15zM20 4h1v1H20zM16 5h1v1H16zM21 8h1v1H21zM25 8h1v1H25zM2 9h1v1H2zM22 9h1v1H22zM26 10h1v1H26zM3 11h1v1H3zM6 11h1v1H6zM13 12h1v1H13zM2 13h1v1H2zM8 14h1v1H8zM15 16h1v1H15zM17 16h1v1H17zM23 16h1v1H23zM8 17h1v1H8zM10 17h1v1H10zM2 18h1v1H2zM16 18h1v1H16zM13 19h1v1H13zM6 21h1v1H6zM0 23h1v1H0zM3 23h1v1H3zM10 24h1v1H10zM20 24h1v1H20zM16 25h1v1H16zM12 26h1v1H12zM8 27h1v1H8zM5 28h1v1H5zM27 28h1v1H27zM2 29h1v1H2zM6 29h1v1H6zM19 29h1v1H19zM4 30h1v1H4zM24 31h2v1H24zM24 32h1v1H24zM14 34h1v1H14zM0 35h1v1H0zM7 35h1v1H7zM14 36h1v1H14zM21 36h1v1H21zM19 37h1v1H19zM2 39h1v1H2zM5 39h1v1H5zM17 40h1v1H17zM2 41h1v1H2zM17 42h1v1H17zM4 43h1v1H4zM14 43h1v1H14zM26 43h1v1H26zM1 45h1v1H1zM26 45h1v1H26zM5 47h1v1H5zM15 47h1v1H15zM22 47h1v1H22zM24 47h1v1H24zM7 48h1v1H7zM13 48h1v1H13zM20 48h1v1H20zM14 49h1v1H14zM24 49h1v1H24zM1 51h1v1H1zM26 51h1v1H26zM9 52h1v1H9zM7 53h1v1H7zM2 54h2v1H2zM6 54h1v1H6zM14 54h1v1H14zM18 54h1v1H18zM6 55h1v1H6zM3 56h1v1H3zM8 56h1v1H8zM8 57h2v1H8zM15 57h2v1H15zM20 58h1v1H20zM19 59h1v1H19z"/><path fill="#4dff00" d="M9 0h1v1H9zM13 0h1v1H13zM18 3h1v1H18zM6 4h1v1H6zM23 4h1v1H23zM4 5h1v1H4zM7 5h1v1H7zM2 6h1v1H2zM7 6h1v1H7zM18 8h1v1H18zM20 9h1v1H20zM25 10h1v1H25zM27 10h1v1H27zM23 11h1v1H23zM7 12h1v1H7zM21 13h1v1H21zM21 14h2v1H21zM7 15h1v1H7zM16 15h1v1H16zM25 15h1v1H25zM2 16h1v1H2zM20 16h1v1H20zM24 17h1v1H24zM1 18h1v1H1zM18 19h1v1H18zM8 20h1v1H8zM19 21h1v1H19zM12 23h1v1H12zM20 23h1v1H20zM16 24h1v1H16zM22 26h1v1H22zM3 27h1v1H3zM11 27h1v1H11zM13 27h1v1H13zM12 28h1v1H12zM7 29h1v1H7zM1 30h1v1H1zM6 31h1v1H6zM17 32h1v1H17zM0 33h1v1H0zM17 33h1v1H17zM22 34h1v1H22zM9 36h1v1H9zM17 37h1v1H17zM0 38h2v1H0zM9 38h1v1H9zM1 41h1v1H1zM7 41h1v1H7zM24 44h1v1H24zM8 45h1v1H8zM15 45h2v1H15zM3 46h1v1H3zM0 47h1v1H0zM3 47h1v1H3zM24 48h1v1H24zM17 49h1v1H17zM0 50h1v1H0zM21 50h1v1H21zM8 51h1v1H8zM22 51h1v1H22zM27 51h1v1H27zM13 52h1v1H13zM20 52h1v1H20zM10 53h1v1H10zM21 54h1v1H21zM4 55h1v1H4zM9 56h1v1H9zM11 57h2v1H11zM22 57h1v1H22zM17 58h1v1H17zM4 59h1v1H4zM11 59h1v1H11zM13 59h1v1H13zM24 59h1v1H24z"/><path fill="#58ff00" d="M14 0h1v1H14zM25 0h1v1H25zM1 1h1v1H1zM20 1h1v1H20zM19 3h1v1H19zM25 3h1v1H25zM11 4h1v1H11zM25 4h1v1H25zM13 13h2v1H13zM11 14h1v1H11zM6 15h1v1H6zM9 15h1v1H9zM14 16h1v1H14zM17 17h1v1H17zM27 17h1v1H27zM19 18h2v1H19zM7 19h1v1H7zM0 20h1v1H0zM7 21h1v1H7zM26 23h1v1H26zM2 24h1v1H2zM15 24h1v1H15zM3 26h1v1H3zM8 26h1v1H8zM24 26h1v1H24zM25 27h1v1H25zM4 29h1v1H4zM9 32h1v1H9zM26 32h1v1H26zM3 33h1v1H3zM15 33h2v1H15zM15 34h1v1H15zM21 34h1v1H21zM7 37h1v1H7zM20 37h1v1H20zM21 38h1v1H21zM19 39h1v1H19zM11 41h1v1H11zM21 41h1v1H21zM4 42h1v1H4zM11 42h1v1H11zM15 42h1v1H15zM21 43h1v1H21zM10 44h1v1H10zM12 44h1v1H12zM18 45h1v1H18zM15 46h1v1H15zM17 47h2v1H17zM1 48h1v1H1zM14 48h1v1H14zM19 50h1v1H19zM27 50h1v1H27zM6 51h1v1H6zM10 51h1v1H10zM18 52h1v1H18zM25 52h1v1H25zM14 53h1v1H14zM26 55h1v1H26zM2 56h1v1H2zM5 57h1v1H5zM21 57h1v1H21zM5 59h1v1H5z"/><path fill="#63ff00" d="M15 0h1v1H15zM19 1h1v1H19zM3 2h1v1H3zM26 2h1v1H26zM2 3h1v1H2zM22 3h1v1H22zM19 4h1v1H19zM1 5h1v1H1zM23 6h1v1H23zM25 6h1v1H25zM3 7h1v1H3zM14 8h1v1H14zM6 9h1v1H6zM2 11h1v1H2zM22 11h1v1H22zM14 14h1v1H14zM0 15h1v1H0zM13 15h1v1H13zM20 15h1v1H20zM0 16h1v1H0zM8 16h1v1H8zM26 16h1v1H26zM3 18h1v1H3zM14 22h1v1H14zM25 23h1v1H25zM5 24h1v1H5zM0 25h1v1H0zM2 25h1v1H2zM4 25h1v1H4zM6 25h1v1H6zM12 25h1v1H12zM17 25h1v1H17zM5 27h1v1H5zM11 28h1v1H11zM13 28h1v1H13zM11 29h1v1H11zM2 30h1v1H2zM6 30h1v1H6zM27 30h1v1H27zM1 32h1v1H1zM13 33h1v1H13zM26 33h1v1H26zM6 34h1v1H6zM13 34h1v1H13zM8 36h1v1H8zM15 37h1v1H15zM3 39h1v1H3zM21 39h1v1H21zM25 39h1v1H25zM12 40h1v1H12zM19 40h1v1H19zM4 41h1v1H4zM19 42h1v1H19zM20 43h1v1H20zM25 44h1v1H25zM26 46h1v1H26zM27 47h1v1H27zM19 52h1v1H19zM11 55h1v1H11zM14 55h1v1H14zM2 59h1v1H2zM18 59h1v1H18z"/><path fill="#6fff00" d="M18 0h1v1H18zM22 0h1v1H22zM16 1h1v1H16zM23 1h1v1H23zM4 2h2v1H4zM27 5h1v1H27zM3 6h2v1H3zM5 7h2v1H5zM17 7h1v1H17zM27 7h1v1H27zM0 8h1v1H0zM12 8h1v1H12zM20 10h1v1H20zM7 14h1v1H7zM17 15h1v1H17zM15 18h1v1H15zM9 19h2v1H9zM7 20h1v1H7zM17 20h1v1H17zM21 22h1v1H21zM26 22h1v1H26zM26 24h1v1H26zM21 27h1v1H21zM21 29h1v1H21zM27 29h1v1H27zM5 30h1v1H5zM16 30h1v1H16zM21 30h1v1H21zM13 31h1v1H13zM8 32h1v1H8zM24 33h1v1H24zM17 34h1v1H17zM1 35h1v1H1zM10 35h1v1H10zM22 35h1v1H22zM16 37h1v1H16zM4 38h1v1H4zM27 38h1v1H27zM13 40h1v1H13zM27 40h1v1H27zM8 41h1v1H8zM20 41h1v1H20zM7 42h1v1H7zM5 44h1v1H5zM14 44h2v1H14zM27 45h1v1H27zM23 46h1v1H23zM27 46h1v1H27zM8 47h1v1H8zM25 47h1v1H25zM5 48h1v1H5zM9 48h1v1H9zM4 49h1v1H4zM8 49h1v1H8zM11 49h1v1H11zM12 52h1v1H12zM16 53h1v1H16zM4 54h1v1H4zM19 54h1v1H19zM0 57h1v1H0zM17 57h1v1H17zM12 58h1v1H12zM21 58h1v1H21z"/><path fill="#7aff00" d="M14 2h1v1H14zM12 5h1v1H12zM27 6h1v1H27zM7 8h1v1H7zM23 8h1v1H23zM23 9h1v1H23zM0 10h1v1H0zM14 10h1v1H14zM24 10h1v1H24zM5 11h1v1H5zM14 11h1v1H14zM23 12h1v1H23zM26 13h1v1H26zM0 14h1v1H0zM26 14h1v1H26zM8 15h1v1H8zM21 16h1v1H21zM27 16h1v1H27zM0 17h1v1H0zM18 17h1v1H18zM13 18h1v1H13zM2 19h1v1H2zM16 20h1v1H16zM1 21h2v1H1zM9 21h2v1H9zM3 22h1v1H3zM6 23h1v1H6zM18 25h1v1H18zM24 27h1v1H24zM0 28h1v1H0zM15 28h1v1H15zM12 29h1v1H12zM22 30h1v1H22zM8 31h1v1H8zM0 32h1v1H0zM14 32h1v1H14zM2 34h1v1H2zM9 34h1v1H9zM12 35h1v1H12zM12 36h1v1H12zM18 36h1v1H18zM27 37h1v1H27zM5 38h1v1H5zM13 38h1v1H13zM8 40h1v1H8zM10 41h1v1H10zM25 42h1v1H25zM8 43h1v1H8zM6 44h1v1H6zM12 45h1v1H12zM8 46h1v1H8zM13 46h1v1H13zM21 46h1v1H21zM19 47h1v1H19zM23 47h1v1H23zM18 48h1v1H18zM16 49h1v1H16zM21 49h1v1H21zM11 50h1v1H11zM14 50h1v1H14zM23 50h2v1H23zM3 52h1v1H3zM21 52h1v1H21zM5 53h1v1H5zM15 53h1v1H15zM24 53h1v1H24zM16 54h1v1H16zM20 54h1v1H20zM25 54h1v1H25zM14 56h1v1H14zM23 57h1v1H23zM27 57h1v1H27zM2 58h1v1H2zM27 58h1v1H27z"/><path fill="#86ff00" d="M2 0h1v1H2zM17 1h1v1H17zM11 3h1v1H11zM26 3h1v1H26zM3 4h1v1H3zM12 4h1v1H12zM0 5h1v1H0zM23 7h1v1H23zM5 9h1v1H5zM9 9h1v1H9zM4 10h1v1H4zM11 11h1v1H11zM24 11h1v1H24zM0 12h1v1H0zM23 13h1v1H23zM25 13h1v1H25zM4 14h1v1H4zM10 15h1v1H10zM26 15h1v1H26zM10 16h1v1H10zM13 16h1v1H13zM19 16h1v1H19zM7 18h1v1H7zM9 18h1v1H9zM1 19h1v1H1zM12 19h1v1H12zM18 20h1v1H18zM13 21h1v1H13zM18 22h1v1H18zM25 22h1v1H25zM27 22h1v1H27zM1 23h1v1H1zM8 23h1v1H8zM22 23h1v1H22zM1 25h1v1H1zM13 25h1v1H13zM9 26h1v1H9zM18 26h1v1H18zM9 27h1v1H9zM12 27h1v1H12zM17 27h1v1H17zM3 29h1v1H3zM18 29h1v1H18zM25 29h1v1H25zM25 33h1v1H25zM22 39h1v1H22zM0 40h1v1H0zM5 40h1v1H5zM21 40h1v1H21zM23 41h1v1H23zM7 44h1v1H7zM0 45h1v1H0zM6 45h1v1H6zM2 47h1v1H2zM4 47h1v1H4zM12 47h1v1H12zM27 48h1v1H27zM7 49h1v1H7zM9 50h2v1H9zM17 52h1v1H17zM3 53h1v1H3zM11 53h1v1H11zM17 53h1v1H17zM4 56h1v1H4zM13 56h1v1H13zM24 57h1v1H24zM9 58h2v1H9zM26 58h1v1H26z"/><path fill="#91ff00" d="M7 0h2v1H7zM17 0h1v1H17zM10 1h1v1H10zM7 4h1v1H7zM10 4h1v1H10zM11 5h1v1H11zM22 5h1v1H22zM13 6h1v1H13zM10 7h1v1H10zM18 7h1v1H18zM21 7h1v1H21zM4 8h2v1H4zM24 8h1v1H24zM12 10h1v1H12zM1 11h1v1H1zM3 13h1v1H3zM27 13h1v1H27zM15 14h1v1H15zM1 16h1v1H1zM16 16h1v1H16zM18 16h1v1H18zM25 17h2v1H25zM5 20h1v1H5zM25 20h1v1H25zM12 21h1v1H12zM10 22h1v1H10zM15 22h1v1H15zM3 24h1v1H3zM14 24h1v1H14zM3 25h1v1H3zM10 25h1v1H10zM26 25h1v1H26zM16 26h1v1H16zM13 29h1v1H13zM27 31h1v1H27zM7 32h1v1H7zM15 32h1v1H15zM20 32h1v1H20zM0 34h1v1H0zM25 34h1v1H25zM4 35h1v1H4zM1 36h1v1H1zM11 37h1v1H11zM12 41h1v1H12zM17 41h1v1H17zM19 41h1v1H19zM9 42h1v1H9zM13 43h1v1H13zM24 45h2v1H24zM9 46h1v1H9zM19 46h2v1H19zM21 48h1v1H21zM26 48h1v1H26zM2 49h1v1H2zM2 50h2v1H2zM5 50h1v1H5zM12 50h1v1H12zM7 51h1v1H7zM23 52h1v1H23zM27 53h1v1H27zM10 54h1v1H10zM15 54h1v1H15zM7 55h1v1H7zM10 55h1v1H10zM24 55h1v1H24zM5 56h1v1H5zM18 56h1v1H18zM20 57h1v1H20zM13 58h1v1H13z"/><path fill="#9dff00" d="M5 0h1v1H5zM13 1h1v1H13zM21 1h1v1H21zM16 2h1v1H16zM0 3h1v1H0zM7 3h1v1H7zM27 4h1v1H27zM21 5h1v1H21zM16 6h1v1H16zM12 7h1v1H12zM20 7h1v1H20zM24 7h1v1H24zM9 8h1v1H9zM14 9h1v1H14zM21 9h1v1H21zM9 10h1v1H9zM26 11h1v1H26zM11 12h1v1H11zM4 13h1v1H4zM16 17h1v1H16zM13 20h1v1H13zM21 20h1v1H21zM26 20h1v1H26zM22 21h1v1H22zM24 21h1v1H24zM11 23h1v1H11zM27 25h1v1H27zM20 26h1v1H20zM14 27h1v1H14zM2 28h1v1H2zM11 32h1v1H11zM23 32h1v1H23zM5 33h1v1H5zM19 34h1v1H19zM23 34h1v1H23zM15 35h1v1H15zM20 35h2v1H20zM16 36h1v1H16zM20 36h1v1H20zM23 36h1v1H23zM18 37h1v1H18zM8 39h1v1H8zM13 39h1v1H13zM2 40h1v1H2zM4 40h1v1H4zM6 40h1v1H6zM26 40h1v1H26zM9 41h1v1H9zM1 42h1v1H1zM8 42h1v1H8zM16 42h1v1H16zM27 42h1v1H27zM12 43h1v1H12zM1 44h1v1H1zM18 44h1v1H18zM0 46h1v1H0zM11 46h1v1H11zM6 48h1v1H6zM11 48h1v1H11zM5 49h1v1H5zM5 51h1v1H5zM5 54h1v1H5zM23 55h1v1H23zM25 55h1v1H25zM26 56h2v1H26zM21 59h1v1H21z"/><path fill="#a8ff00" d="M12 2h1v1H12zM20 2h1v1H20zM25 2h1v1H25zM16 3h1v1H16zM18 4h1v1H18zM22 4h1v1H22zM24 4h1v1H24zM5 5h1v1H5zM9 5h1v1H9zM1 6h1v1H1zM11 7h1v1H11zM15 8h1v1H15zM16 10h1v1H16zM8 11h1v1H8zM8 13h2v1H8zM6 14h1v1H6zM9 14h1v1H9zM20 14h1v1H20zM14 15h1v1H14zM23 18h1v1H23zM24 19h1v1H24zM20 20h1v1H20zM4 21h1v1H4zM20 21h1v1H20zM6 22h1v1H6zM23 23h1v1H23zM22 25h1v1H22zM4 26h1v1H4zM15 27h1v1H15zM27 27h1v1H27zM6 28h1v1H6zM8 28h1v1H8zM25 28h2v1H25zM0 29h1v1H0zM10 30h1v1H10zM18 30h1v1H18zM5 31h1v1H5zM6 32h1v1H6zM21 32h1v1H21zM8 33h1v1H8zM18 33h2v1H18zM5 34h1v1H5zM20 34h1v1H20zM13 35h1v1H13zM18 35h1v1H18zM2 36h1v1H2zM11 38h1v1H11zM16 38h1v1H16zM1 39h1v1H1zM6 39h1v1H6zM14 40h1v1H14zM5 41h1v1H5zM21 42h1v1H21zM1 43h1v1H1zM10 43h1v1H10zM22 44h1v1H22zM27 44h1v1H27zM4 45h1v1H4zM7 46h1v1H7zM9 47h1v1H9zM0 52h1v1H0zM8 52h1v1H8zM2 53h1v1H2zM23 54h1v1H23zM10 56h1v1H10zM16 59h1v1H16zM22 59h1v1H22z"/><path fill="#b4ff00" d="M15 10h1v1H15zM12 11h1v1H12zM19 11h1v1H19zM7 17h1v1H7zM27 20h1v1H27zM13 26h1v1H13zM16 28h1v1H16zM22 28h1v1H22zM17 30h1v1H17zM26 37h1v1H26zM18 38h1v1H18zM26 39h1v1H26zM19 43h1v1H19zM24 43h1v1H24zM11 45h1v1H11zM19 48h1v1H19zM3 49h1v1H3zM6 49h1v1H6zM25 50h1v1H25zM14 51h1v1H14zM12 54h1v1H12z"/><path fill="#fff90b" d="M13 7h1v1H13zM19 15h1v1H19zM19 24h1v1H19zM0 26h1v1H0zM10 28h1v1H10zM3 35h1v1H3zM24 40h1v1H24zM2 45h1v1H2zM14 52h1v1H14z"/><path fill="#fff612" d="M3 0h1v1H3zM7 2h1v1H7zM20 11h1v1H20zM14 12h1v1H14zM21 23h1v1H21zM19 35h1v1H19zM19 44h1v1H19zM22 48h1v1H22zM27 52h1v1H27zM0 53h1v1H0z"/><path fill="#fff219" d="M26 8h1v1H26zM25 14h1v1H25zM5 17h1v1H5zM1 26h1v1H1zM25 32h1v1H25zM9 37h1v1H9zM18 41h1v1H18zM25 48h1v1H25zM12 51h1v1H12zM16 56h1v1H16zM3 58h1v1H3z"/><path fill="#ffef1f" d="M26 0h1v1H26zM2 1h1v1H2zM9 16h1v1H9zM2 17h1v1H2zM6 17h1v1H6zM15 19h1v1H15zM9 20h1v1H9zM20 27h1v1H20zM5 29h1v1H5zM10 36h1v1H10zM22 36h1v1H22zM14 38h1v1H14zM2 42h1v1H2zM12 42h1v1H12zM12 55h1v1H12zM14 57h1v1H14zM18 57h1v1H18z"/><path fill="#ffed26" d="M24 5h1v1H24zM8 7h1v1H8zM18 9h1v1H18zM25 12h1v1H25zM0 13h1v1H0zM12 15h1v1H12zM19 19h1v1H19zM19 25h1v1H19zM20 30h1v1H20zM20 31h1v1H20zM5 32h1v1H5zM13 37h1v1H13zM6 38h1v1H6zM23 38h1v1H23zM9 45h2v1H9zM2 46h1v1H2zM7 47h1v1H7zM21 51h1v1H21zM5 52h1v1H5zM22 58h1v1H22z"/><path fill="#ffea2d" d="M23 3h1v1H23zM23 10h1v1H23zM6 18h1v1H6zM23 21h1v1H23zM8 22h1v1H8zM14 26h1v1H14zM20 28h1v1H20zM8 30h1v1H8zM11 39h1v1H11zM11 43h1v1H11zM16 43h1v1H16zM25 46h1v1H25zM14 47h1v1H14zM4 51h1v1H4zM15 52h1v1H15zM22 55h1v1H22zM23 56h1v1H23zM0 58h1v1H0z"/><path fill="#ffe833" d="M17 10h1v1H17zM7 11h1v1H7zM15 11h1v1H15zM20 12h1v1H20zM17 14h1v1H17zM12 31h1v1H12zM7 38h1v1H7zM18 40h1v1H18zM0 43h1v1H0zM12 49h1v1H12z"/><path fill="#ffe53a" d="M1 4h1v1H1zM12 33h1v1H12zM2 37h1v1H2zM2 52h1v1H2zM23 53h1v1H23z"/><path fill="#ffdc62" d="M17 6h1v1H17zM13 9h1v1H13zM19 13h1v1H19zM12 18h1v1H12zM13 22h1v1H13zM5 26h1v1H5zM10 32h1v1H10zM10 33h1v1H10zM11 35h1v1H11zM25 53h1v1H25zM7 58h1v1H7z"/><path fill="#ffdc69" d="M24 15h1v1H24zM27 19h1v1H27zM0 22h1v1H0zM11 26h1v1H11zM17 26h1v1H17zM18 32h1v1H18zM5 42h1v1H5zM3 59h1v1H3z"/><path fill="#ffdb70" d="M14 1h1v1H14zM17 4h1v1H17zM17 5h1v1H17zM16 8h1v1H16zM20 29h1v1H20zM15 31h1v1H15zM22 33h1v1H22zM8 34h1v1H8zM25 35h1v1H25zM25 38h1v1H25zM13 45h1v1H13zM25 59h1v1H25z"/><path fill="#ffdb76" d="M0 0h1v1H0zM22 2h1v1H22zM9 3h1v1H9zM11 17h1v1H11zM17 18h1v1H17zM5 21h1v1H5zM2 32h1v1H2zM5 35h1v1H5zM19 38h1v1H19zM3 40h1v1H3zM10 46h1v1H10zM20 47h1v1H20zM1 54h1v1H1z"/><path fill="#ffdb7d" d="M15 1h1v1H15zM19 2h1v1H19zM27 3h1v1H27zM4 4h1v1H4zM24 13h1v1H24zM1 14h1v1H1zM10 18h1v1H10zM10 20h1v1H10zM7 24h1v1H7zM21 28h1v1H21zM23 31h1v1H23zM4 33h1v1H4zM22 53h1v1H22zM25 57h1v1H25z"/><path fill="#ffdb84" d="M1 59h1v1H1z"/><path fill="#ffdfac" d="M2 5h2v1H2zM9 6h1v1H9zM19 10h1v1H19zM3 15h1v1H3zM12 16h1v1H12zM21 47h1v1H21zM23 48h1v1H23zM0 49h1v1H0zM27 49h1v1H27zM24 51h1v1H24zM4 52h1v1H4zM24 52h1v1H24z"/><path fill="#ffffff" d="M1 0h1v1H1zM6 2h1v1H6zM24 3h1v1H24zM10 6h1v1H10zM20 8h1v1H20zM8 10h1v1H8zM26 12h1v1H26zM11 13h1v1H11zM22 13h1v1H22zM3 14h1v1H3zM24 18h1v1H24zM9 24h1v1H9zM13 24h1v1H13zM25 24h1v1H25zM23 26h1v1H23zM19 28h1v1H19zM14 30h1v1H14zM20 40h1v1H20zM25 41h1v1H25zM25 43h1v1H25zM22 45h1v1H22zM17 51h1v1H17zM4 57h1v1H4zM6 58h1v1H6z"/></svg>
<text class="tt" x="540.1600000000001" y="195.1">t = 117</text>
<text class="tk" x="537.66" y="325.86" text-anchor="end">1</text>
<text class="tk" x="537.66" y="315.49" text-anchor="end">6</text>
<text class="tk" x="537.66" y="305.12" text-anchor="end">11</text>
<text class="tk" x="537.66" y="294.75" text-anchor="end">16</text>
<text class="tk" x="537.66" y="284.38" text-anchor="end">21</text>
<text class="tk" x="537.66" y="274.01" text-anchor="end">26</text>
<text class="tk" x="537.66" y="263.64" text-anchor="end">31</text>
<text class="tk" x="537.66" y="253.27" text-anchor="end">36</text>
<text class="tk" x="537.66" y="242.90" text-anchor="end">41</text>
<text class="tk" x="537.66" y="232.53" text-anchor="end">46</text>
<text class="tk" x="537.66" y="222.15" text-anchor="end">51</text>
<text class="tk" x="537.66" y="211.78" text-anchor="end">56</text>
<text class="tk" x="542.52" y="331.80" text-anchor="middle">1</text>
<text class="tk" x="554.86" y="331.80" text-anchor="middle">4</text>
<text class="tk" x="567.20" y="331.80" text-anchor="middle">7</text>
<text class="tk" x="579.55" y="331.80" text-anchor="middle">10</text>
<text class="tk" x="591.89" y="331.80" text-anchor="middle">13</text>
<text class="tk" x="604.23" y="331.80" text-anchor="middle">16</text>
<text class="tk" x="616.57" y="331.80" text-anchor="middle">19</text>
<text class="tk" x="628.92" y="331.80" text-anchor="middle">22</text>
<text class="tk" x="641.26" y="331.80" text-anchor="middle">25</text>
<text class="tk" x="653.60" y="331.80" text-anchor="middle">28</text>
<path d="M538.26 323.41H540.46M538.26 313.04H540.46M538.26 302.67H540.46M538.26 292.30H540.46M538.26 281.93H540.46M538.26 271.56H540.46M538.26 261.19H540.46M538.26 250.82H540.46M538.26 240.45H540.46M538.26 230.08H540.46M538.26 219.70H540.46M538.26 209.33H540.46M542.52 324.45V326.65M554.86 324.45V326.65M567.20 324.45V326.65M579.55 324.45V326.65M591.89 324.45V326.65M604.23 324.45V326.65M616.57 324.45V326.65M628.92 324.45V326.65M641.26 324.45V326.65M653.60 324.45V326.65" stroke="#333" stroke-width="0.75" fill="none"/>
<text class="at" x="598.06" y="341.50" text-anchor="middle">Column</text>
<text class="at" x="0" y="0" text-anchor="middle" transform="translate(526.56,262.23) rotate(-90)">Row</text>
<rect x="663.21" y="215.51" width="3.6" height="103.90" fill="url(#cb)"/>
<text class="cl" x="670.16" y="240.55">0.09</text>
<text class="cl" x="670.16" y="254.55">0.08</text>
<text class="cl" x="670.16" y="267.55">0.07</text>
<text class="cl" x="670.16" y="280.95">0.06</text>
<text class="cl" x="670.16" y="308.05">0.04</text>
</svg></body></html>
